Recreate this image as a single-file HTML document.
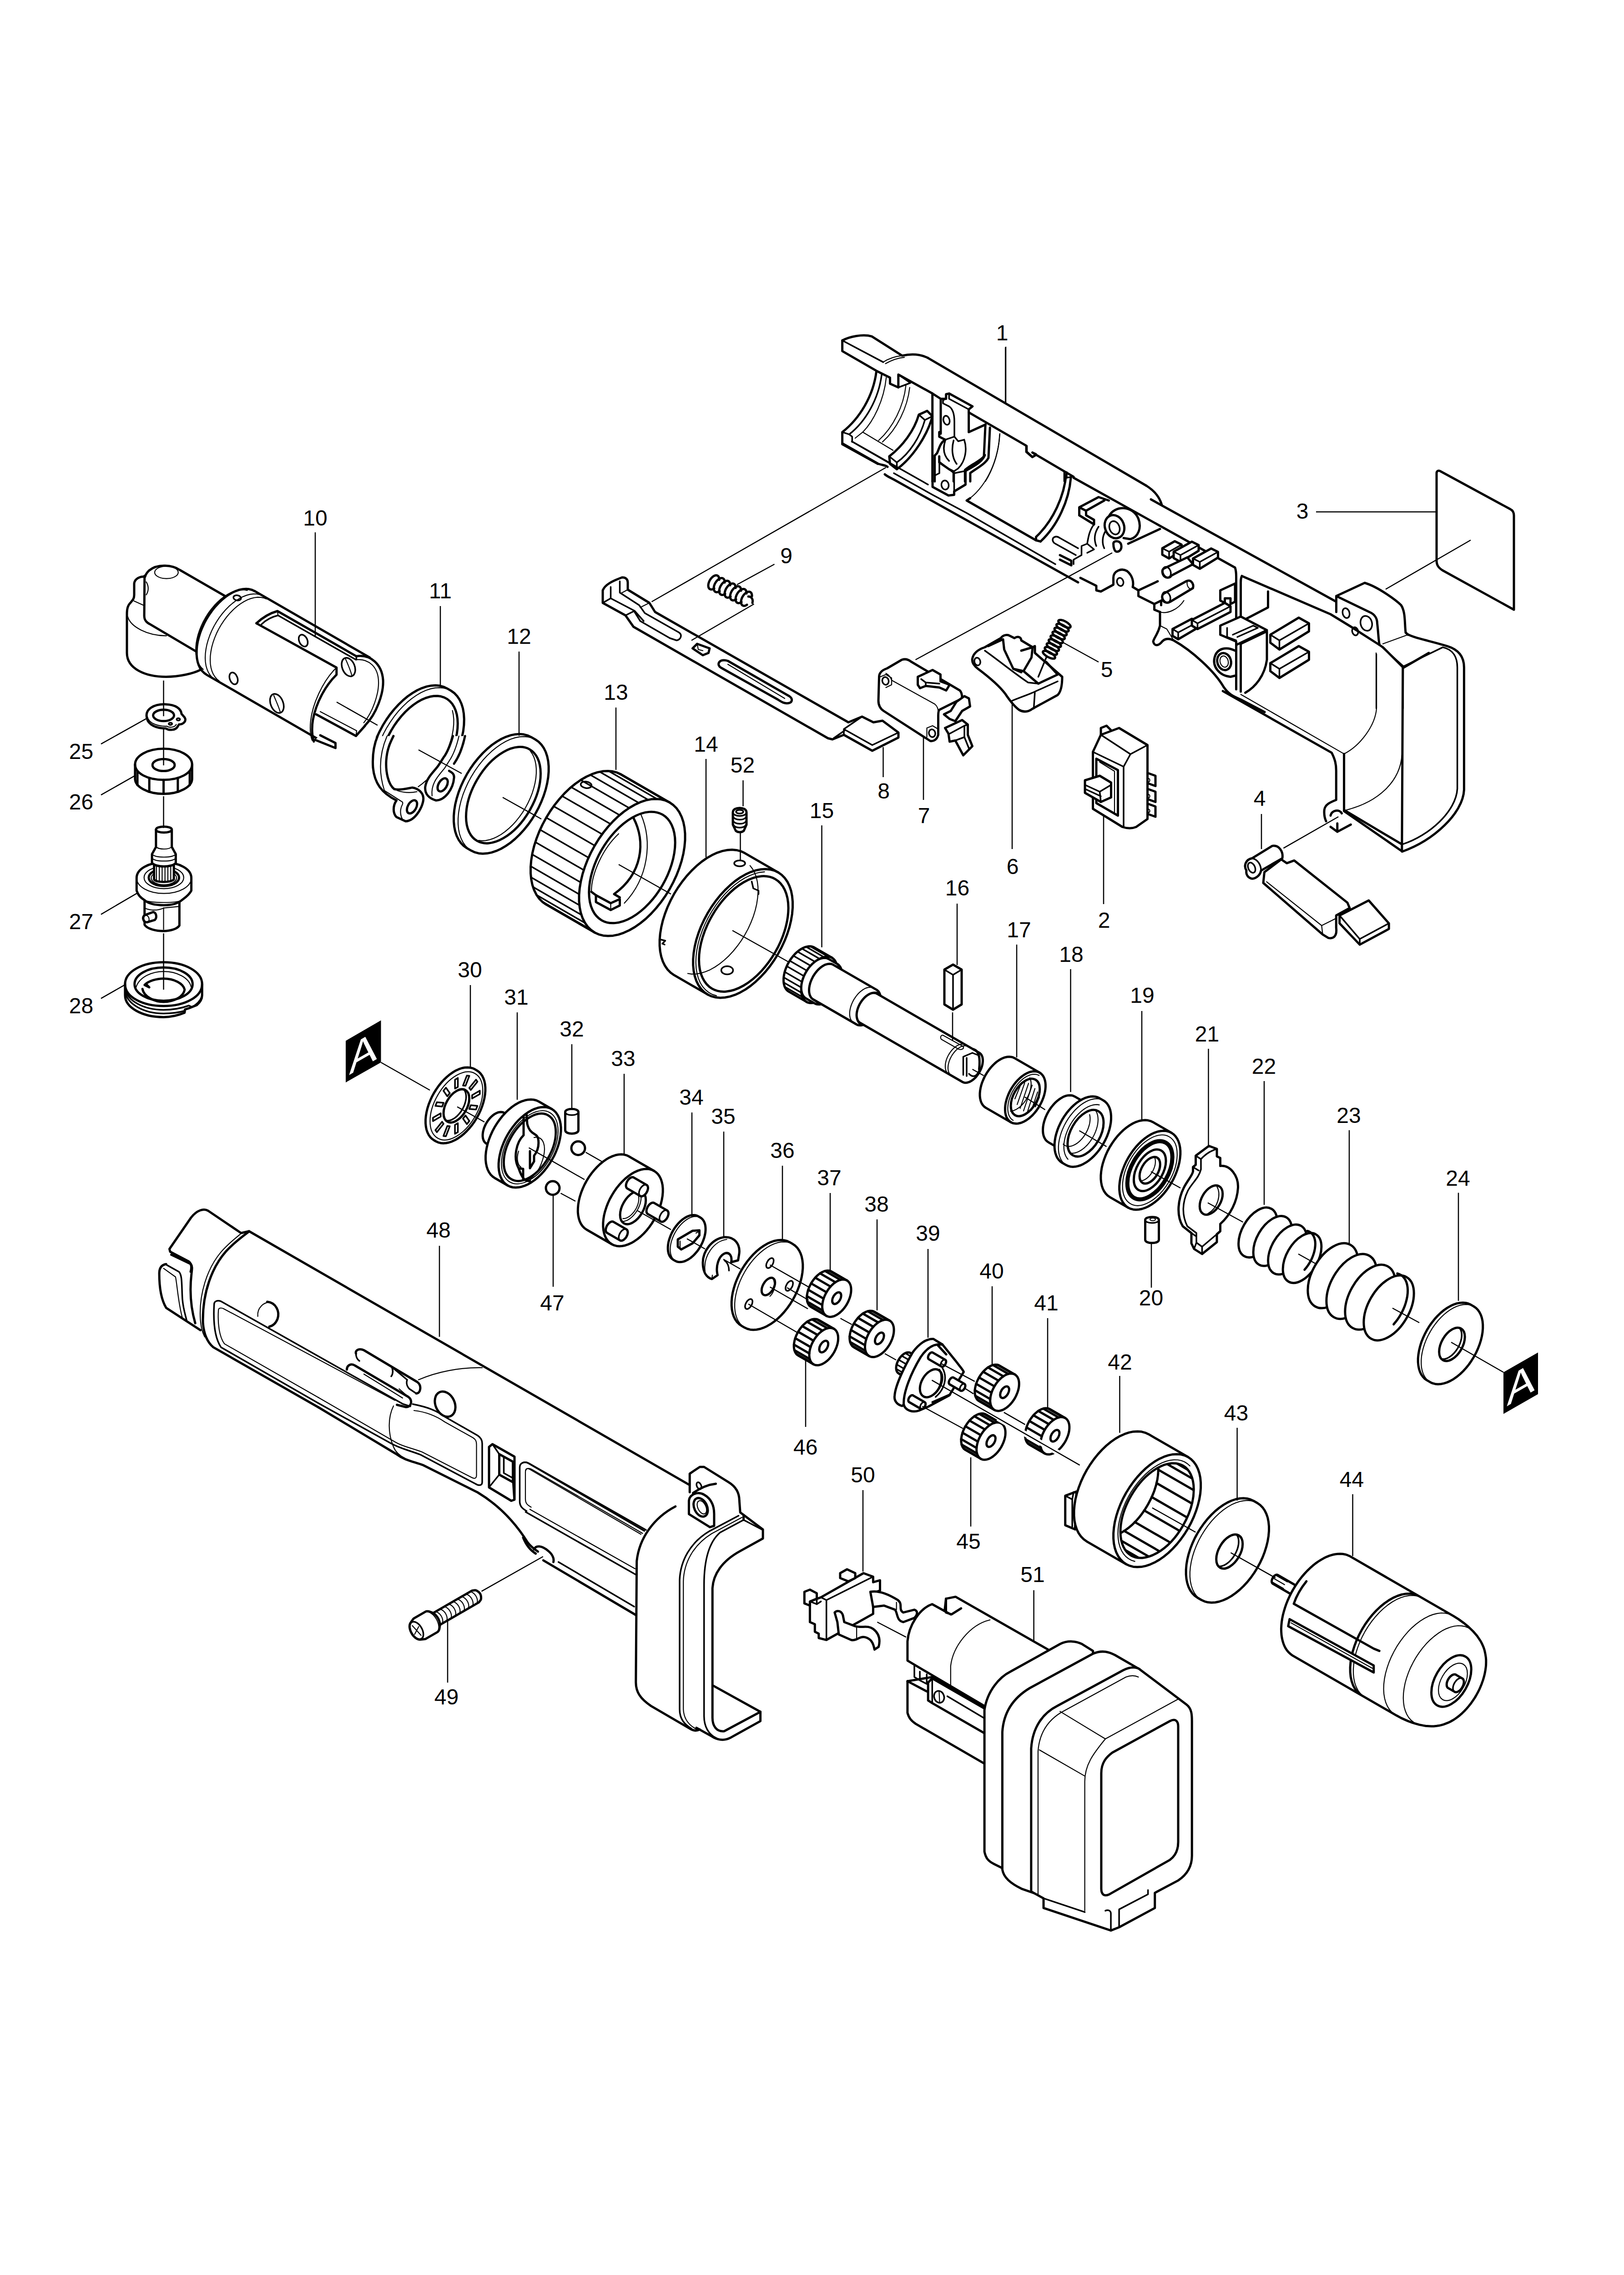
<!DOCTYPE html>
<html><head><meta charset="utf-8"><title>Parts diagram</title>
<style>
html,body{margin:0;padding:0;background:#fff}
svg{display:block}
.o{fill:#fff;stroke:#000;stroke-width:5;stroke-linejoin:round;stroke-linecap:round}
.n{fill:none;stroke:#000;stroke-width:5;stroke-linejoin:round;stroke-linecap:round}
.t{fill:none;stroke:#000;stroke-width:2.2;stroke-linejoin:round;stroke-linecap:round}
.tw{fill:#fff;stroke:#000;stroke-width:2.2;stroke-linejoin:round;stroke-linecap:round}
.m{fill:none;stroke:#000;stroke-width:3.5;stroke-linejoin:round;stroke-linecap:round}
.mw{fill:#fff;stroke:#000;stroke-width:3.5;stroke-linejoin:round;stroke-linecap:round}
.l{fill:none;stroke:#000;stroke-width:2.5}
.w{fill:#fff;stroke:none}
.k{fill:#000;stroke:none}
text{font-family:"Liberation Sans",sans-serif;font-size:48px;fill:#000}
</style></head><body>
<svg width="3570" height="5052" viewBox="0 0 3570 5052">
<g id="vstack"><path class="l" d="M222.0 1635.1 L323.0 1578.6"/>
<path class="l" d="M222.0 1747.2 L296.9 1704.7"/>
<path class="l" d="M222.0 2009.6 L302.1 1962.6"/>
<path class="l" d="M222.0 2194.3 L274.2 2164.7"/>
<text x="178.5" y="1668.0" text-anchor="middle">25</text>
<text x="178.5" y="1779.0" text-anchor="middle">26</text>
<text x="178.5" y="2041.7" text-anchor="middle">27</text>
<text x="178.5" y="2227.0" text-anchor="middle">28</text>
<path class="o" d="M 323.0 1578.6 C 317.8 1558.4 338.7 1546.9 364.8 1547.9 C 385.7 1548.6 397.9 1557.4 399.0 1568.9 L 405.9 1576.9 C 410.8 1584.5 403.1 1592.2 393.4 1592.2 L 389.9 1597.8 C 385.7 1604.7 371.8 1606.1 364.8 1600.9 C 343.9 1600.9 325.8 1593.2 323.0 1578.6 Z"/>
<path class="t" d="M 323.7 1574.1 C 326.5 1591.5 350.9 1596.7 366.6 1596.0 M 366.6 1596.0 C 373.5 1600.2 384.0 1598.5 387.5 1592.2"/>
<ellipse class="n" cx="359.6" cy="1572.3" rx="23.0" ry="12.5"/>
<path class="t" d="M 340.4 1567.1 C 350.9 1558.4 375.3 1559.4 381.5 1568.9"/>
<ellipse class="m" cx="392.0" cy="1581.0" rx="3.8" ry="2.4"/>
<ellipse class="m" cx="374.6" cy="1590.8" rx="3.8" ry="2.4"/>
<path class="o" d="M 296.9 1680.3 C 296.9 1661.2 324.7 1645.5 359.6 1645.5 C 394.4 1645.5 422.3 1661.2 422.3 1680.3 L 422.3 1711.7 C 422.3 1729.1 394.4 1744.8 359.6 1744.8 C 324.7 1744.8 296.9 1729.1 296.9 1711.7 Z"/>
<path class="n" d="M 296.9 1680.3 C 296.9 1699.5 324.7 1714.1 359.6 1714.1 C 394.4 1714.1 422.3 1699.5 422.3 1680.3"/>
<path class="n" d="M 302.1 1696.0 L 302.1 1725.6 M 328.2 1710.0 L 328.2 1740.3 M 359.6 1714.1 L 359.6 1744.8 M 390.9 1710.0 L 390.9 1740.3 M 417.1 1696.0 L 417.1 1725.6"/>
<ellipse class="n" cx="359.6" cy="1681.4" rx="24.4" ry="13.2"/>
<path class="o" d="M 274.9 2162.9 C 274.9 2135.7 312.5 2114.8 359.6 2114.8 C 406.6 2114.8 444.3 2135.7 444.3 2162.9 L 444.3 2187.3 C 444.3 2196.0 439.7 2203.0 432.8 2208.9 L 415.3 2215.9 L 406.6 2218.7 L 405.9 2225.6 C 389.2 2232.6 375.3 2235.4 359.6 2235.4 C 312.5 2235.4 274.9 2214.5 274.9 2187.3 Z"/>
<path class="n" d="M 274.9 2162.9 C 274.9 2190.8 312.5 2211.0 359.6 2211.0 C 406.6 2211.0 444.3 2190.8 444.3 2162.9"/>
<path class="m" d="M 275.6 2173.4 C 279.4 2199.5 316.0 2219.4 359.6 2219.4 C 378.7 2219.4 396.2 2216.9 415.3 2210.0 L 422.3 2213.4 C 431.0 2208.2 439.7 2201.3 443.2 2190.8"/>
<path class="m" d="M 275.6 2180.3 C 279.4 2206.5 316.0 2227.4 359.6 2227.4 C 375.3 2227.4 392.7 2225.6 405.9 2221.5"/>
<ellipse class="n" cx="359.6" cy="2162.9" rx="63.8" ry="36.6"/>
<path class="t" d="M 298.6 2171.6 C 305.6 2145.5 336.9 2135.1 359.6 2135.1 C 389.2 2135.1 415.3 2149.0 419.9 2168.2"/>
<path class="n" d="M 313.2 2173.4 C 316.0 2190.8 340.4 2202.0 359.6 2202.0 C 382.2 2202.0 403.1 2190.8 405.9 2175.1 C 403.1 2161.2 382.2 2150.7 359.6 2150.7 C 343.9 2150.7 326.5 2156.0 317.8 2164.7 L 328.2 2169.9 L 323.0 2164.7"/>
<path class="o" d="M 317.8 1978.3 L 317.8 2032.3 C 323.0 2041.7 343.9 2046.2 359.6 2046.2 C 375.3 2046.2 389.2 2041.7 394.4 2034.0 L 394.4 1978.3 Z"/>
<path class="t" d="M 359.6 1995.7 L 359.6 2042.7"/>
<path class="t" d="M 359.6 1995.7 L 394.4 1992.2"/>
<path class="t" d="M 317.8 1995.7 C 330.0 2000.9 343.9 2002.6 359.6 1995.7"/>
<path class="o" d="M 317.8 2011.4 L 336.9 2004.4 C 343.9 2006.1 345.6 2016.6 340.4 2021.8 L 323.0 2027.0 C 314.3 2027.0 311.8 2014.8 317.8 2011.4 Z"/>
<ellipse class="t" cx="322.0" cy="2019.4" rx="5.6" ry="7.7" transform="rotate(-15 322.0 2019.4)"/>
<path class="o" d="M 300.3 1929.5 C 300.3 1910.3 326.5 1895.3 360.3 1895.3 C 394.4 1895.3 420.6 1910.3 420.6 1929.5 L 420.6 1957.4 C 415.3 1967.8 406.6 1973.0 399.7 1978.3 C 389.2 1987.0 375.3 1989.4 360.3 1989.4 C 343.9 1989.4 326.5 1987.0 317.8 1978.3 C 309.1 1973.0 303.8 1967.8 300.3 1957.4 Z"/>
<path class="t" d="M 300.3 1929.5 C 300.3 1948.6 326.5 1963.6 360.3 1963.6 C 394.4 1963.6 420.6 1948.6 420.6 1929.5"/>
<path class="t" d="M 317.8 1978.3 C 330.0 1985.2 389.2 1985.2 399.7 1978.3"/>
<ellipse class="t" cx="360.3" cy="1928.8" rx="43.6" ry="24.4"/>
<ellipse class="n" cx="360.3" cy="1928.8" rx="33.4" ry="18.5"/>
<ellipse class="t" cx="360.3" cy="1929.5" rx="27.9" ry="15.0"/>
<path class="o" d="M 338.7 1898.1 L 338.7 1933.0 C 343.9 1939.9 375.3 1939.9 382.2 1933.0 L 382.2 1898.1 Z"/>
<path class="t" d="M 343.9 1903.3 L 343.9 1937.1 M 350.2 1905.1 L 350.2 1938.5 M 356.4 1905.8 L 356.4 1939.2 M 362.7 1905.8 L 362.7 1939.2 M 369.0 1905.1 L 369.0 1938.5 M 375.3 1903.3 L 375.3 1937.1"/>
<path class="o" d="M 342.9 1823.2 C 342.9 1814.5 377.7 1814.5 377.7 1823.2 L 377.7 1861.5 L 386.4 1877.2 L 386.4 1896.4 C 378.7 1906.8 342.2 1906.8 334.1 1896.4 L 334.1 1877.2 L 342.9 1861.5 Z"/>
<path class="n" d="M 342.9 1823.2 C 342.9 1831.9 377.7 1831.9 377.7 1823.2"/>
<path class="t" d="M 334.1 1877.2 C 342.2 1885.9 378.7 1885.9 386.4 1877.2 M 334.1 1885.9 C 342.2 1894.6 378.7 1894.6 386.4 1885.9 M 342.9 1861.5 C 350.9 1867.5 370.0 1867.5 377.7 1861.5"/>
<path class="l" d="M359.6 1495.7 L359.6 1574.1"/>
<path class="l" d="M359.6 1602.0 L359.6 1682.1"/>
<path class="l" d="M359.6 1750.0 L359.6 1819.7"/>
<path class="l" d="M359.6 2051.4 L359.6 2175.1"/></g>
<g id="part10"><path class="o" d="M 496.5 1311.0 L 395.0 1252.5 C 380.0 1242.5 347.5 1237.5 327.5 1254.0 C 322.5 1259.0 320.0 1262.5 319.0 1267.5 C 307.5 1266.0 296.0 1272.5 295.0 1282.5 L 295.0 1307.5 C 295.0 1316.0 291.5 1319.0 287.5 1324.0 C 280.0 1331.0 279.0 1340.0 279.0 1350.0 L 279.0 1435.0 C 279.0 1470.0 320.0 1487.5 365.0 1487.5 C 395.0 1487.5 425.0 1480.0 440.0 1472.5 Z"/>
<path class="n" d="M 317.8 1265.4 L 317.1 1352.9 C 317.1 1362.8 321.5 1367.7 328.9 1371.4 L 431.3 1431.8"/>
<path class="t" d="M 321.5 1278.9 Q 330.1 1293.7 321.5 1307.3"/>
<path class="t" d="M 294.4 1320.8 L 316.6 1330.7"/>
<path class="t" d="M 280.8 1355.4 C 287.0 1377.6 324.0 1397.3 365.9 1397.3"/>
<ellipse class="t" cx="365.9" cy="1258.0" rx="25.9" ry="13.6"/>
<path class="w" d="M560.0 1299.2 L554.2 1296.5 L547.8 1294.8 L541.0 1294.2 L533.9 1294.7 L526.4 1296.2 L518.7 1298.8 L510.9 1302.3 L503.1 1306.8 L495.3 1312.3 L487.6 1318.6 L480.2 1325.7 L473.0 1333.5 L466.2 1342.0 L459.9 1351.0 L454.0 1360.4 L448.8 1370.2 L444.2 1380.2 L440.2 1390.3 L437.1 1400.4 L434.6 1410.4 L433.0 1420.2 L432.2 1429.7 L432.2 1438.8 L433.0 1447.3 L434.6 1455.2 L437.0 1462.4 L440.2 1468.9 L444.1 1474.4 L448.8 1479.1 L454.0 1482.8 L713.8 1632.8 L719.6 1635.5 L726.0 1637.2 L732.8 1637.8 L739.9 1637.3 L747.4 1635.8 L755.1 1633.2 L762.9 1629.7 L770.7 1625.2 L778.5 1619.7 L786.2 1613.4 L793.6 1606.3 L800.8 1598.5 L807.6 1590.0 L813.9 1581.0 L819.8 1571.6 L825.0 1561.8 L829.6 1551.8 L833.6 1541.7 L836.8 1531.6 L839.2 1521.6 L840.8 1511.8 L841.6 1502.3 L841.6 1493.2 L840.8 1484.7 L839.2 1476.8 L836.8 1469.6 L833.6 1463.1 L829.7 1457.6 L825.1 1452.9 L819.8 1449.2 Z"/>
<path class="n" d="M560.0 1299.2 L554.2 1296.5 L547.8 1294.8 L541.0 1294.2 L533.9 1294.7 L526.4 1296.2 L518.7 1298.8 L510.9 1302.3 L503.1 1306.8 L495.3 1312.3 L487.6 1318.6 L480.2 1325.7 L473.0 1333.5 L466.2 1342.0 L459.9 1351.0 L454.0 1360.4 L448.8 1370.2 L444.2 1380.2 L440.2 1390.3 L437.1 1400.4 L434.6 1410.4 L433.0 1420.2 L432.2 1429.7 L432.2 1438.8 L433.0 1447.3 L434.6 1455.2 L437.0 1462.4 L440.2 1468.9 L444.1 1474.4 L448.8 1479.1 L454.0 1482.8 L699.1 1624.3"/>
<path class="n" d="M560.0 1299.2 L812.9 1445.2"/>
<path class="t" d="M446.8 1471.3 L442.2 1466.9 L438.3 1461.5 L435.1 1455.4 L432.7 1448.4 L431.1 1440.7 L430.3 1432.4 L430.4 1423.6 L431.2 1414.3 L432.9 1404.8 L435.3 1395.0 L438.6 1385.2 L442.5 1375.4 L447.1 1365.7 L452.4 1356.3 L458.2 1347.2 L464.5 1338.6 L471.2 1330.6 L478.3 1323.2 L485.7 1316.6 L493.2 1310.8 L500.8 1305.9 L508.4 1302.0 L516.0 1299.1 L523.3 1297.1 L530.4 1296.3 L537.2 1296.5 L543.5 1297.7"/>
<path class="t" d="M471.2 1492.7 L466.1 1488.6 L461.7 1483.5 L458.0 1477.6 L455.1 1470.8 L452.9 1463.2 L451.6 1454.9 L451.1 1446.1 L451.5 1436.7 L452.7 1427.0 L454.7 1416.9 L457.5 1406.8 L461.1 1396.5 L465.4 1386.3 L470.4 1376.3 L476.0 1366.6 L482.1 1357.3 L488.8 1348.5 L495.9 1340.2 L503.3 1332.7 L511.0 1326.0 L518.8 1320.1 L526.8 1315.1 L534.7 1311.1 L542.5 1308.1 L550.1 1306.1 L557.5 1305.3 L564.5 1305.5 L571.1 1306.8 L577.2 1309.2"/>
<path class="t" d="M481.8 1496.5 L476.8 1492.5 L472.5 1487.5 L468.8 1481.7 L465.9 1475.0 L463.8 1467.5 L462.5 1459.4 L462.1 1450.7 L462.4 1441.6 L463.6 1432.0 L465.5 1422.2 L468.3 1412.2 L471.8 1402.1 L476.0 1392.1 L480.9 1382.3 L486.4 1372.8 L492.5 1363.6 L499.0 1355.0 L506.0 1346.9 L513.3 1339.5 L520.8 1332.9 L528.5 1327.1 L536.3 1322.2 L544.0 1318.3 L551.7 1315.4 L559.2 1313.5 L566.4 1312.6 L573.3 1312.8 L579.8 1314.1 L585.7 1316.4"/>
<ellipse class="m" cx="521.5" cy="1314.0" rx="8.5" ry="5.5" transform="rotate(10 521.5 1314.0)"/>
<path class="w" d="M 783.4 1442.3 C 814.7 1437.4 839.6 1459.8 842.1 1494.8 C 843.4 1524.7 827.1 1559.7 809.7 1584.7 L 789.7 1614.6 L 689.8 1572.9 C 694.8 1544.7 714.8 1507.3 739.8 1482.3 L 739.8 1467.3 Z"/>
<path class="n" d="M 783.4 1442.3 C 814.7 1437.4 839.6 1459.8 842.1 1494.8 C 843.6 1524.7 827.1 1569.7 802.2 1594.7"/>
<path class="t" d="M 783.4 1449.8 C 809.7 1447.3 832.1 1464.8 832.1 1499.8 C 832.6 1524.7 819.7 1564.7 799.7 1588.4"/>
<path class="m" d="M 783.4 1442.3 L 783.4 1449.8"/>
<path class="n" d="M 563.7 1369.9 Q 584.9 1350.0 609.9 1343.0 L 783.4 1442.3"/>
<path class="n" d="M 563.7 1369.9 L 739.8 1467.3 L 739.8 1482.8 C 714.8 1507.3 694.8 1544.7 687.8 1582.2 C 684.8 1599.7 686.1 1619.6 689.8 1629.6"/>
<path class="m" d="M 575.0 1371.9 Q 589.9 1357.5 611.2 1352.5 L 782.2 1449.8"/>
<path class="t" d="M 609.9 1343.0 L 611.2 1352.5"/>
<path class="t" d="M 733.5 1473.6 C 709.8 1499.8 687.3 1544.7 682.8 1584.7 C 681.1 1602.1 682.3 1617.1 686.1 1627.1"/>
<path class="t" d="M 733.5 1473.6 L 739.8 1467.3"/>
<ellipse class="m" cx="666.6" cy="1407.9" rx="9.0" ry="13.7" transform="rotate(-25 666.6 1407.9)"/>
<ellipse class="mw" cx="766.0" cy="1466.1" rx="13.7" ry="21.2" transform="rotate(-22 766.0 1466.1)"/>
<path class="t" d="M 759.7 1448.6 C 764.7 1459.8 771.0 1474.8 773.5 1484.8"/>
<ellipse class="mw" cx="608.7" cy="1546.0" rx="13.7" ry="22.0" transform="rotate(-22 608.7 1546.0)"/>
<path class="t" d="M 601.9 1528.5 C 606.2 1539.7 613.7 1554.7 616.2 1565.9"/>
<ellipse class="mw" cx="513.5" cy="1491.0" rx="8.5" ry="13.5" transform="rotate(-20 513.5 1491.0)"/>
<path class="o" d="M 692.5 1626.0 L 737.5 1644.0 L 737.5 1633.0 L 704.0 1616.0"/>
<path class="n" d="M 695.0 1570.0 L 782.5 1617.5 L 802.5 1595.0"/>
<path class="t" d="M 704.0 1564.0 L 784.0 1606.0"/>
<path class="t" d="M 782.5 1617.5 L 784.0 1606.0"/></g>
<g id="part11"><path class="w" d="M828.4 1620.6 L834.6 1607.3 L841.5 1594.3 L849.3 1581.8 L857.7 1569.8 L866.8 1558.6 L876.3 1548.2 L886.2 1538.7 L896.4 1530.3 L906.8 1523.1 L917.2 1517.0 L927.6 1512.3 L937.8 1508.9 L947.7 1506.9 L957.3 1506.3 L966.3 1507.1 L974.7 1509.3 L982.5 1512.9 L991.2 1517.9 L998.5 1523.1 L1004.8 1529.7 L1010.2 1537.7 L1014.4 1546.8 L1017.6 1557.1 L1019.5 1568.4 L1020.3 1580.6 L1019.9 1593.5 L1018.3 1607.0 L1015.4 1620.8 L1002.0 1623.5 L1004.4 1612.0 L1005.8 1600.8 L1006.2 1590.0 L1005.7 1579.8 L1004.2 1570.3 L1001.7 1561.6 L998.3 1553.7 L994.1 1546.9 L989.0 1541.1 L983.1 1536.4 L976.5 1532.9 L969.3 1530.6 L961.6 1529.6 L953.3 1529.8 L944.7 1531.3 L935.9 1534.0 L926.8 1537.9 L917.7 1543.0 L908.6 1549.2 L899.7 1556.4 L891.0 1564.5 L882.6 1573.6 L874.7 1583.3 L867.2 1593.7 L860.4 1604.7 L854.3 1616.0 L848.9 1627.6 Z"/>
<path class="n" d="M828.4 1620.6 L834.6 1607.3 L841.5 1594.3 L849.3 1581.8 L857.7 1569.8 L866.8 1558.6 L876.3 1548.2 L886.2 1538.7 L896.4 1530.3 L906.8 1523.1 L917.2 1517.0 L927.6 1512.3 L937.8 1508.9 L947.7 1506.9 L957.3 1506.3 L966.3 1507.1 L974.7 1509.3 L982.5 1512.9 L991.2 1517.9 L998.5 1523.1 L1004.8 1529.7 L1010.2 1537.7 L1014.4 1546.8 L1017.6 1557.1 L1019.5 1568.4 L1020.3 1580.6 L1019.9 1593.5 L1018.3 1607.0 L1015.4 1620.8"/>
<path class="n" d="M1002.0 1623.5 L1004.4 1612.0 L1005.8 1600.8 L1006.2 1590.0 L1005.7 1579.8 L1004.2 1570.3 L1001.7 1561.6 L998.3 1553.7 L994.1 1546.9 L989.0 1541.1 L983.1 1536.4 L976.5 1532.9 L969.3 1530.6 L961.6 1529.6 L953.3 1529.8 L944.7 1531.3 L935.9 1534.0 L926.8 1537.9 L917.7 1543.0 L908.6 1549.2 L899.7 1556.4 L891.0 1564.5 L882.6 1573.6 L874.7 1583.3 L867.2 1593.7 L860.4 1604.7 L854.3 1616.0 L848.9 1627.6"/>
<path class="t" d="M837.1 1625.6 L843.2 1612.3 L850.2 1599.3 L858.0 1586.8 L866.4 1574.8 L875.4 1563.6 L885.0 1553.2 L894.9 1543.7 L905.1 1535.3 L915.5 1528.1 L925.9 1522.0 L936.3 1517.3 L946.5 1513.9 L956.4 1511.9 L965.9 1511.3 L975.0 1512.1 L983.4 1514.3 L991.2 1517.9"/>
<path class="t" d="M994.6 1561.7 L996.5 1571.1 L997.5 1581.3 L997.3 1592.2 L996.2 1603.5 L994.1 1615.2 L991.0 1627.2 L987.0 1639.2 L982.1 1651.2 L976.3 1663.0 L969.8 1674.4 L962.6 1685.4 L954.7 1695.8 L946.4 1705.5 L937.7 1714.4 L928.7 1722.2 L919.4 1729.1"/>
<path class="w" d="M 830.0 1617.7 C 821.6 1637.6 818.3 1662.6 820.0 1687.6 C 823.3 1720.9 838.3 1742.5 871.6 1759.2 C 863.3 1770.8 863.3 1787.5 871.6 1795.8 L 891.6 1805.0 C 913.2 1804.1 931.5 1770.8 930.7 1754.2 C 929.9 1740.9 918.2 1732.5 906.5 1730.9 C 896.6 1732.5 879.9 1737.5 866.6 1734.2 C 853.3 1724.2 847.5 1695.9 849.1 1670.9 C 850.8 1646.0 858.3 1631.0 864.9 1617.7 Z"/>
<path class="n" d="M 830.0 1617.7 C 821.6 1637.6 818.3 1662.6 820.0 1687.6 C 823.3 1720.9 838.3 1742.5 871.6 1759.2 C 863.3 1770.8 863.3 1787.5 871.6 1795.8 L 891.6 1805.0 C 913.2 1804.1 931.5 1770.8 930.7 1754.2 C 929.9 1740.9 918.2 1732.5 906.5 1730.9 C 896.6 1732.5 879.9 1737.5 866.6 1734.2 C 853.3 1724.2 847.5 1695.9 849.1 1670.9 C 850.8 1646.0 858.3 1631.0 864.9 1617.7"/>
<path class="t" d="M 850.8 1617.7 C 835.0 1654.3 831.6 1695.9 845.0 1737.5 L 881.6 1760.8 Q 886.6 1762.5 884.9 1767.5 C 878.2 1779.1 879.9 1792.5 884.9 1800.8"/>
<path class="t" d="M 873.3 1737.5 C 888.2 1742.5 904.9 1742.5 916.5 1740.0"/>
<ellipse class="o" cx="905.7" cy="1773.3" rx="9.2" ry="15.8" transform="rotate(30 905.7 1773.3)"/>
<path class="w" d="M 1022.2 1617.7 C 1016.4 1646.0 1008.1 1664.3 998.1 1678.4 L 987.3 1694.2 C 993.1 1697.6 998.9 1700.9 998.1 1709.2 C 996.4 1734.2 978.1 1759.2 958.2 1759.2 C 943.2 1754.2 933.2 1745.9 934.8 1729.2 C 938.2 1707.6 954.8 1695.9 964.8 1680.9 L 974.8 1665.1 C 983.1 1654.3 989.8 1637.6 995.6 1617.7 Z"/>
<path class="n" d="M 1022.2 1617.7 C 1016.4 1646.0 1008.1 1664.3 998.1 1678.4 M 987.3 1694.2 C 993.1 1697.6 998.9 1700.9 998.1 1709.2 C 996.4 1734.2 978.1 1759.2 958.2 1759.2 C 943.2 1754.2 933.2 1745.9 934.8 1729.2 C 938.2 1707.6 954.8 1695.9 964.8 1680.9 L 974.8 1665.1 C 983.1 1654.3 989.8 1637.6 995.6 1617.7"/>
<path class="t" d="M 1008.9 1617.7 C 1003.1 1642.6 996.4 1659.3 987.3 1672.6 L 977.3 1688.4 C 964.8 1704.2 946.5 1720.9 949.8 1749.2"/>
<ellipse class="o" cx="973.1" cy="1725.0" rx="9.2" ry="15.8" transform="rotate(30 973.1 1725.0)"/></g>
<g id="part12"><path class="o" d="M1167.5 1619.9 L1159.7 1616.3 L1151.3 1614.1 L1142.3 1613.3 L1132.7 1613.9 L1122.8 1615.9 L1112.6 1619.3 L1102.2 1624.0 L1091.8 1630.1 L1081.4 1637.3 L1071.2 1645.7 L1061.3 1655.2 L1051.8 1665.6 L1042.7 1676.8 L1034.3 1688.8 L1026.5 1701.3 L1019.6 1714.3 L1013.4 1727.6 L1008.2 1741.0 L1004.0 1754.5 L1000.7 1767.8 L998.6 1780.9 L997.5 1793.5 L997.5 1805.5 L998.6 1816.9 L1000.7 1827.4 L1003.9 1837.0 L1008.2 1845.6 L1013.4 1853.0 L1019.5 1859.2 L1026.5 1864.1 L1036.0 1869.6 L1043.8 1873.2 L1052.2 1875.4 L1061.2 1876.2 L1070.8 1875.6 L1080.7 1873.6 L1090.9 1870.2 L1101.3 1865.5 L1111.7 1859.4 L1122.1 1852.2 L1132.3 1843.8 L1142.2 1834.3 L1151.7 1823.9 L1160.8 1812.7 L1169.2 1800.7 L1177.0 1788.2 L1184.0 1775.2 L1190.1 1761.9 L1195.3 1748.5 L1199.6 1735.0 L1202.8 1721.7 L1205.0 1708.6 L1206.1 1696.0 L1206.1 1684.0 L1205.0 1672.6 L1202.8 1662.1 L1199.6 1652.5 L1195.3 1643.9 L1190.1 1636.5 L1184.0 1630.3 L1177.0 1625.4 Z"/>
<path class="t" d="M1036.0 1869.6 L1029.0 1864.7 L1022.9 1858.5 L1017.7 1851.1 L1013.5 1842.5 L1010.2 1832.9 L1008.1 1822.4 L1007.0 1811.0 L1007.0 1799.0 L1008.1 1786.4 L1010.3 1773.3 L1013.5 1760.0 L1017.7 1746.5 L1023.0 1733.1 L1029.1 1719.8 L1036.1 1706.8 L1043.8 1694.3 L1052.3 1682.3 L1061.3 1671.1 L1070.8 1660.7 L1080.8 1651.2 L1091.0 1642.8 L1101.3 1635.6 L1111.8 1629.5 L1122.1 1624.8 L1132.4 1621.4 L1142.3 1619.4 L1151.8 1618.8 L1160.8 1619.6 L1169.3 1621.8 L1177.0 1625.4"/>
<ellipse class="o" cx="1106.5" cy="1747.5" rx="66.9" ry="116.0" transform="rotate(30 1106.5 1747.5)"/>
<path class="t" d="M1165.8 1650.7 L1170.1 1656.8 L1173.6 1663.8 L1176.2 1671.7 L1178.0 1680.4 L1178.9 1689.7 L1178.9 1699.6 L1178.0 1710.0 L1176.2 1720.8 L1173.5 1731.7 L1170.1 1742.8 L1165.8 1753.8 L1160.7 1764.8 L1155.0 1775.5 L1148.6 1785.8 L1141.6 1795.6 L1134.2 1804.9 L1126.4 1813.4 L1118.2 1821.2 L1109.8 1828.1 L1101.3 1834.1 L1092.7 1839.0 L1084.1 1842.9 L1075.8 1845.7 L1067.6 1847.4 L1059.8 1847.9 L1052.3 1847.2"/></g>
<g id="part13"><path class="o" d="M1365.5 1702.1 L1356.4 1697.9 L1346.6 1695.3 L1336.0 1694.4 L1324.8 1695.1 L1313.2 1697.4 L1301.3 1701.4 L1289.1 1707.0 L1276.9 1714.0 L1264.8 1722.5 L1252.8 1732.3 L1241.2 1743.4 L1230.1 1755.6 L1219.5 1768.7 L1209.6 1782.7 L1200.6 1797.4 L1192.4 1812.6 L1185.2 1828.1 L1179.1 1843.9 L1174.1 1859.6 L1170.3 1875.2 L1167.8 1890.5 L1166.5 1905.2 L1166.5 1919.3 L1167.8 1932.6 L1170.3 1944.9 L1174.1 1956.2 L1179.1 1966.2 L1185.2 1974.9 L1192.3 1982.1 L1200.5 1987.9 L1307.0 2049.4 L1316.1 2053.6 L1326.0 2056.2 L1336.5 2057.1 L1347.7 2056.4 L1359.3 2054.1 L1371.2 2050.1 L1383.4 2044.5 L1395.6 2037.5 L1407.7 2029.0 L1419.7 2019.2 L1431.3 2008.1 L1442.4 1995.9 L1453.0 1982.8 L1462.9 1968.8 L1472.0 1954.1 L1480.1 1938.9 L1487.3 1923.4 L1493.4 1907.6 L1498.4 1891.9 L1502.2 1876.3 L1504.7 1861.0 L1506.0 1846.3 L1506.0 1832.2 L1504.7 1818.9 L1502.2 1806.6 L1498.4 1795.3 L1493.5 1785.3 L1487.4 1776.6 L1480.2 1769.4 L1472.0 1763.6 Z"/>
<path class="m" d="M1191.1 1981.0 L1297.6 2042.5 M1179.6 1967.1 L1286.1 2028.6 M1171.6 1949.2 L1278.1 2010.7 M1167.2 1927.9 L1273.7 1989.4 M1166.6 1903.8 L1273.1 1965.3 M1169.8 1877.8 L1276.4 1939.3 M1176.8 1850.7 L1283.3 1912.2 M1187.2 1823.5 L1293.8 1885.0 M1200.8 1796.9 L1307.4 1858.4 M1217.1 1771.9 L1323.7 1833.4 M1235.6 1749.4 L1342.1 1810.9 M1255.6 1729.9 L1362.1 1791.4 M1276.5 1714.3 L1383.0 1775.8 M1297.7 1702.9 L1404.2 1764.4 M1318.3 1696.2 L1424.8 1757.7 M1337.8 1694.4 L1444.3 1755.9 M1355.5 1697.6 L1462.0 1759.1"/>
<path class="n" d="M1307.0 2049.4 L1298.9 2043.6 L1291.7 2036.4 L1285.6 2027.7 L1280.6 2017.7 L1276.8 2006.4 L1274.3 1994.1 L1273.0 1980.8 L1273.0 1966.7 L1274.3 1952.0 L1276.9 1936.7 L1280.6 1921.1 L1285.6 1905.4 L1291.7 1889.6 L1298.9 1874.1 L1307.1 1858.9 L1316.1 1844.2 L1326.0 1830.2 L1336.6 1817.1 L1347.8 1804.9 L1359.4 1793.8 L1371.3 1784.0 L1383.5 1775.5 L1395.7 1768.5 L1407.8 1762.9 L1419.7 1758.9 L1431.4 1756.6 L1442.5 1755.9 L1453.1 1756.8 L1463.0 1759.4 L1472.0 1763.6"/>
<ellipse class="o" cx="1389.5" cy="1906.5" rx="77.3" ry="134.0" transform="rotate(30 1389.5 1906.5)"/>
<ellipse class="m" cx="1288.5" cy="1725.0" rx="12.0" ry="7.0" transform="rotate(8 1288.5 1725.0)"/>
<path class="t" d="M 1360.0 1832.5 C 1325.0 1865.0 1300.0 1920.0 1300.0 1960.0"/>
<path class="n" d="M 1392.5 1797.5 C 1420.0 1850.0 1412.5 1920.0 1350.0 1965.0 L 1362.5 1972.5"/>
<path class="t" d="M 1409.0 1790.0 C 1435.0 1850.0 1425.0 1930.0 1372.5 1985.0"/>
<path class="o" d="M 1310.0 1967.5 L 1342.5 1985.0 L 1362.5 1976.0 L 1362.5 1990.0 L 1342.5 2000.0 L 1310.0 1982.5 Z"/>
<path class="t" d="M 1342.5 1985.0 L 1342.5 2000.0"/>
<path class="n" d="M 1300.0 1960.0 L 1310.0 1967.5"/></g>
<g id="part14"><path class="o" d="M1637.0 1874.8 L1628.5 1870.8 L1619.2 1868.4 L1609.3 1867.5 L1598.8 1868.2 L1587.9 1870.4 L1576.7 1874.1 L1565.3 1879.3 L1553.8 1885.9 L1542.4 1893.9 L1531.2 1903.2 L1520.3 1913.6 L1509.8 1925.0 L1499.9 1937.4 L1490.6 1950.5 L1482.0 1964.3 L1474.4 1978.6 L1467.6 1993.2 L1461.9 2008.0 L1457.2 2022.7 L1453.7 2037.4 L1451.3 2051.7 L1450.1 2065.6 L1450.1 2078.8 L1451.3 2091.3 L1453.7 2102.9 L1457.2 2113.4 L1461.9 2122.8 L1467.6 2131.0 L1474.3 2137.8 L1482.0 2143.2 L1555.6 2185.7 L1564.1 2189.7 L1573.4 2192.1 L1583.3 2193.0 L1593.8 2192.3 L1604.7 2190.1 L1615.9 2186.4 L1627.3 2181.2 L1638.8 2174.6 L1650.2 2166.6 L1661.4 2157.3 L1672.3 2146.9 L1682.8 2135.5 L1692.8 2123.1 L1702.0 2110.0 L1710.6 2096.2 L1718.2 2081.9 L1725.0 2067.3 L1730.7 2052.5 L1735.4 2037.8 L1738.9 2023.1 L1741.3 2008.8 L1742.5 1994.9 L1742.5 1981.7 L1741.3 1969.2 L1739.0 1957.6 L1735.4 1947.1 L1730.8 1937.7 L1725.0 1929.5 L1718.3 1922.7 L1710.6 1917.3 Z"/>
<path class="n" d="M1555.6 2185.7 L1547.9 2180.3 L1541.2 2173.5 L1535.5 2165.3 L1530.8 2155.9 L1527.3 2145.4 L1524.9 2133.8 L1523.7 2121.3 L1523.7 2108.1 L1524.9 2094.2 L1527.3 2079.9 L1530.8 2065.2 L1535.5 2050.5 L1541.2 2035.7 L1548.0 2021.1 L1555.7 2006.8 L1564.2 1993.0 L1573.5 1979.9 L1583.4 1967.5 L1593.9 1956.1 L1604.8 1945.7 L1616.0 1936.4 L1627.4 1928.4 L1638.9 1921.8 L1650.3 1916.6 L1661.5 1912.9 L1672.4 1910.7 L1682.9 1910.0 L1692.8 1910.9 L1702.1 1913.3 L1710.6 1917.3"/>
<path class="t" d="M1574.9 2188.4 L1566.0 2185.6 L1558.0 2181.2 L1550.8 2175.4 L1544.5 2168.2 L1539.3 2159.7 L1535.2 2150.1 L1532.2 2139.3 L1530.3 2127.6 L1529.7 2115.0 L1530.2 2101.8 L1531.9 2088.0 L1534.8 2073.8 L1538.8 2059.3 L1543.9 2044.8 L1550.0 2030.4 L1557.1 2016.3 L1565.1 2002.5 L1573.8 1989.3 L1583.3 1976.9 L1593.3 1965.3 L1603.9 1954.6 L1614.7 1945.1 L1625.8 1936.8 L1637.1 1929.8 L1648.3 1924.2 L1659.3 1920.0 L1670.1 1917.3 L1680.6 1916.1"/>
<ellipse class="o" cx="1634.8" cy="2052.5" rx="80.2" ry="139.0" transform="rotate(30 1634.8 2052.5)"/>
<path class="t" d="M1648.7 1902.4 L1654.2 1909.5 L1658.8 1917.9 L1662.4 1927.3 L1664.8 1937.7 L1666.2 1949.0 L1666.4 1961.1 L1665.4 1973.7 L1663.4 1986.9 L1660.3 2000.3 L1656.1 2013.9 L1650.8 2027.5 L1644.7 2041.0 L1637.6 2054.1 L1629.8 2066.8 L1621.2 2078.8 L1612.0 2090.2 L1602.4 2100.6 L1592.3 2110.0 L1581.9 2118.4 L1571.4 2125.5 L1560.9 2131.4 L1550.4 2135.8 L1540.2 2138.9 L1530.2 2140.6 L1520.7 2140.8 L1511.8 2139.5"/>
<ellipse class="m" cx="1626.0" cy="1897.5" rx="12.0" ry="6.5"/>
<ellipse class="m" cx="1598.5" cy="2132.5" rx="13.0" ry="9.0"/>
<path class="m" d="M 1452.5 2065.0 L 1462.5 2067.5 L 1456.0 2074.0 L 1461.0 2076.0"/>
<path class="m" d="M 1652.5 1937.5 L 1656.0 1952.5 L 1667.5 1957.5 L 1667.5 1965.0"/></g>
<g id="part15"><path class="o" d="M1790.0 2082.4 L1786.9 2081.0 L1783.6 2080.1 L1780.0 2079.8 L1776.2 2080.1 L1772.3 2080.9 L1768.2 2082.2 L1764.1 2084.1 L1759.9 2086.5 L1755.8 2089.4 L1751.8 2092.7 L1747.8 2096.4 L1744.0 2100.6 L1740.5 2105.0 L1737.1 2109.8 L1734.0 2114.8 L1731.2 2119.9 L1728.8 2125.2 L1726.7 2130.6 L1725.0 2135.9 L1723.8 2141.2 L1722.9 2146.4 L1722.5 2151.4 L1722.5 2156.2 L1722.9 2160.7 L1723.8 2164.9 L1725.0 2168.7 L1726.7 2172.1 L1728.8 2175.0 L1731.2 2177.5 L1734.0 2179.4 L1773.0 2201.9 L1776.0 2203.4 L1779.4 2204.2 L1783.0 2204.5 L1786.8 2204.3 L1790.7 2203.5 L1794.8 2202.2 L1798.9 2200.3 L1803.0 2197.9 L1807.2 2195.0 L1811.2 2191.7 L1815.1 2187.9 L1818.9 2183.8 L1822.5 2179.3 L1825.9 2174.6 L1829.0 2169.6 L1831.7 2164.4 L1834.2 2159.2 L1836.2 2153.8 L1837.9 2148.5 L1839.2 2143.2 L1840.1 2138.0 L1840.5 2133.0 L1840.5 2128.2 L1840.1 2123.7 L1839.2 2119.5 L1837.9 2115.7 L1836.2 2112.3 L1834.2 2109.4 L1831.7 2106.9 L1829.0 2104.9 Z"/>
<path class="n" d="M1773.0 2201.9 L1770.2 2200.0 L1767.8 2197.5 L1765.7 2194.6 L1764.0 2191.2 L1762.7 2187.4 L1761.9 2183.2 L1761.4 2178.7 L1761.4 2173.9 L1761.9 2168.9 L1762.7 2163.7 L1764.0 2158.4 L1765.7 2153.1 L1767.8 2147.7 L1770.2 2142.4 L1773.0 2137.3 L1776.1 2132.3 L1779.4 2127.5 L1783.0 2123.1 L1786.8 2118.9 L1790.7 2115.2 L1794.8 2111.9 L1798.9 2109.0 L1803.1 2106.6 L1807.2 2104.7 L1811.2 2103.4 L1815.2 2102.6 L1819.0 2102.3 L1822.5 2102.6 L1825.9 2103.5 L1829.0 2104.9"/>
<path class="m" d="M1729.6 2175.9 L1768.5 2198.4 M1725.0 2168.7 L1764.0 2191.2 M1722.7 2159.2 L1761.7 2181.7 M1722.7 2148.1 L1761.7 2170.6 M1725.0 2135.9 L1764.0 2158.4 M1729.6 2123.4 L1768.6 2145.9 M1736.0 2111.4 L1775.0 2133.9 M1744.0 2100.6 L1783.0 2123.1 M1753.1 2091.5 L1792.1 2114.0 M1762.7 2084.8 L1801.7 2107.3 M1772.3 2080.9 L1811.2 2103.4 M1781.2 2079.9 L1820.2 2102.4"/>
<path class="o" d="M1821.6 2107.6 L1818.9 2106.4 L1815.9 2105.6 L1812.7 2105.3 L1809.3 2105.5 L1805.8 2106.2 L1802.2 2107.4 L1798.5 2109.1 L1794.8 2111.2 L1791.1 2113.8 L1787.5 2116.8 L1784.0 2120.1 L1780.6 2123.8 L1777.4 2127.8 L1774.4 2132.1 L1771.7 2136.5 L1769.2 2141.1 L1767.0 2145.8 L1765.2 2150.6 L1763.6 2155.4 L1762.5 2160.1 L1761.7 2164.7 L1761.3 2169.2 L1761.3 2173.5 L1761.7 2177.5 L1762.5 2181.2 L1763.6 2184.6 L1765.1 2187.7 L1767.0 2190.3 L1769.2 2192.5 L1771.6 2194.2 L1790.7 2205.2 L1793.4 2206.5 L1796.4 2207.3 L1799.6 2207.6 L1803.0 2207.4 L1806.5 2206.6 L1810.2 2205.4 L1813.8 2203.8 L1817.5 2201.6 L1821.2 2199.1 L1824.8 2196.1 L1828.3 2192.7 L1831.7 2189.0 L1834.9 2185.0 L1837.9 2180.8 L1840.7 2176.4 L1843.2 2171.8 L1845.3 2167.0 L1847.2 2162.3 L1848.7 2157.5 L1849.8 2152.8 L1850.6 2148.2 L1851.0 2143.7 L1851.0 2139.4 L1850.6 2135.4 L1849.8 2131.6 L1848.7 2128.2 L1847.2 2125.2 L1845.3 2122.6 L1843.2 2120.4 L1840.7 2118.6 Z"/>
<path class="t" d="M1796.2 2203.8 L1793.9 2202.2 L1791.9 2200.1 L1790.2 2197.7 L1788.8 2194.9 L1787.7 2191.8 L1787.0 2188.4 L1786.7 2184.7 L1786.7 2180.7 L1787.0 2176.6 L1787.8 2172.4 L1788.8 2168.0 L1790.2 2163.6 L1791.9 2159.2 L1793.9 2154.9 L1796.2 2150.7 L1798.7 2146.6 L1801.5 2142.7 L1804.4 2139.0 L1807.5 2135.6 L1810.8 2132.5 L1814.1 2129.8 L1817.5 2127.4 L1820.9 2125.4 L1824.3 2123.9 L1827.6 2122.8 L1830.8 2122.1 L1833.9 2121.9 L1836.9 2122.2 L1839.6 2122.9 L1842.2 2124.1"/>
<path class="o" d="M1831.6 2120.3 L1829.2 2119.2 L1826.6 2118.5 L1823.8 2118.3 L1820.8 2118.5 L1817.7 2119.1 L1814.5 2120.1 L1811.3 2121.6 L1808.0 2123.5 L1804.8 2125.8 L1801.6 2128.4 L1798.5 2131.3 L1795.5 2134.6 L1792.7 2138.1 L1790.1 2141.8 L1787.6 2145.7 L1785.5 2149.8 L1783.6 2153.9 L1781.9 2158.1 L1780.6 2162.3 L1779.6 2166.5 L1778.9 2170.6 L1778.6 2174.5 L1778.6 2178.3 L1778.9 2181.8 L1779.6 2185.1 L1780.6 2188.1 L1781.9 2190.7 L1783.5 2193.1 L1785.5 2195.0 L1787.6 2196.5 L1882.9 2251.5 L1885.3 2252.7 L1887.9 2253.3 L1890.8 2253.6 L1893.7 2253.4 L1896.8 2252.8 L1900.0 2251.7 L1903.3 2250.2 L1906.5 2248.4 L1909.8 2246.1 L1912.9 2243.5 L1916.0 2240.5 L1919.0 2237.3 L1921.8 2233.8 L1924.5 2230.0 L1926.9 2226.1 L1929.1 2222.1 L1931.0 2217.9 L1932.6 2213.7 L1933.9 2209.5 L1934.9 2205.4 L1935.6 2201.3 L1936.0 2197.4 L1936.0 2193.6 L1935.6 2190.1 L1934.9 2186.8 L1933.9 2183.8 L1932.6 2181.1 L1931.0 2178.8 L1929.1 2176.9 L1926.9 2175.3 Z"/>
<path class="t" d="M1891.0 2251.6 L1889.0 2250.2 L1887.2 2248.4 L1885.8 2246.3 L1884.6 2243.9 L1883.6 2241.2 L1883.0 2238.2 L1882.7 2235.0 L1882.7 2231.5 L1883.0 2228.0 L1883.6 2224.3 L1884.6 2220.5 L1885.8 2216.7 L1887.2 2212.8 L1889.0 2209.1 L1891.0 2205.4 L1893.2 2201.8 L1895.6 2198.4 L1898.1 2195.3 L1900.8 2192.3 L1903.6 2189.6 L1906.5 2187.2 L1909.5 2185.2 L1912.4 2183.5 L1915.4 2182.1 L1918.3 2181.2 L1921.1 2180.6 L1923.8 2180.4 L1926.4 2180.6 L1928.8 2181.3 L1931.0 2182.3"/>
<path class="t" d="M1876.8 2248.0 L1874.7 2246.5 L1872.7 2244.6 L1871.1 2242.2 L1869.8 2239.6 L1868.8 2236.6 L1868.1 2233.3 L1867.8 2229.8 L1867.8 2226.0 L1868.1 2222.1 L1868.8 2218.0 L1869.8 2213.8 L1871.1 2209.6 L1872.8 2205.4 L1874.7 2201.3 L1876.8 2197.2 L1879.3 2193.3 L1881.9 2189.6 L1884.7 2186.1 L1887.7 2182.8 L1890.8 2179.9 L1894.0 2177.3 L1897.2 2175.0 L1900.5 2173.1 L1903.7 2171.6 L1906.9 2170.6 L1910.0 2170.0 L1913.0 2169.8 L1915.8 2170.0 L1918.4 2170.7 L1920.8 2171.8"/>
<path class="o" d="M1927.7 2183.9 L1925.7 2182.9 L1923.5 2182.4 L1921.1 2182.2 L1918.6 2182.3 L1916.0 2182.8 L1913.3 2183.7 L1910.6 2185.0 L1907.9 2186.6 L1905.1 2188.5 L1902.5 2190.7 L1899.9 2193.1 L1897.4 2195.9 L1895.0 2198.8 L1892.8 2202.0 L1890.7 2205.3 L1888.9 2208.7 L1887.3 2212.2 L1885.9 2215.7 L1884.8 2219.2 L1884.0 2222.7 L1883.4 2226.1 L1883.1 2229.4 L1883.1 2232.6 L1883.4 2235.6 L1884.0 2238.3 L1884.8 2240.9 L1885.9 2243.1 L1887.3 2245.1 L1888.9 2246.7 L1890.7 2248.0 L2115.9 2378.0 L2117.9 2378.9 L2120.1 2379.5 L2122.5 2379.7 L2125.0 2379.5 L2127.6 2379.0 L2130.3 2378.1 L2133.0 2376.9 L2135.8 2375.3 L2138.5 2373.4 L2141.2 2371.2 L2143.8 2368.7 L2146.3 2366.0 L2148.6 2363.0 L2150.8 2359.9 L2152.9 2356.6 L2154.7 2353.2 L2156.3 2349.7 L2157.7 2346.2 L2158.8 2342.7 L2159.7 2339.2 L2160.2 2335.7 L2160.5 2332.4 L2160.5 2329.3 L2160.2 2326.3 L2159.7 2323.5 L2158.8 2321.0 L2157.7 2318.8 L2156.3 2316.8 L2154.7 2315.2 L2152.9 2313.9 Z"/>
<path class="n" d="M 2140.0 2306.0 C 2152.5 2310.0 2155.0 2325.0 2152.5 2350.0"/>
<path class="t" d="M2084.0 2359.4 L2082.4 2357.8 L2081.0 2355.9 L2079.8 2353.7 L2078.9 2351.2 L2078.3 2348.4 L2078.0 2345.4 L2078.0 2342.2 L2078.2 2338.9 L2078.8 2335.4 L2079.6 2331.9 L2080.7 2328.3 L2082.1 2324.7 L2083.7 2321.2 L2085.6 2317.8 L2087.7 2314.4 L2089.9 2311.3 L2092.3 2308.3 L2094.8 2305.5 L2097.5 2303.0 L2100.2 2300.8 L2102.9 2298.9 L2105.7 2297.3 L2108.5 2296.1 L2111.2 2295.3 L2113.8 2294.8 L2116.3 2294.7 L2118.7 2294.9 L2120.9 2295.6"/>
<path class="t" d="M2090.1 2362.9 L2088.4 2361.3 L2087.0 2359.4 L2085.9 2357.2 L2085.0 2354.7 L2084.4 2351.9 L2084.0 2348.9 L2084.0 2345.7 L2084.3 2342.4 L2084.8 2338.9 L2085.7 2335.4 L2086.8 2331.8 L2088.2 2328.2 L2089.8 2324.7 L2091.7 2321.3 L2093.7 2317.9 L2096.0 2314.8 L2098.4 2311.8 L2100.9 2309.0 L2103.5 2306.5 L2106.3 2304.3 L2109.0 2302.4 L2111.8 2300.8 L2114.5 2299.6 L2117.2 2298.8 L2119.9 2298.3 L2122.4 2298.2 L2124.7 2298.4 L2127.0 2299.1"/>
<path class="m" d="M 2117.5 2322.5 L 2137.5 2314.0 L 2150.0 2319.0 M 2117.5 2322.5 L 2117.5 2362.5 M 2125.0 2325.0 L 2125.0 2365.0 M 2130.0 2360.0 C 2140.0 2370.0 2147.5 2365.0 2152.5 2352.5"/>
<path class="t" d="M 2072.5 2275.0 L 2117.5 2300.0 C 2120.0 2306.0 2112.5 2307.5 2107.5 2306.0 L 2069.0 2284.0 C 2066.0 2279.0 2069.0 2275.0 2072.5 2275.0 Z"/></g>
<g id="part16"><path class="o" d="M 2076.0 2131.0 L 2095.0 2120.0 L 2114.0 2131.0 L 2114.0 2207.5 L 2095.0 2219.0 L 2076.0 2207.5 Z"/>
<path class="m" d="M 2076.0 2131.0 L 2095.0 2142.5 L 2114.0 2131.0 M 2095.0 2142.5 L 2095.0 2219.0"/></g>
<g id="part17"><path class="o" d="M2230.0 2325.4 L2226.5 2323.8 L2222.8 2322.9 L2218.7 2322.5 L2214.5 2322.8 L2210.0 2323.7 L2205.5 2325.2 L2200.8 2327.3 L2196.2 2330.0 L2191.5 2333.2 L2187.0 2337.0 L2182.6 2341.2 L2178.3 2345.9 L2174.3 2350.9 L2170.5 2356.2 L2167.0 2361.8 L2163.9 2367.6 L2161.2 2373.6 L2158.8 2379.6 L2156.9 2385.6 L2155.5 2391.5 L2154.5 2397.4 L2154.0 2403.0 L2154.0 2408.4 L2154.5 2413.5 L2155.5 2418.2 L2156.9 2422.5 L2158.8 2426.3 L2161.1 2429.6 L2163.9 2432.4 L2167.0 2434.6 L2222.4 2466.6 L2225.9 2468.2 L2229.7 2469.1 L2233.7 2469.5 L2238.0 2469.2 L2242.4 2468.3 L2246.9 2466.8 L2251.6 2464.7 L2256.2 2462.0 L2260.9 2458.8 L2265.4 2455.0 L2269.9 2450.8 L2274.1 2446.1 L2278.2 2441.1 L2281.9 2435.8 L2285.4 2430.2 L2288.5 2424.4 L2291.3 2418.4 L2293.6 2412.4 L2295.5 2406.4 L2296.9 2400.5 L2297.9 2394.6 L2298.4 2389.0 L2298.4 2383.6 L2297.9 2378.5 L2296.9 2373.8 L2295.5 2369.5 L2293.6 2365.7 L2291.3 2362.4 L2288.5 2359.6 L2285.4 2357.4 Z"/>
<path class="n" d="M2222.4 2466.6 L2219.3 2464.4 L2216.6 2461.6 L2214.2 2458.3 L2212.3 2454.5 L2210.9 2450.2 L2209.9 2445.5 L2209.5 2440.4 L2209.5 2435.0 L2209.9 2429.4 L2210.9 2423.5 L2212.4 2417.6 L2214.3 2411.6 L2216.6 2405.6 L2219.3 2399.6 L2222.4 2393.8 L2225.9 2388.2 L2229.7 2382.9 L2233.7 2377.9 L2238.0 2373.2 L2242.4 2369.0 L2247.0 2365.2 L2251.6 2362.0 L2256.3 2359.3 L2260.9 2357.2 L2265.5 2355.7 L2269.9 2354.8 L2274.2 2354.5 L2278.2 2354.9 L2282.0 2355.8 L2285.4 2357.4"/>
<path class="t" d="M2227.2 2462.4 L2224.3 2460.4 L2221.9 2457.9 L2219.8 2454.9 L2218.0 2451.4 L2216.7 2447.5 L2215.9 2443.3 L2215.4 2438.7 L2215.4 2433.8 L2215.9 2428.7 L2216.7 2423.4 L2218.0 2418.1 L2219.8 2412.6 L2221.9 2407.2 L2224.4 2401.8 L2227.2 2396.6 L2230.3 2391.5 L2233.7 2386.7 L2237.4 2382.1 L2241.2 2377.9 L2245.2 2374.1 L2249.4 2370.7 L2253.6 2367.7 L2257.8 2365.3 L2262.0 2363.4 L2266.1 2362.0 L2270.1 2361.2 L2274.0 2361.0 L2277.6 2361.3 L2281.0 2362.2 L2284.2 2363.6"/>
<ellipse class="o" cx="2253.9" cy="2412.0" rx="26.0" ry="45.0" transform="rotate(30 2253.9 2412.0)"/>
<path class="t" d="M 2231.0 2415.0 L 2245.0 2381.0 M 2236.0 2427.5 L 2252.5 2380.0 M 2242.5 2436.0 L 2261.0 2381.0 M 2250.0 2441.5 L 2269.0 2385.0 M 2259.0 2442.5 L 2275.0 2392.5 M 2267.5 2440.0 L 2281.0 2400.0 M 2276.0 2432.5 L 2285.0 2411.0"/>
<path class="t" d="M2263.7 2368.8 L2265.0 2371.7 L2265.9 2374.9 L2266.5 2378.4 L2266.7 2382.2 L2266.5 2386.2 L2266.0 2390.3 L2265.2 2394.6 L2264.0 2398.9 L2262.5 2403.3 L2260.6 2407.6 L2258.5 2411.9 L2256.1 2416.0 L2253.5 2420.0 L2250.7 2423.8 L2247.6 2427.3 L2244.5 2430.5 L2241.2 2433.3 L2237.9 2435.8 L2234.5 2437.9 L2231.1 2439.6 L2227.8 2440.9 L2224.6 2441.7 L2221.4 2442.1"/></g>
<g id="part18"><path class="o" d="M2362.5 2409.9 L2359.3 2408.4 L2355.8 2407.5 L2352.1 2407.2 L2348.2 2407.4 L2344.1 2408.2 L2339.9 2409.6 L2335.7 2411.6 L2331.4 2414.1 L2327.1 2417.1 L2322.9 2420.5 L2318.8 2424.4 L2314.9 2428.7 L2311.2 2433.3 L2307.7 2438.2 L2304.5 2443.4 L2301.6 2448.7 L2299.1 2454.2 L2297.0 2459.7 L2295.2 2465.3 L2293.9 2470.7 L2293.0 2476.1 L2292.6 2481.3 L2292.6 2486.2 L2293.0 2490.9 L2293.9 2495.2 L2295.2 2499.2 L2297.0 2502.7 L2299.1 2505.8 L2301.6 2508.3 L2304.5 2510.3 L2346.9 2534.8 L2350.1 2536.3 L2353.6 2537.2 L2357.3 2537.6 L2361.2 2537.3 L2365.3 2536.5 L2369.5 2535.1 L2373.8 2533.1 L2378.1 2530.7 L2382.3 2527.7 L2386.5 2524.2 L2390.6 2520.3 L2394.5 2516.1 L2398.3 2511.4 L2401.7 2506.5 L2404.9 2501.3 L2407.8 2496.0 L2410.3 2490.5 L2412.5 2485.0 L2414.2 2479.5 L2415.5 2474.0 L2416.4 2468.6 L2416.9 2463.4 L2416.9 2458.5 L2416.4 2453.8 L2415.5 2449.5 L2414.2 2445.5 L2412.5 2442.0 L2410.3 2439.0 L2407.8 2436.4 L2404.9 2434.4 Z"/>
<path class="o" d="M2417.0 2413.6 L2412.5 2411.5 L2407.6 2410.2 L2402.3 2409.7 L2396.8 2410.1 L2391.0 2411.3 L2385.1 2413.2 L2379.1 2416.0 L2373.0 2419.5 L2366.9 2423.7 L2361.0 2428.6 L2355.2 2434.1 L2349.7 2440.2 L2344.4 2446.7 L2339.5 2453.6 L2335.0 2460.9 L2331.0 2468.5 L2327.4 2476.2 L2324.4 2484.0 L2321.9 2491.9 L2320.0 2499.6 L2318.8 2507.2 L2318.1 2514.5 L2318.1 2521.5 L2318.7 2528.1 L2320.0 2534.3 L2321.9 2539.8 L2324.3 2544.8 L2327.4 2549.1 L2330.9 2552.7 L2335.0 2555.6 L2343.7 2560.6 L2348.2 2562.7 L2353.1 2564.0 L2358.3 2564.4 L2363.9 2564.1 L2369.6 2562.9 L2375.6 2561.0 L2381.6 2558.2 L2387.7 2554.7 L2393.7 2550.5 L2399.6 2545.6 L2405.4 2540.1 L2411.0 2534.0 L2416.2 2527.5 L2421.1 2520.5 L2425.6 2513.3 L2429.7 2505.7 L2433.3 2498.0 L2436.3 2490.2 L2438.8 2482.3 L2440.6 2474.6 L2441.9 2467.0 L2442.5 2459.7 L2442.5 2452.7 L2441.9 2446.0 L2440.7 2439.9 L2438.8 2434.3 L2436.3 2429.4 L2433.3 2425.1 L2429.7 2421.4 L2425.7 2418.6 Z"/>
<path class="t" d="M2343.7 2560.6 L2339.6 2557.7 L2336.0 2554.1 L2333.0 2549.8 L2330.5 2544.8 L2328.7 2539.3 L2327.4 2533.1 L2326.8 2526.5 L2326.8 2519.5 L2327.4 2512.2 L2328.7 2504.6 L2330.6 2496.9 L2333.0 2489.0 L2336.1 2481.2 L2339.6 2473.5 L2343.7 2465.9 L2348.2 2458.6 L2353.1 2451.7 L2358.4 2445.2 L2363.9 2439.1 L2369.7 2433.6 L2375.6 2428.7 L2381.6 2424.5 L2387.7 2421.0 L2393.7 2418.2 L2399.7 2416.3 L2405.4 2415.1 L2411.0 2414.7 L2416.2 2415.2 L2421.2 2416.5 L2425.7 2418.6"/>
<path class="t" d="M2347.6 2547.8 L2344.8 2544.2 L2342.5 2540.0 L2340.7 2535.3 L2339.4 2530.0 L2338.8 2524.3 L2338.7 2518.2 L2339.1 2511.9 L2340.2 2505.3 L2341.7 2498.5 L2343.9 2491.6 L2346.5 2484.8 L2349.6 2478.0 L2353.1 2471.4 L2357.1 2465.0 L2361.4 2458.9 L2366.0 2453.2 L2370.9 2448.0 L2376.0 2443.2 L2381.2 2439.0 L2386.5 2435.4 L2391.8 2432.5 L2397.1 2430.2 L2402.2 2428.7 L2407.2 2427.8 L2412.0 2427.7 L2416.5 2428.4"/>
<ellipse class="o" cx="2386.4" cy="2490.6" rx="32.3" ry="56.0" transform="rotate(30 2386.4 2490.6)"/>
<path class="t" d="M2408.6 2440.9 L2410.4 2444.1 L2411.9 2447.7 L2413.0 2451.7 L2413.6 2456.1 L2413.9 2460.7 L2413.6 2465.6 L2413.0 2470.7 L2411.9 2476.0 L2410.4 2481.3 L2408.5 2486.6 L2406.3 2492.0 L2403.7 2497.2 L2400.7 2502.3 L2397.5 2507.1 L2394.1 2511.8 L2390.4 2516.1 L2386.5 2520.0 L2382.5 2523.6 L2378.4 2526.7 L2374.3 2529.3 L2370.1 2531.5 L2366.0 2533.1 L2362.0 2534.1 L2358.2 2534.7 L2354.5 2534.6"/>
<path class="t" d="M2395.3 2449.7 L2396.0 2453.3 L2396.4 2457.1 L2396.3 2461.1 L2395.9 2465.3 L2395.2 2469.7 L2394.0 2474.2 L2392.6 2478.7 L2390.8 2483.2 L2388.6 2487.6 L2386.2 2491.9 L2383.6 2496.1 L2380.7 2500.0 L2377.6 2503.7 L2374.4 2507.1 L2371.0 2510.1 L2367.6 2512.8 L2364.1 2515.0 L2360.6 2516.8 L2357.1 2518.2 L2353.8 2519.1 L2350.5 2519.6 L2347.4 2519.5 L2344.5 2519.0 L2341.8 2517.9 L2339.4 2516.5 L2337.2 2514.5"/></g>
<g id="part19"><path class="o" d="M2534.5 2466.2 L2529.3 2463.8 L2523.6 2462.3 L2517.5 2461.8 L2511.1 2462.2 L2504.4 2463.5 L2497.5 2465.8 L2490.5 2469.0 L2483.5 2473.1 L2476.5 2478.0 L2469.6 2483.6 L2463.0 2490.0 L2456.5 2497.0 L2450.4 2504.6 L2444.8 2512.6 L2439.5 2521.1 L2434.8 2529.8 L2430.7 2538.8 L2427.2 2547.9 L2424.3 2556.9 L2422.1 2565.9 L2420.7 2574.7 L2419.9 2583.2 L2419.9 2591.3 L2420.7 2599.0 L2422.1 2606.0 L2424.3 2612.5 L2427.2 2618.3 L2430.7 2623.3 L2434.8 2627.5 L2439.5 2630.8 L2480.2 2654.3 L2485.4 2656.7 L2491.1 2658.2 L2497.2 2658.7 L2503.6 2658.3 L2510.3 2657.0 L2517.2 2654.7 L2524.2 2651.5 L2531.2 2647.4 L2538.2 2642.5 L2545.1 2636.9 L2551.8 2630.5 L2558.2 2623.5 L2564.3 2615.9 L2569.9 2607.9 L2575.2 2599.4 L2579.9 2590.7 L2584.0 2581.7 L2587.5 2572.6 L2590.4 2563.6 L2592.6 2554.6 L2594.0 2545.8 L2594.8 2537.3 L2594.8 2529.2 L2594.0 2521.5 L2592.6 2514.5 L2590.4 2508.0 L2587.5 2502.2 L2584.0 2497.2 L2579.9 2493.0 L2575.2 2489.7 Z"/>
<path class="n" d="M2480.2 2654.3 L2475.5 2651.0 L2471.4 2646.8 L2467.9 2641.8 L2465.0 2636.0 L2462.8 2629.5 L2461.4 2622.5 L2460.6 2614.8 L2460.6 2606.7 L2461.4 2598.2 L2462.8 2589.4 L2465.0 2580.4 L2467.9 2571.4 L2471.4 2562.3 L2475.5 2553.3 L2480.2 2544.6 L2485.5 2536.1 L2491.1 2528.1 L2497.2 2520.5 L2503.7 2513.5 L2510.3 2507.1 L2517.2 2501.5 L2524.2 2496.6 L2531.2 2492.5 L2538.2 2489.3 L2545.1 2487.0 L2551.8 2485.7 L2558.2 2485.3 L2564.3 2485.8 L2570.0 2487.3 L2575.2 2489.7"/>
<ellipse class="t" cx="2527.7" cy="2572.0" rx="49.0" ry="85.0" transform="rotate(30 2527.7 2572.0)"/>
<ellipse cx="2527.7" cy="2572.0" rx="40.4" ry="70.0" transform="rotate(30 2527.7 2572.0)" style="fill:none;stroke:#000;stroke-width:9"/>
<ellipse class="n" cx="2527.7" cy="2572.0" rx="28.8" ry="50.0" transform="rotate(30 2527.7 2572.0)"/>
<ellipse class="o" cx="2527.7" cy="2572.0" rx="18.5" ry="32.0" transform="rotate(30 2527.7 2572.0)"/>
<path class="t" d="M2537.8 2543.1 L2538.7 2545.2 L2539.4 2547.5 L2539.8 2550.0 L2539.9 2552.6 L2539.8 2555.5 L2539.5 2558.4 L2538.9 2561.4 L2538.0 2564.5 L2536.9 2567.6 L2535.6 2570.7 L2534.1 2573.7 L2532.4 2576.7 L2530.6 2579.5 L2528.5 2582.2 L2526.4 2584.7 L2524.1 2586.9 L2521.8 2589.0 L2519.4 2590.8 L2517.0 2592.3 L2514.6 2593.5 L2512.3 2594.4 L2510.0 2594.9 L2507.7 2595.2"/></g>
<g id="part20"><path class="o" d="M 2517.5 2681.0 C 2517.5 2672.5 2547.5 2672.5 2547.5 2681.0 L 2547.5 2725.0 C 2547.5 2734.0 2517.5 2734.0 2517.5 2725.0 Z"/>
<path class="m" d="M 2517.5 2681.0 C 2517.5 2690.0 2547.5 2690.0 2547.5 2681.0"/>
<ellipse class="t" cx="2534.0" cy="2680.0" rx="6.0" ry="3.0"/></g>
<g id="part21"><path class="o" d="M 2628.5 2540.0 L 2657.5 2518.5 L 2675.0 2525.0 L 2675.0 2541.5 L 2682.5 2545.0 L 2682.5 2562.5 C 2705.0 2560.0 2722.5 2585.0 2721.5 2610.0 C 2720.0 2640.0 2705.0 2670.0 2682.5 2690.0 L 2682.5 2706.0 L 2675.0 2712.5 L 2675.0 2730.0 L 2642.5 2756.0 L 2625.0 2745.0 L 2619.0 2732.5 L 2619.0 2710.0 L 2600.0 2695.0 C 2585.0 2670.0 2590.0 2635.0 2602.5 2610.0 C 2610.0 2595.0 2620.0 2585.0 2622.5 2575.0 L 2622.5 2565.0 L 2628.5 2560.0 Z"/>
<path class="m" d="M 2628.5 2540.0 L 2640.0 2547.5 L 2640.0 2570.0 C 2635.0 2590.0 2620.0 2600.0 2611.0 2617.5 C 2599.0 2642.5 2597.5 2670.0 2610.0 2695.0 L 2630.0 2710.0 L 2630.0 2731.0 L 2642.5 2740.0 L 2642.5 2756.0 M 2640.0 2547.5 Q 2655.0 2531.0 2675.0 2525.0 M 2642.5 2740.0 L 2675.0 2712.5 M 2622.5 2565.0 L 2635.0 2572.5 M 2619.0 2710.0 L 2630.0 2717.5 M 2630.0 2731.0 L 2625.0 2745.0"/>
<ellipse class="o" cx="2662.5" cy="2637.5" rx="21.0" ry="35.0" transform="rotate(30 2662.5 2637.5)"/>
<path class="t" d="M 2675.0 2607.5 C 2685.0 2625.0 2677.5 2655.0 2655.0 2667.5"/></g>
<g id="part22"><ellipse class="o" cx="2765.0" cy="2708.7" rx="34.6" ry="60.0" transform="rotate(30 2765.0 2708.7)"/>
<ellipse class="o" cx="2797.5" cy="2727.4" rx="34.6" ry="60.0" transform="rotate(30 2797.5 2727.4)"/>
<ellipse class="o" cx="2830.0" cy="2746.1" rx="34.6" ry="60.0" transform="rotate(30 2830.0 2746.1)"/>
<ellipse class="o" cx="2862.5" cy="2764.8" rx="34.6" ry="60.0" transform="rotate(30 2862.5 2764.8)"/>
<path class="n" d="M2873.9 2705.4 L2877.3 2706.5 L2880.4 2708.2 L2883.1 2710.4 L2885.5 2713.1 L2887.5 2716.3 L2889.1 2720.0 L2890.3 2724.1 L2891.1 2728.5 L2891.4 2733.3 L2891.2 2738.4 L2890.6 2743.6 L2889.6 2749.0 L2888.1 2754.5 L2886.2 2760.1 L2884.0 2765.6 L2881.3 2771.0 L2878.3 2776.3 L2875.0 2781.4 L2871.5 2786.2 L2867.7 2790.7"/></g>
<g id="part23"><ellipse class="o" cx="2930.0" cy="2803.7" rx="45.0" ry="78.0" transform="rotate(30 2930.0 2803.7)"/>
<ellipse class="o" cx="2971.0" cy="2827.3" rx="45.0" ry="78.0" transform="rotate(30 2971.0 2827.3)"/>
<ellipse class="o" cx="3012.0" cy="2850.9" rx="45.0" ry="78.0" transform="rotate(30 3012.0 2850.9)"/>
<ellipse class="o" cx="3053.0" cy="2874.5" rx="45.0" ry="78.0" transform="rotate(30 3053.0 2874.5)"/>
<path class="n" d="M3071.7 2798.9 L3076.1 2800.4 L3080.2 2802.5 L3083.8 2805.4 L3086.9 2809.0 L3089.6 2813.2 L3091.7 2818.0 L3093.2 2823.4 L3094.2 2829.2 L3094.6 2835.4 L3094.4 2842.0 L3093.6 2848.9 L3092.2 2856.0 L3090.3 2863.2 L3087.9 2870.5 L3084.9 2877.7 L3081.4 2884.8 L3077.5 2891.8 L3073.2 2898.4 L3068.5 2904.7 L3063.6 2910.7"/></g>
<g id="part24"><path class="o" d="M3233.0 2867.4 L3227.7 2865.0 L3222.0 2863.5 L3215.8 2863.0 L3209.3 2863.4 L3202.6 2864.7 L3195.6 2867.0 L3188.6 2870.3 L3181.5 2874.4 L3174.4 2879.3 L3167.5 2885.0 L3160.7 2891.5 L3154.2 2898.5 L3148.1 2906.2 L3142.3 2914.3 L3137.0 2922.9 L3132.3 2931.7 L3128.1 2940.8 L3124.5 2949.9 L3121.7 2959.1 L3119.5 2968.2 L3118.0 2977.0 L3117.2 2985.6 L3117.2 2993.8 L3118.0 3001.6 L3119.4 3008.7 L3121.6 3015.3 L3124.5 3021.1 L3128.1 3026.1 L3132.2 3030.4 L3137.0 3033.7 L3143.9 3037.7 L3149.2 3040.2 L3155.0 3041.7 L3161.1 3042.2 L3167.6 3041.8 L3174.3 3040.4 L3181.3 3038.1 L3188.4 3034.9 L3195.5 3030.8 L3202.5 3025.9 L3209.5 3020.1 L3216.2 3013.7 L3222.7 3006.6 L3228.9 2999.0 L3234.6 2990.8 L3239.9 2982.3 L3244.7 2973.4 L3248.8 2964.4 L3252.4 2955.2 L3255.3 2946.1 L3257.5 2937.0 L3259.0 2928.1 L3259.7 2919.5 L3259.7 2911.3 L3259.0 2903.6 L3257.5 2896.4 L3255.3 2889.9 L3252.4 2884.1 L3248.9 2879.0 L3244.7 2874.8 L3239.9 2871.4 Z"/>
<path class="t" d="M3143.9 3037.7 L3139.2 3034.4 L3135.0 3030.1 L3131.5 3025.1 L3128.6 3019.3 L3126.4 3012.7 L3124.9 3005.6 L3124.2 2997.8 L3124.2 2989.6 L3124.9 2981.0 L3126.4 2972.2 L3128.6 2963.1 L3131.5 2953.9 L3135.0 2944.8 L3139.2 2935.7 L3144.0 2926.9 L3149.2 2918.3 L3155.0 2910.2 L3161.1 2902.5 L3167.6 2895.5 L3174.4 2889.0 L3181.3 2883.3 L3188.4 2878.4 L3195.5 2874.3 L3202.6 2871.0 L3209.5 2868.7 L3216.3 2867.4 L3222.8 2867.0 L3228.9 2867.5 L3234.7 2869.0 L3239.9 2871.4"/>
<ellipse class="o" cx="3191.9" cy="2954.6" rx="23.1" ry="40.0" transform="rotate(30 3191.9 2954.6)"/>
<path class="m" d="M3209.5 2920.1 L3210.8 2922.4 L3211.9 2925.0 L3212.7 2927.8 L3213.1 2930.9 L3213.3 2934.2 L3213.1 2937.7 L3212.7 2941.4 L3211.9 2945.1 L3210.8 2948.9 L3209.5 2952.8 L3207.9 2956.6 L3206.0 2960.3 L3203.9 2963.9 L3201.6 2967.4 L3199.1 2970.7 L3196.5 2973.8 L3193.7 2976.6 L3190.9 2979.1 L3187.9 2981.3 L3185.0 2983.2 L3182.0 2984.8 L3179.1 2985.9 L3176.3 2986.7 L3173.5 2987.1 L3170.9 2987.0"/></g>
<g id="axis_upper"><path class="l" d="M740.0 1543.0 L830.0 1594.0"/>
<path class="l" d="M920.0 1648.0 L1015.0 1700.0"/>
<path class="l" d="M1105.0 1752.5 L1190.0 1800.0"/>
<path class="l" d="M1360.0 1900.0 L1475.0 1965.0"/>
<path class="l" d="M1610.0 2045.0 L1735.0 2115.0"/>
<path class="l" d="M2137.5 2350.0 L2162.5 2364.0"/>
<path class="l" d="M2252.5 2411.0 L2297.5 2439.0"/>
<path class="l" d="M2372.5 2485.0 L2432.5 2520.0"/>
<path class="l" d="M2530.0 2575.0 L2595.0 2611.0"/>
<path class="l" d="M2655.0 2643.5 L2732.5 2686.0"/>
<path class="l" d="M2854.0 2756.0 L2892.5 2777.5"/>
<path class="l" d="M3061.0 2875.0 L3120.0 2907.0"/>
<path class="l" d="M3190.0 2950.0 L3305.0 3016.0"/></g>
<g id="labels_upper"><text x="693.0" y="1155.0" text-anchor="middle">10</text>
<path class="l" d="M693.0 1170.0 L693.0 1398.0"/>
<text x="968.0" y="1315.0" text-anchor="middle">11</text>
<path class="l" d="M968.0 1332.0 L968.0 1510.0"/>
<text x="1141.0" y="1415.0" text-anchor="middle">12</text>
<path class="l" d="M1141.0 1432.0 L1141.0 1617.0"/>
<text x="1354.0" y="1538.0" text-anchor="middle">13</text>
<path class="l" d="M1354.0 1555.0 L1354.0 1692.0"/>
<text x="1552.0" y="1652.0" text-anchor="middle">14</text>
<path class="l" d="M1552.0 1668.0 L1552.0 1884.0"/>
<text x="2104.5" y="1967.5" text-anchor="middle">16</text>
<path class="l" d="M2104.0 1986.0 L2104.0 2121.0"/>
<text x="2240.0" y="2060.0" text-anchor="middle">17</text>
<path class="l" d="M2235.0 2076.0 L2235.0 2324.0"/>
<text x="2355.0" y="2114.0" text-anchor="middle">18</text>
<path class="l" d="M2353.5 2130.0 L2353.5 2400.0"/>
<text x="2653.5" y="2289.0" text-anchor="middle">21</text>
<path class="l" d="M2656.5 2305.0 L2656.5 2517.0"/>
<text x="2778.5" y="2360.0" text-anchor="middle">22</text>
<path class="l" d="M2779.0 2376.0 L2779.0 2648.0"/>
<text x="2965.0" y="2467.5" text-anchor="middle">23</text>
<path class="l" d="M2966.0 2484.0 L2966.0 2732.5"/>
<text x="3205.0" y="2606.0" text-anchor="middle">24</text>
<path class="l" d="M3206.0 2621.5 L3206.0 2859.0"/>
<path class="l" d="M2094.0 2225.0 L2094.0 2287.5"/>
<path class="k" d="M3305.0 3016.0 L3381.0 2972.5 L3381.0 3064.0 L3305.0 3107.5 Z"/>
<text transform="translate(3343.0 3073.0) skewY(-30)" text-anchor="middle" style="fill:#fff;font-size:92px" x="0" y="0">A</text></g>
<g id="part30"><path class="o" d="M1044.0 2350.1 L1039.1 2347.8 L1033.7 2346.4 L1027.9 2345.9 L1021.8 2346.3 L1015.5 2347.5 L1009.0 2349.7 L1002.3 2352.7 L995.7 2356.6 L989.1 2361.2 L982.6 2366.6 L976.2 2372.6 L970.1 2379.2 L964.4 2386.4 L959.0 2394.1 L954.0 2402.1 L949.6 2410.3 L945.7 2418.8 L942.3 2427.4 L939.6 2436.0 L937.6 2444.5 L936.2 2452.8 L935.5 2460.9 L935.5 2468.6 L936.2 2475.8 L937.5 2482.5 L939.6 2488.7 L942.3 2494.1 L945.6 2498.9 L949.5 2502.8 L954.0 2506.0 L958.3 2508.5 L963.3 2510.8 L968.7 2512.2 L974.4 2512.7 L980.5 2512.3 L986.8 2511.0 L993.4 2508.8 L1000.0 2505.8 L1006.6 2502.0 L1013.3 2497.3 L1019.8 2492.0 L1026.1 2485.9 L1032.2 2479.3 L1038.0 2472.1 L1043.4 2464.5 L1048.3 2456.5 L1052.8 2448.2 L1056.7 2439.7 L1060.0 2431.1 L1062.7 2422.5 L1064.8 2414.0 L1066.2 2405.7 L1066.9 2397.7 L1066.9 2390.0 L1066.2 2382.7 L1064.8 2376.0 L1062.7 2369.9 L1060.0 2364.4 L1056.7 2359.7 L1052.8 2355.7 L1048.3 2352.6 Z"/>
<ellipse class="t" cx="1003.3" cy="2430.5" rx="47.3" ry="82.0" transform="rotate(30 1003.3 2430.5)"/>
<ellipse class="o" cx="1003.3" cy="2430.5" rx="23.1" ry="40.0" transform="rotate(30 1003.3 2430.5)"/>
<path class="m" d="M1019.6 2394.4 L1021.2 2396.5 L1022.5 2398.9 L1023.5 2401.6 L1024.2 2404.6 L1024.6 2407.8 L1024.7 2411.3 L1024.4 2414.9 L1023.8 2418.7 L1022.9 2422.6 L1021.7 2426.5 L1020.2 2430.4 L1018.4 2434.3 L1016.4 2438.1 L1014.1 2441.7 L1011.7 2445.2 L1009.0 2448.4 L1006.2 2451.4 L1003.3 2454.2 L1000.4 2456.6 L997.3 2458.6 L994.3 2460.3 L991.3 2461.6 L988.3 2462.5 L985.5 2463.0 L982.8 2463.0 L980.2 2462.6"/>
<path class="m" d="M1023.3 2451.6 L1031.8 2463.7 L1026.3 2470.6 L1017.8 2458.5 Z M1006.5 2468.5 L1006.5 2488.2 L1000.1 2491.8 L1000.1 2472.2 Z M988.8 2475.2 L980.3 2497.2 L974.8 2496.7 L983.3 2474.7 Z M975.0 2470.0 L960.3 2488.3 L957.1 2483.8 L971.9 2465.4 Z M968.8 2454.1 L951.8 2463.9 L951.8 2456.6 L968.8 2446.8 Z M971.9 2432.0 L957.1 2430.6 L960.3 2422.5 L975.1 2423.8 Z M983.3 2409.4 L974.8 2397.3 L980.3 2390.5 L988.8 2402.6 Z M1000.2 2392.5 L1000.2 2372.9 L1006.5 2369.2 L1006.5 2388.9 Z M1017.8 2385.8 L1026.3 2363.9 L1031.8 2364.4 L1023.3 2386.3 Z M1031.6 2391.1 L1046.4 2372.8 L1049.5 2377.3 L1034.8 2395.6 Z M1037.8 2406.9 L1054.8 2397.1 L1054.8 2404.4 L1037.8 2414.3 Z M1034.8 2429.1 L1049.5 2430.4 L1046.3 2438.6 L1031.6 2437.3 Z"/></g>
<g id="part31"><path class="o" d="M1108.1 2445.8 L1106.0 2444.8 L1103.6 2444.2 L1101.1 2444.0 L1098.5 2444.2 L1095.7 2444.7 L1092.9 2445.7 L1090.1 2447.0 L1087.2 2448.6 L1084.3 2450.6 L1081.5 2453.0 L1078.7 2455.6 L1076.1 2458.5 L1073.6 2461.6 L1071.3 2464.9 L1069.1 2468.3 L1067.2 2471.9 L1065.5 2475.6 L1064.0 2479.3 L1062.9 2483.1 L1062.0 2486.7 L1061.4 2490.3 L1061.1 2493.8 L1061.1 2497.2 L1061.4 2500.3 L1062.0 2503.2 L1062.9 2505.9 L1064.0 2508.2 L1065.5 2510.3 L1067.2 2512.0 L1069.1 2513.4 L1116.7 2540.9 L1118.9 2541.9 L1121.2 2542.5 L1123.7 2542.7 L1126.3 2542.5 L1129.1 2542.0 L1131.9 2541.0 L1134.8 2539.7 L1137.7 2538.1 L1140.5 2536.1 L1143.4 2533.7 L1146.1 2531.1 L1148.7 2528.2 L1151.2 2525.1 L1153.6 2521.8 L1155.7 2518.4 L1157.7 2514.8 L1159.3 2511.1 L1160.8 2507.4 L1162.0 2503.6 L1162.9 2500.0 L1163.5 2496.4 L1163.8 2492.9 L1163.8 2489.5 L1163.5 2486.4 L1162.9 2483.5 L1162.0 2480.8 L1160.8 2478.5 L1159.4 2476.4 L1157.7 2474.7 L1155.7 2473.3 Z"/>
<path class="o" d="M1184.5 2421.0 L1179.2 2418.5 L1173.4 2417.0 L1167.1 2416.5 L1160.6 2416.9 L1153.8 2418.3 L1146.7 2420.6 L1139.6 2423.8 L1132.4 2428.0 L1125.3 2433.0 L1118.3 2438.8 L1111.4 2445.3 L1104.9 2452.4 L1098.7 2460.2 L1092.9 2468.4 L1087.5 2477.0 L1082.7 2485.9 L1078.5 2495.1 L1074.9 2504.3 L1072.0 2513.6 L1069.8 2522.8 L1068.3 2531.7 L1067.5 2540.4 L1067.5 2548.7 L1068.3 2556.5 L1069.8 2563.8 L1072.0 2570.4 L1074.9 2576.2 L1078.5 2581.4 L1082.7 2585.6 L1087.5 2589.0 L1116.1 2605.5 L1121.4 2608.0 L1127.2 2609.5 L1133.4 2610.0 L1140.0 2609.6 L1146.8 2608.2 L1153.8 2605.9 L1161.0 2602.7 L1168.1 2598.5 L1175.3 2593.5 L1182.3 2587.7 L1189.1 2581.2 L1195.7 2574.1 L1201.9 2566.3 L1207.7 2558.1 L1213.0 2549.5 L1217.9 2540.6 L1222.1 2531.4 L1225.7 2522.2 L1228.6 2512.9 L1230.8 2503.7 L1232.3 2494.8 L1233.1 2486.1 L1233.1 2477.8 L1232.3 2470.0 L1230.8 2462.7 L1228.6 2456.1 L1225.7 2450.3 L1222.1 2445.1 L1217.9 2440.9 L1213.1 2437.5 Z"/>
<path class="n" d="M1116.1 2605.5 L1111.3 2602.1 L1107.1 2597.9 L1103.5 2592.7 L1100.6 2586.9 L1098.3 2580.3 L1096.9 2573.0 L1096.1 2565.2 L1096.1 2556.9 L1096.9 2548.2 L1098.4 2539.3 L1100.6 2530.1 L1103.5 2520.8 L1107.1 2511.6 L1111.3 2502.4 L1116.1 2493.5 L1121.4 2484.9 L1127.3 2476.7 L1133.5 2468.9 L1140.0 2461.8 L1146.9 2455.3 L1153.9 2449.5 L1161.0 2444.5 L1168.2 2440.3 L1175.3 2437.1 L1182.3 2434.8 L1189.2 2433.4 L1195.7 2433.0 L1201.9 2433.5 L1207.7 2435.0 L1213.1 2437.5"/>
<ellipse class="t" cx="1164.6" cy="2521.5" rx="50.8" ry="88.0" transform="rotate(30 1164.6 2521.5)"/>
<ellipse class="n" cx="1164.6" cy="2521.5" rx="46.7" ry="81.0" transform="rotate(30 1164.6 2521.5)"/>
<path class="n" d="M 1151.0 2452.5 L 1151.0 2495.0 C 1135.0 2510.0 1127.5 2545.0 1140.0 2567.5 L 1150.0 2569.0 L 1150.0 2590.0 M 1157.5 2449.0 L 1159.0 2470.0 C 1165.0 2495.0 1181.0 2490.0 1183.0 2502.5 C 1186.0 2520.0 1180.0 2532.5 1174.0 2540.0 L 1174.0 2552.5 M 1140.0 2567.5 C 1147.5 2590.0 1155.0 2597.5 1165.0 2595.0 M 1165.0 2530.0 L 1165.0 2567.5 L 1174.0 2552.5"/>
<path class="t" d="M 1174.0 2500.0 C 1195.0 2495.0 1202.5 2520.0 1192.5 2550.0 C 1185.0 2575.0 1170.0 2590.0 1160.0 2592.5 M 1140.0 2530.0 C 1135.0 2545.0 1137.5 2560.0 1145.0 2565.0"/></g>
<g id="part32"><path class="o" d="M 1242.5 2444.0 C 1242.5 2435.0 1271.5 2435.0 1271.5 2444.0 L 1271.5 2484.0 C 1271.5 2494.0 1242.5 2494.0 1242.5 2484.0 Z"/>
<path class="m" d="M 1242.5 2444.0 C 1242.5 2453.0 1271.5 2453.0 1271.5 2444.0"/></g>
<g id="part47"><circle class="o" cx="1271" cy="2523.5" r="15"/>
<circle class="o" cx="1215" cy="2611" r="15"/>
<path class="l" d="M1287.5 2532.5 L1322.5 2552.5"/>
<path class="l" d="M1232.5 2622.5 L1265.0 2640.0"/></g>
<g id="part33"><path class="o" d="M1382.5 2541.5 L1377.4 2539.1 L1371.8 2537.6 L1365.9 2537.1 L1359.6 2537.5 L1353.0 2538.8 L1346.3 2541.1 L1339.5 2544.2 L1332.6 2548.2 L1325.7 2553.0 L1319.0 2558.5 L1312.5 2564.7 L1306.2 2571.6 L1300.2 2579.0 L1294.6 2586.9 L1289.5 2595.2 L1284.9 2603.7 L1280.9 2612.5 L1277.4 2621.4 L1274.6 2630.2 L1272.5 2639.0 L1271.1 2647.6 L1270.4 2656.0 L1270.3 2663.9 L1271.1 2671.4 L1272.5 2678.3 L1274.6 2684.7 L1277.4 2690.3 L1280.9 2695.2 L1284.9 2699.3 L1289.5 2702.5 L1344.9 2734.5 L1350.0 2736.9 L1355.6 2738.4 L1361.6 2738.9 L1367.8 2738.5 L1374.4 2737.2 L1381.1 2734.9 L1388.0 2731.8 L1394.8 2727.8 L1401.7 2723.0 L1408.4 2717.5 L1415.0 2711.3 L1421.3 2704.4 L1427.2 2697.0 L1432.8 2689.1 L1437.9 2680.8 L1442.5 2672.3 L1446.5 2663.5 L1450.0 2654.6 L1452.8 2645.8 L1454.9 2637.0 L1456.4 2628.4 L1457.1 2620.0 L1457.1 2612.1 L1456.4 2604.6 L1454.9 2597.7 L1452.8 2591.3 L1450.0 2585.7 L1446.6 2580.8 L1442.5 2576.7 L1437.9 2573.5 Z"/>
<path class="n" d="M1344.9 2734.5 L1340.3 2731.3 L1336.3 2727.2 L1332.8 2722.3 L1330.0 2716.7 L1327.9 2710.3 L1326.5 2703.4 L1325.8 2695.9 L1325.8 2688.0 L1326.5 2679.6 L1327.9 2671.0 L1330.1 2662.2 L1332.9 2653.4 L1336.3 2644.5 L1340.3 2635.7 L1345.0 2627.2 L1350.1 2618.9 L1355.6 2611.0 L1361.6 2603.6 L1367.9 2596.7 L1374.4 2590.5 L1381.2 2585.0 L1388.0 2580.2 L1394.9 2576.2 L1401.7 2573.1 L1408.5 2570.8 L1415.0 2569.5 L1421.3 2569.1 L1427.2 2569.6 L1432.8 2571.1 L1437.9 2573.5"/>
<ellipse class="o" cx="1391.4" cy="2654.0" rx="23.1" ry="40.0" transform="rotate(30 1391.4 2654.0)"/>
<path class="t" d="M1405.5 2617.5 L1406.9 2619.8 L1407.9 2622.4 L1408.7 2625.2 L1409.2 2628.3 L1409.3 2631.7 L1409.2 2635.2 L1408.7 2638.8 L1407.9 2642.6 L1406.9 2646.4 L1405.5 2650.2 L1403.9 2654.0 L1402.0 2657.7 L1399.9 2661.3 L1397.6 2664.8 L1395.2 2668.1 L1392.5 2671.2 L1389.8 2674.0 L1386.9 2676.5 L1384.0 2678.8 L1381.0 2680.7 L1378.1 2682.2 L1375.1 2683.3 L1372.3 2684.1 L1369.5 2684.5 L1366.9 2684.4"/>
<path class="t" d="M1401.2 2622.9 L1402.3 2624.7 L1403.2 2626.9 L1403.9 2629.2 L1404.2 2631.8 L1404.4 2634.5 L1404.2 2637.4 L1403.8 2640.4 L1403.2 2643.5 L1402.3 2646.6 L1401.2 2649.8 L1399.9 2652.9 L1398.4 2656.0 L1396.6 2659.0 L1394.7 2661.9 L1392.7 2664.6 L1390.5 2667.1 L1388.2 2669.5 L1385.9 2671.5 L1383.5 2673.4 L1381.0 2674.9 L1378.6 2676.2 L1376.2 2677.2 L1373.8 2677.8 L1371.5 2678.1 L1369.4 2678.1"/>
<path class="o" d="M1393.0 2587.9 L1392.2 2587.5 L1391.4 2587.3 L1390.5 2587.2 L1389.5 2587.3 L1388.6 2587.5 L1387.6 2587.8 L1386.5 2588.3 L1385.5 2588.9 L1384.5 2589.6 L1383.4 2590.4 L1382.5 2591.4 L1381.5 2592.4 L1380.6 2593.5 L1379.8 2594.7 L1379.0 2596.0 L1378.3 2597.3 L1377.7 2598.6 L1377.2 2599.9 L1376.8 2601.2 L1376.4 2602.6 L1376.2 2603.9 L1376.1 2605.1 L1376.1 2606.3 L1376.2 2607.4 L1376.4 2608.5 L1376.8 2609.4 L1377.2 2610.3 L1377.7 2611.0 L1378.3 2611.6 L1379.0 2612.1 L1407.6 2628.6 L1408.3 2629.0 L1409.2 2629.2 L1410.1 2629.3 L1411.0 2629.2 L1412.0 2629.0 L1413.0 2628.7 L1414.1 2628.2 L1415.1 2627.6 L1416.1 2626.9 L1417.1 2626.1 L1418.1 2625.1 L1419.1 2624.1 L1420.0 2623.0 L1420.8 2621.8 L1421.6 2620.5 L1422.3 2619.2 L1422.9 2617.9 L1423.4 2616.6 L1423.8 2615.3 L1424.1 2613.9 L1424.4 2612.6 L1424.5 2611.4 L1424.5 2610.2 L1424.4 2609.1 L1424.1 2608.0 L1423.8 2607.1 L1423.4 2606.2 L1422.9 2605.5 L1422.3 2604.9 L1421.6 2604.4 Z"/>
<path class="m" d="M1407.6 2628.6 L1406.9 2628.1 L1406.3 2627.5 L1405.8 2626.8 L1405.3 2625.9 L1405.0 2625.0 L1404.8 2623.9 L1404.7 2622.8 L1404.7 2621.6 L1404.8 2620.4 L1405.0 2619.1 L1405.3 2617.7 L1405.8 2616.4 L1406.3 2615.1 L1406.9 2613.8 L1407.6 2612.5 L1408.4 2611.2 L1409.2 2610.0 L1410.1 2608.9 L1411.0 2607.9 L1412.0 2606.9 L1413.0 2606.1 L1414.1 2605.4 L1415.1 2604.8 L1416.1 2604.3 L1417.1 2604.0 L1418.1 2603.8 L1419.1 2603.7 L1420.0 2603.8 L1420.8 2604.0 L1421.6 2604.4"/>
<path class="o" d="M1438.0 2643.9 L1437.2 2643.5 L1436.4 2643.3 L1435.5 2643.2 L1434.5 2643.3 L1433.6 2643.5 L1432.6 2643.8 L1431.5 2644.3 L1430.5 2644.9 L1429.5 2645.6 L1428.4 2646.4 L1427.5 2647.4 L1426.5 2648.4 L1425.6 2649.5 L1424.8 2650.7 L1424.0 2652.0 L1423.3 2653.3 L1422.7 2654.6 L1422.2 2655.9 L1421.8 2657.2 L1421.4 2658.6 L1421.2 2659.9 L1421.1 2661.1 L1421.1 2662.3 L1421.2 2663.4 L1421.4 2664.5 L1421.8 2665.4 L1422.2 2666.3 L1422.7 2667.0 L1423.3 2667.6 L1424.0 2668.1 L1452.6 2684.6 L1453.3 2685.0 L1454.2 2685.2 L1455.1 2685.3 L1456.0 2685.2 L1457.0 2685.0 L1458.0 2684.7 L1459.1 2684.2 L1460.1 2683.6 L1461.1 2682.9 L1462.1 2682.1 L1463.1 2681.1 L1464.1 2680.1 L1465.0 2679.0 L1465.8 2677.8 L1466.6 2676.5 L1467.3 2675.2 L1467.9 2673.9 L1468.4 2672.6 L1468.8 2671.3 L1469.1 2669.9 L1469.4 2668.6 L1469.5 2667.4 L1469.5 2666.2 L1469.4 2665.1 L1469.1 2664.0 L1468.8 2663.1 L1468.4 2662.2 L1467.9 2661.5 L1467.3 2660.9 L1466.6 2660.4 Z"/>
<path class="m" d="M1452.6 2684.6 L1451.9 2684.1 L1451.3 2683.5 L1450.8 2682.8 L1450.3 2681.9 L1450.0 2681.0 L1449.8 2679.9 L1449.7 2678.8 L1449.7 2677.6 L1449.8 2676.4 L1450.0 2675.1 L1450.3 2673.7 L1450.8 2672.4 L1451.3 2671.1 L1451.9 2669.8 L1452.6 2668.5 L1453.4 2667.2 L1454.2 2666.0 L1455.1 2664.9 L1456.0 2663.9 L1457.0 2662.9 L1458.0 2662.1 L1459.1 2661.4 L1460.1 2660.8 L1461.1 2660.3 L1462.1 2660.0 L1463.1 2659.8 L1464.1 2659.7 L1465.0 2659.8 L1465.8 2660.0 L1466.6 2660.4"/>
<path class="o" d="M1348.5 2685.4 L1347.7 2685.0 L1346.9 2684.8 L1346.0 2684.7 L1345.0 2684.8 L1344.1 2685.0 L1343.1 2685.3 L1342.0 2685.8 L1341.0 2686.4 L1340.0 2687.1 L1338.9 2687.9 L1338.0 2688.9 L1337.0 2689.9 L1336.1 2691.0 L1335.3 2692.2 L1334.5 2693.5 L1333.8 2694.8 L1333.2 2696.1 L1332.7 2697.4 L1332.3 2698.7 L1331.9 2700.1 L1331.7 2701.4 L1331.6 2702.6 L1331.6 2703.8 L1331.7 2704.9 L1331.9 2706.0 L1332.3 2706.9 L1332.7 2707.8 L1333.2 2708.5 L1333.8 2709.1 L1334.5 2709.6 L1363.1 2726.1 L1363.8 2726.5 L1364.7 2726.7 L1365.6 2726.8 L1366.5 2726.7 L1367.5 2726.5 L1368.5 2726.2 L1369.6 2725.7 L1370.6 2725.1 L1371.6 2724.4 L1372.6 2723.6 L1373.6 2722.6 L1374.6 2721.6 L1375.5 2720.5 L1376.3 2719.3 L1377.1 2718.0 L1377.8 2716.7 L1378.4 2715.4 L1378.9 2714.1 L1379.3 2712.8 L1379.6 2711.4 L1379.9 2710.1 L1380.0 2708.9 L1380.0 2707.7 L1379.9 2706.6 L1379.6 2705.5 L1379.3 2704.6 L1378.9 2703.7 L1378.4 2703.0 L1377.8 2702.4 L1377.1 2701.9 Z"/>
<path class="m" d="M1363.1 2726.1 L1362.4 2725.6 L1361.8 2725.0 L1361.3 2724.3 L1360.8 2723.4 L1360.5 2722.5 L1360.3 2721.4 L1360.2 2720.3 L1360.2 2719.1 L1360.3 2717.9 L1360.5 2716.6 L1360.8 2715.2 L1361.3 2713.9 L1361.8 2712.6 L1362.4 2711.3 L1363.1 2710.0 L1363.9 2708.7 L1364.7 2707.5 L1365.6 2706.4 L1366.5 2705.4 L1367.5 2704.4 L1368.5 2703.6 L1369.6 2702.9 L1370.6 2702.3 L1371.6 2701.8 L1372.6 2701.5 L1373.6 2701.3 L1374.6 2701.2 L1375.5 2701.3 L1376.3 2701.5 L1377.1 2701.9"/></g>
<g id="part34"><path class="o" d="M1534.5 2673.0 L1531.5 2671.6 L1528.2 2670.7 L1524.7 2670.4 L1520.9 2670.7 L1517.1 2671.4 L1513.1 2672.8 L1509.0 2674.6 L1505.0 2677.0 L1500.9 2679.8 L1496.9 2683.1 L1493.1 2686.8 L1489.4 2690.8 L1485.8 2695.2 L1482.5 2699.9 L1479.5 2704.8 L1476.8 2709.8 L1474.4 2715.0 L1472.4 2720.3 L1470.7 2725.5 L1469.4 2730.7 L1468.6 2735.8 L1468.2 2740.7 L1468.2 2745.4 L1468.6 2749.8 L1469.4 2753.9 L1470.7 2757.7 L1472.4 2761.0 L1474.4 2763.9 L1476.8 2766.3 L1479.5 2768.3 L1484.7 2771.3 L1487.7 2772.7 L1491.0 2773.5 L1494.5 2773.8 L1498.3 2773.6 L1502.1 2772.8 L1506.1 2771.5 L1510.1 2769.6 L1514.2 2767.3 L1518.3 2764.5 L1522.2 2761.2 L1526.1 2757.5 L1529.8 2753.4 L1533.4 2749.1 L1536.7 2744.4 L1539.7 2739.5 L1542.4 2734.4 L1544.8 2729.2 L1546.8 2724.0 L1548.5 2718.8 L1549.7 2713.6 L1550.6 2708.5 L1551.0 2703.6 L1551.0 2698.9 L1550.6 2694.4 L1549.8 2690.3 L1548.5 2686.6 L1546.8 2683.2 L1544.8 2680.3 L1542.4 2677.9 L1539.7 2676.0 Z"/>
<path class="t" d="M1484.7 2771.3 L1482.0 2769.3 L1479.6 2766.9 L1477.5 2764.0 L1475.9 2760.7 L1474.6 2756.9 L1473.8 2752.8 L1473.4 2748.4 L1473.4 2743.7 L1473.8 2738.8 L1474.6 2733.7 L1475.9 2728.5 L1477.6 2723.3 L1479.6 2718.0 L1482.0 2712.8 L1484.7 2707.8 L1487.7 2702.9 L1491.0 2698.2 L1494.6 2693.8 L1498.3 2689.8 L1502.1 2686.1 L1506.1 2682.8 L1510.2 2680.0 L1514.2 2677.6 L1518.3 2675.8 L1522.3 2674.4 L1526.1 2673.7 L1529.9 2673.4 L1533.4 2673.7 L1536.7 2674.6 L1539.7 2676.0"/>
<path class="o" d="M 1490.0 2724.0 L 1522.5 2705.0 L 1537.5 2704.0 L 1537.5 2715.0 L 1522.5 2732.5 L 1497.5 2746.0 L 1490.0 2740.0 Z"/>
<path class="t" d="M 1495.0 2727.5 L 1495.0 2742.5 M 1537.5 2706.0 L 1530.0 2710.0"/></g>
<g id="part35"><path class="o" d="M 1565.0 2811.0 C 1552.5 2807.5 1545.0 2795.0 1545.0 2775.0 C 1545.0 2750.0 1565.0 2722.5 1592.5 2719.0 C 1615.0 2717.5 1627.5 2735.0 1625.0 2755.0 L 1622.5 2770.0 L 1607.5 2774.0 C 1610.0 2759.0 1602.5 2751.0 1592.5 2755.0 C 1580.0 2761.0 1572.5 2782.5 1577.5 2802.5 Z"/>
<path class="t" d="M 1550.0 2795.0 C 1545.0 2760.0 1570.0 2727.5 1597.5 2724.0 M 1565.0 2811.0 L 1566.0 2802.5"/>
<path class="m" d="M 1592.5 2770.0 C 1600.0 2775.0 1602.5 2785.0 1602.5 2792.5"/></g>
<g id="part36"><path class="o" d="M1736.0 2730.2 L1730.2 2727.5 L1723.8 2725.9 L1717.0 2725.3 L1709.9 2725.7 L1702.4 2727.2 L1694.7 2729.8 L1686.9 2733.3 L1679.1 2737.9 L1671.3 2743.3 L1663.6 2749.6 L1656.2 2756.7 L1649.0 2764.6 L1642.2 2773.0 L1635.9 2782.0 L1630.0 2791.4 L1624.8 2801.2 L1620.2 2811.2 L1616.2 2821.3 L1613.1 2831.4 L1610.6 2841.4 L1609.0 2851.2 L1608.2 2860.7 L1608.2 2869.8 L1609.0 2878.3 L1610.6 2886.2 L1613.0 2893.4 L1616.2 2899.9 L1620.1 2905.4 L1624.8 2910.1 L1630.0 2913.8 L1636.9 2917.8 L1642.8 2920.5 L1649.1 2922.2 L1655.9 2922.8 L1663.1 2922.3 L1670.5 2920.8 L1678.2 2918.2 L1686.0 2914.7 L1693.8 2910.2 L1701.6 2904.7 L1709.3 2898.4 L1716.8 2891.3 L1723.9 2883.5 L1730.7 2875.0 L1737.1 2866.0 L1742.9 2856.6 L1748.1 2846.8 L1752.8 2836.8 L1756.7 2826.7 L1759.9 2816.6 L1762.3 2806.6 L1763.9 2796.8 L1764.8 2787.3 L1764.8 2778.3 L1763.9 2769.7 L1762.3 2761.8 L1759.9 2754.6 L1756.7 2748.2 L1752.8 2742.6 L1748.2 2737.9 L1742.9 2734.2 Z"/>
<path class="t" d="M1636.9 2917.8 L1631.7 2914.1 L1627.1 2909.4 L1623.2 2903.9 L1620.0 2897.4 L1617.5 2890.2 L1615.9 2882.3 L1615.1 2873.8 L1615.1 2864.7 L1615.9 2855.2 L1617.6 2845.4 L1620.0 2835.4 L1623.2 2825.3 L1627.1 2815.2 L1631.7 2805.2 L1637.0 2795.4 L1642.8 2786.0 L1649.1 2777.0 L1655.9 2768.6 L1663.1 2760.7 L1670.6 2753.6 L1678.2 2747.3 L1686.0 2741.9 L1693.9 2737.3 L1701.7 2733.8 L1709.3 2731.2 L1716.8 2729.7 L1724.0 2729.3 L1730.8 2729.9 L1737.1 2731.5 L1742.9 2734.2"/>
<ellipse class="o" cx="1689.0" cy="2827.5" rx="12.0" ry="21.0" transform="rotate(30 1689.0 2827.5)"/>
<path class="t" d="M 1700.0 2811.0 C 1705.0 2825.0 1702.5 2840.0 1692.5 2849.0"/>
<ellipse class="mw" cx="1692.5" cy="2776.0" rx="6.5" ry="12.0" transform="rotate(30 1692.5 2776.0)"/>
<ellipse class="mw" cx="1735.0" cy="2826.0" rx="6.5" ry="12.0" transform="rotate(30 1735.0 2826.0)"/>
<ellipse class="mw" cx="1646.0" cy="2866.0" rx="6.5" ry="12.0" transform="rotate(30 1646.0 2866.0)"/></g>
<g id="gears_a"><path class="o" d="M1828.0 2794.6 L1825.5 2793.5 L1822.8 2792.8 L1820.0 2792.5 L1816.9 2792.7 L1813.7 2793.4 L1810.5 2794.4 L1807.2 2796.0 L1803.8 2797.9 L1800.5 2800.2 L1797.3 2802.9 L1794.1 2805.9 L1791.1 2809.2 L1788.2 2812.8 L1785.5 2816.6 L1783.0 2820.6 L1780.8 2824.8 L1778.8 2829.0 L1777.2 2833.3 L1775.8 2837.6 L1774.8 2841.8 L1774.1 2846.0 L1773.7 2850.0 L1773.7 2853.9 L1774.1 2857.5 L1774.8 2860.9 L1775.8 2863.9 L1777.2 2866.7 L1778.8 2869.0 L1780.8 2871.0 L1783.0 2872.6 L1816.8 2892.1 L1819.2 2893.2 L1821.9 2893.9 L1824.8 2894.2 L1827.9 2894.0 L1831.0 2893.3 L1834.3 2892.3 L1837.6 2890.7 L1840.9 2888.8 L1844.2 2886.5 L1847.5 2883.8 L1850.7 2880.8 L1853.7 2877.5 L1856.6 2873.9 L1859.3 2870.1 L1861.8 2866.1 L1864.0 2861.9 L1865.9 2857.7 L1867.6 2853.4 L1869.0 2849.1 L1870.0 2844.9 L1870.7 2840.7 L1871.0 2836.7 L1871.0 2832.8 L1870.7 2829.2 L1870.0 2825.8 L1869.0 2822.8 L1867.6 2820.0 L1866.0 2817.7 L1864.0 2815.7 L1861.8 2814.1 Z"/>
<path class="n" d="M1816.8 2892.1 L1814.5 2890.5 L1812.6 2888.5 L1810.9 2886.2 L1809.6 2883.4 L1808.5 2880.4 L1807.9 2877.0 L1807.5 2873.4 L1807.5 2869.5 L1807.9 2865.5 L1808.6 2861.3 L1809.6 2857.1 L1810.9 2852.8 L1812.6 2848.5 L1814.6 2844.3 L1816.8 2840.1 L1819.3 2836.1 L1822.0 2832.3 L1824.8 2828.7 L1827.9 2825.4 L1831.1 2822.4 L1834.3 2819.7 L1837.6 2817.4 L1840.9 2815.5 L1844.3 2813.9 L1847.5 2812.9 L1850.7 2812.2 L1853.7 2812.0 L1856.6 2812.3 L1859.3 2813.0 L1861.8 2814.1"/>
<path class="n" d="M1779.4 2869.7 L1813.2 2889.2 M1774.8 2860.9 L1808.5 2880.4 M1773.8 2848.7 L1807.6 2868.2 M1776.7 2834.7 L1810.4 2854.2 M1783.0 2820.6 L1816.8 2840.1 M1792.1 2808.1 L1825.8 2827.6 M1802.7 2798.6 L1836.5 2818.1 M1813.7 2793.4 L1847.5 2812.9 M1823.8 2793.0 L1857.5 2812.5"/>
<ellipse class="o" cx="1839.3" cy="2853.1" rx="8.1" ry="14.0" transform="rotate(30 1839.3 2853.1)"/>
<path class="o" d="M1922.0 2883.0 L1919.5 2881.9 L1916.8 2881.2 L1914.0 2880.9 L1910.9 2881.1 L1907.7 2881.8 L1904.5 2882.8 L1901.2 2884.4 L1897.8 2886.3 L1894.5 2888.6 L1891.3 2891.3 L1888.1 2894.3 L1885.1 2897.6 L1882.2 2901.2 L1879.5 2905.0 L1877.0 2909.0 L1874.8 2913.2 L1872.8 2917.4 L1871.2 2921.7 L1869.8 2926.0 L1868.8 2930.2 L1868.1 2934.4 L1867.7 2938.4 L1867.7 2942.3 L1868.1 2945.9 L1868.8 2949.3 L1869.8 2952.3 L1871.2 2955.1 L1872.8 2957.4 L1874.8 2959.4 L1877.0 2961.0 L1910.8 2980.5 L1913.2 2981.6 L1915.9 2982.3 L1918.8 2982.6 L1921.9 2982.4 L1925.0 2981.7 L1928.3 2980.7 L1931.6 2979.1 L1934.9 2977.2 L1938.2 2974.9 L1941.5 2972.2 L1944.7 2969.2 L1947.7 2965.9 L1950.6 2962.3 L1953.3 2958.5 L1955.8 2954.5 L1958.0 2950.3 L1959.9 2946.1 L1961.6 2941.8 L1963.0 2937.5 L1964.0 2933.3 L1964.7 2929.1 L1965.0 2925.1 L1965.0 2921.2 L1964.7 2917.6 L1964.0 2914.2 L1963.0 2911.2 L1961.6 2908.4 L1960.0 2906.1 L1958.0 2904.1 L1955.8 2902.5 Z"/>
<path class="n" d="M1910.8 2980.5 L1908.5 2978.9 L1906.6 2976.9 L1904.9 2974.6 L1903.6 2971.8 L1902.5 2968.8 L1901.9 2965.4 L1901.5 2961.8 L1901.5 2957.9 L1901.9 2953.9 L1902.6 2949.7 L1903.6 2945.5 L1904.9 2941.2 L1906.6 2936.9 L1908.6 2932.7 L1910.8 2928.5 L1913.3 2924.5 L1916.0 2920.7 L1918.8 2917.1 L1921.9 2913.8 L1925.1 2910.8 L1928.3 2908.1 L1931.6 2905.8 L1934.9 2903.9 L1938.3 2902.3 L1941.5 2901.3 L1944.7 2900.6 L1947.7 2900.4 L1950.6 2900.7 L1953.3 2901.4 L1955.8 2902.5"/>
<path class="n" d="M1873.4 2958.1 L1907.2 2977.6 M1868.8 2949.3 L1902.5 2968.8 M1867.8 2937.1 L1901.6 2956.6 M1870.7 2923.1 L1904.4 2942.6 M1877.0 2909.0 L1910.8 2928.5 M1886.1 2896.5 L1919.8 2916.0 M1896.7 2887.0 L1930.5 2906.5 M1907.7 2881.8 L1941.5 2901.3 M1917.8 2881.4 L1951.5 2900.9"/>
<ellipse class="o" cx="1933.3" cy="2941.5" rx="8.1" ry="14.0" transform="rotate(30 1933.3 2941.5)"/>
<path class="o" d="M1799.5 2901.0 L1797.0 2899.9 L1794.3 2899.2 L1791.5 2898.9 L1788.4 2899.1 L1785.2 2899.8 L1782.0 2900.8 L1778.7 2902.4 L1775.3 2904.3 L1772.0 2906.6 L1768.8 2909.3 L1765.6 2912.3 L1762.6 2915.6 L1759.7 2919.2 L1757.0 2923.0 L1754.5 2927.0 L1752.3 2931.2 L1750.3 2935.4 L1748.7 2939.7 L1747.3 2944.0 L1746.3 2948.2 L1745.6 2952.4 L1745.2 2956.4 L1745.2 2960.3 L1745.6 2963.9 L1746.3 2967.3 L1747.3 2970.3 L1748.7 2973.1 L1750.3 2975.4 L1752.3 2977.4 L1754.5 2979.0 L1788.3 2998.5 L1790.7 2999.6 L1793.4 3000.3 L1796.3 3000.6 L1799.4 3000.4 L1802.5 2999.7 L1805.8 2998.7 L1809.1 2997.1 L1812.4 2995.2 L1815.7 2992.9 L1819.0 2990.2 L1822.2 2987.2 L1825.2 2983.9 L1828.1 2980.3 L1830.8 2976.5 L1833.3 2972.5 L1835.5 2968.3 L1837.4 2964.1 L1839.1 2959.8 L1840.5 2955.5 L1841.5 2951.3 L1842.2 2947.1 L1842.5 2943.1 L1842.5 2939.2 L1842.2 2935.6 L1841.5 2932.2 L1840.5 2929.2 L1839.1 2926.4 L1837.5 2924.1 L1835.5 2922.1 L1833.3 2920.5 Z"/>
<path class="n" d="M1788.3 2998.5 L1786.0 2996.9 L1784.1 2994.9 L1782.4 2992.6 L1781.1 2989.8 L1780.0 2986.8 L1779.4 2983.4 L1779.0 2979.8 L1779.0 2975.9 L1779.4 2971.9 L1780.1 2967.7 L1781.1 2963.5 L1782.4 2959.2 L1784.1 2954.9 L1786.1 2950.7 L1788.3 2946.5 L1790.8 2942.5 L1793.5 2938.7 L1796.3 2935.1 L1799.4 2931.8 L1802.6 2928.8 L1805.8 2926.1 L1809.1 2923.8 L1812.4 2921.9 L1815.8 2920.3 L1819.0 2919.3 L1822.2 2918.6 L1825.2 2918.4 L1828.1 2918.7 L1830.8 2919.4 L1833.3 2920.5"/>
<path class="n" d="M1750.9 2976.1 L1784.7 2995.6 M1746.3 2967.3 L1780.0 2986.8 M1745.3 2955.1 L1779.1 2974.6 M1748.2 2941.1 L1781.9 2960.6 M1754.5 2927.0 L1788.3 2946.5 M1763.6 2914.5 L1797.3 2934.0 M1774.2 2905.0 L1808.0 2924.5 M1785.2 2899.8 L1819.0 2919.3 M1795.3 2899.4 L1829.0 2918.9"/>
<ellipse class="o" cx="1810.8" cy="2959.5" rx="8.1" ry="14.0" transform="rotate(30 1810.8 2959.5)"/></g>
<g id="part39"><path class="o" d="M2001.4 2973.5 L2000.0 2972.8 L1998.4 2972.4 L1996.7 2972.3 L1995.0 2972.4 L1993.2 2972.7 L1991.3 2973.4 L1989.4 2974.2 L1987.4 2975.4 L1985.5 2976.7 L1983.6 2978.2 L1981.8 2980.0 L1980.1 2981.9 L1978.4 2984.0 L1976.8 2986.2 L1975.4 2988.5 L1974.1 2990.9 L1973.0 2993.3 L1972.0 2995.8 L1971.2 2998.3 L1970.6 3000.8 L1970.2 3003.2 L1970.0 3005.5 L1970.0 3007.7 L1970.2 3009.8 L1970.6 3011.7 L1971.2 3013.5 L1972.0 3015.1 L1973.0 3016.5 L1974.1 3017.6 L1975.4 3018.5 L1997.9 3031.5 L1999.3 3032.2 L2000.9 3032.6 L2002.6 3032.7 L2004.3 3032.6 L2006.2 3032.3 L2008.0 3031.6 L2009.9 3030.8 L2011.9 3029.6 L2013.8 3028.3 L2015.7 3026.8 L2017.5 3025.0 L2019.3 3023.1 L2020.9 3021.0 L2022.5 3018.8 L2023.9 3016.5 L2025.2 3014.1 L2026.3 3011.7 L2027.3 3009.2 L2028.1 3006.7 L2028.7 3004.2 L2029.1 3001.8 L2029.3 2999.5 L2029.3 2997.3 L2029.1 2995.2 L2028.7 2993.3 L2028.1 2991.5 L2027.3 2989.9 L2026.3 2988.5 L2025.2 2987.4 L2023.9 2986.5 Z"/>
<path class="m" d="M1972.5 3015.8 L1993.3 3027.8 M1970.1 3008.4 L1990.9 3020.4 M1971.1 2998.7 L1991.9 3010.7 M1975.4 2988.5 L1996.2 3000.5 M1982.1 2979.7 L2002.9 2991.7 M1990.0 2973.9 L2010.8 2985.9 M1997.6 2972.3 L2018.4 2984.3"/>
<path class="o" d="M 1966.7 3066.8 C 1968.4 3043.4 1990.0 3000.1 2006.7 2971.7 C 2020.1 2953.4 2036.7 2941.7 2051.7 2942.7 L 2071.8 2955.0 L 2100.1 2990.1 C 2110.1 3003.4 2116.8 3010.1 2118.5 3015.1 L 2086.8 3066.8 L 2040.1 3091.8 L 2020.1 3100.1 C 2006.7 3105.1 1990.0 3100.1 1986.7 3086.8 L 1983.4 3090.1 C 1970.0 3086.8 1965.0 3076.8 1966.7 3066.8 Z"/>
<path class="n" d="M 1986.7 3086.8 C 1985.0 3060.1 2003.4 3016.7 2023.4 2983.4 C 2033.4 2968.4 2046.7 2956.7 2060.1 2955.0 L 2071.8 2955.0 M 2060.1 2955.0 L 2080.1 2976.7"/>
<path class="n" d="M 2050.1 3081.8 L 2088.4 3065.1"/>
<ellipse class="o" cx="2046.7" cy="3040.1" rx="20.7" ry="33.4" transform="rotate(30 2046.7 3040.1)"/>
<path class="m" d="M 2065.1 3010.1 C 2073.4 3026.8 2068.4 3050.1 2053.4 3063.4 M 2071.8 3006.7 C 2083.4 3026.8 2076.8 3053.4 2056.7 3070.1"/>
<path class="o" d="M2050.3 2972.7 L2049.9 2972.5 L2049.3 2972.3 L2048.8 2972.3 L2048.2 2972.3 L2047.6 2972.5 L2047.0 2972.7 L2046.4 2972.9 L2045.8 2973.3 L2045.1 2973.7 L2044.5 2974.2 L2043.9 2974.8 L2043.3 2975.4 L2042.8 2976.1 L2042.3 2976.8 L2041.8 2977.6 L2041.4 2978.4 L2041.0 2979.2 L2040.7 2980.0 L2040.5 2980.8 L2040.3 2981.6 L2040.1 2982.4 L2040.1 2983.2 L2040.1 2983.9 L2040.1 2984.6 L2040.3 2985.2 L2040.5 2985.8 L2040.7 2986.3 L2041.0 2986.7 L2041.4 2987.1 L2041.8 2987.4 L2069.5 3003.4 L2070.0 3003.6 L2070.5 3003.8 L2071.1 3003.8 L2071.6 3003.8 L2072.2 3003.7 L2072.8 3003.5 L2073.5 3003.2 L2074.1 3002.8 L2074.7 3002.4 L2075.3 3001.9 L2075.9 3001.3 L2076.5 3000.7 L2077.1 3000.0 L2077.6 2999.3 L2078.0 2998.5 L2078.5 2997.7 L2078.8 2996.9 L2079.1 2996.1 L2079.4 2995.3 L2079.6 2994.5 L2079.7 2993.7 L2079.8 2993.0 L2079.8 2992.2 L2079.7 2991.5 L2079.6 2990.9 L2079.4 2990.3 L2079.1 2989.8 L2078.8 2989.4 L2078.5 2989.0 L2078.0 2988.7 Z"/>
<path class="m" d="M2069.5 3003.4 L2069.1 3003.1 L2068.7 3002.7 L2068.4 3002.3 L2068.2 3001.8 L2068.0 3001.2 L2067.8 3000.6 L2067.8 2999.9 L2067.8 2999.2 L2067.8 2998.4 L2068.0 2997.6 L2068.2 2996.8 L2068.4 2996.0 L2068.7 2995.2 L2069.1 2994.4 L2069.5 2993.6 L2070.0 2992.8 L2070.5 2992.1 L2071.1 2991.4 L2071.6 2990.8 L2072.2 2990.2 L2072.8 2989.7 L2073.5 2989.3 L2074.1 2988.9 L2074.7 2988.7 L2075.3 2988.5 L2075.9 2988.3 L2076.5 2988.3 L2077.1 2988.3 L2077.6 2988.5 L2078.0 2988.7"/>
<path class="o" d="M2007.0 3066.8 L2006.5 3066.5 L2006.0 3066.4 L2005.4 3066.4 L2004.9 3066.4 L2004.3 3066.5 L2003.7 3066.7 L2003.0 3067.0 L2002.4 3067.4 L2001.8 3067.8 L2001.2 3068.3 L2000.6 3068.9 L2000.0 3069.5 L1999.4 3070.2 L1998.9 3070.9 L1998.5 3071.7 L1998.0 3072.4 L1997.7 3073.2 L1997.4 3074.1 L1997.1 3074.9 L1996.9 3075.7 L1996.8 3076.5 L1996.7 3077.2 L1996.7 3077.9 L1996.8 3078.6 L1996.9 3079.3 L1997.1 3079.8 L1997.4 3080.4 L1997.7 3080.8 L1998.0 3081.2 L1998.5 3081.5 L2024.4 3096.5 L2024.9 3096.7 L2025.4 3096.8 L2026.0 3096.9 L2026.5 3096.8 L2027.1 3096.7 L2027.7 3096.5 L2028.4 3096.2 L2029.0 3095.9 L2029.6 3095.4 L2030.2 3094.9 L2030.8 3094.4 L2031.4 3093.7 L2032.0 3093.0 L2032.5 3092.3 L2032.9 3091.6 L2033.4 3090.8 L2033.7 3090.0 L2034.0 3089.2 L2034.3 3088.4 L2034.5 3087.6 L2034.6 3086.8 L2034.7 3086.0 L2034.7 3085.3 L2034.6 3084.6 L2034.5 3084.0 L2034.3 3083.4 L2034.0 3082.9 L2033.7 3082.4 L2033.4 3082.1 L2032.9 3081.8 Z"/>
<path class="m" d="M2024.4 3096.5 L2024.0 3096.2 L2023.6 3095.8 L2023.3 3095.4 L2023.1 3094.8 L2022.9 3094.3 L2022.8 3093.6 L2022.7 3092.9 L2022.7 3092.2 L2022.8 3091.5 L2022.9 3090.7 L2023.1 3089.9 L2023.3 3089.1 L2023.7 3088.2 L2024.0 3087.4 L2024.4 3086.7 L2024.9 3085.9 L2025.4 3085.2 L2026.0 3084.5 L2026.5 3083.9 L2027.1 3083.3 L2027.8 3082.8 L2028.4 3082.4 L2029.0 3082.0 L2029.6 3081.7 L2030.2 3081.5 L2030.8 3081.4 L2031.4 3081.4 L2032.0 3081.4 L2032.5 3081.5 L2032.9 3081.8"/>
<path class="o" d="M2096.0 3027.7 L2095.6 3027.5 L2095.0 3027.4 L2094.5 3027.3 L2093.9 3027.4 L2093.3 3027.5 L2092.7 3027.7 L2092.1 3028.0 L2091.5 3028.3 L2090.8 3028.8 L2090.2 3029.3 L2089.6 3029.9 L2089.0 3030.5 L2088.5 3031.2 L2088.0 3031.9 L2087.5 3032.6 L2087.1 3033.4 L2086.7 3034.2 L2086.4 3035.0 L2086.2 3035.8 L2086.0 3036.6 L2085.8 3037.4 L2085.8 3038.2 L2085.8 3038.9 L2085.8 3039.6 L2086.0 3040.2 L2086.2 3040.8 L2086.4 3041.3 L2086.7 3041.8 L2087.1 3042.2 L2087.5 3042.5 L2111.8 3056.5 L2112.2 3056.7 L2112.7 3056.8 L2113.3 3056.8 L2113.9 3056.8 L2114.5 3056.7 L2115.1 3056.5 L2115.7 3056.2 L2116.3 3055.8 L2117.0 3055.4 L2117.6 3054.9 L2118.2 3054.3 L2118.7 3053.7 L2119.3 3053.0 L2119.8 3052.3 L2120.3 3051.5 L2120.7 3050.8 L2121.1 3050.0 L2121.4 3049.1 L2121.6 3048.3 L2121.8 3047.5 L2122.0 3046.7 L2122.0 3046.0 L2122.0 3045.3 L2122.0 3044.6 L2121.8 3043.9 L2121.6 3043.4 L2121.4 3042.8 L2121.1 3042.4 L2120.7 3042.0 L2120.3 3041.7 Z"/>
<path class="m" d="M2111.8 3056.5 L2111.3 3056.2 L2111.0 3055.8 L2110.7 3055.3 L2110.4 3054.8 L2110.2 3054.2 L2110.1 3053.6 L2110.0 3052.9 L2110.0 3052.2 L2110.1 3051.4 L2110.2 3050.6 L2110.4 3049.8 L2110.7 3049.0 L2111.0 3048.2 L2111.3 3047.4 L2111.8 3046.6 L2112.2 3045.9 L2112.7 3045.2 L2113.3 3044.5 L2113.9 3043.9 L2114.5 3043.3 L2115.1 3042.8 L2115.7 3042.3 L2116.3 3042.0 L2117.0 3041.7 L2117.6 3041.5 L2118.2 3041.4 L2118.7 3041.3 L2119.3 3041.4 L2119.8 3041.5 L2120.3 3041.7"/></g>
<g id="gears_b"><path class="o" d="M2197.2 3001.3 L2194.7 3000.2 L2192.0 2999.5 L2189.2 2999.2 L2186.1 2999.4 L2182.9 3000.1 L2179.7 3001.1 L2176.4 3002.7 L2173.0 3004.6 L2169.7 3006.9 L2166.5 3009.6 L2163.3 3012.6 L2160.3 3015.9 L2157.4 3019.5 L2154.7 3023.3 L2152.2 3027.3 L2150.0 3031.5 L2148.0 3035.7 L2146.4 3040.0 L2145.0 3044.3 L2144.0 3048.5 L2143.3 3052.7 L2142.9 3056.7 L2142.9 3060.6 L2143.3 3064.2 L2144.0 3067.6 L2145.0 3070.6 L2146.4 3073.4 L2148.0 3075.7 L2150.0 3077.7 L2152.2 3079.3 L2186.0 3098.8 L2188.4 3099.9 L2191.1 3100.6 L2194.0 3100.9 L2197.1 3100.7 L2200.2 3100.0 L2203.5 3099.0 L2206.8 3097.4 L2210.1 3095.5 L2213.4 3093.2 L2216.7 3090.5 L2219.9 3087.5 L2222.9 3084.2 L2225.8 3080.6 L2228.5 3076.8 L2231.0 3072.8 L2233.2 3068.6 L2235.1 3064.4 L2236.8 3060.1 L2238.2 3055.8 L2239.2 3051.6 L2239.9 3047.4 L2240.2 3043.4 L2240.2 3039.5 L2239.9 3035.9 L2239.2 3032.5 L2238.2 3029.5 L2236.8 3026.7 L2235.2 3024.4 L2233.2 3022.4 L2231.0 3020.8 Z"/>
<path class="n" d="M2186.0 3098.8 L2183.7 3097.2 L2181.8 3095.2 L2180.1 3092.9 L2178.8 3090.1 L2177.7 3087.1 L2177.1 3083.7 L2176.7 3080.1 L2176.7 3076.2 L2177.1 3072.2 L2177.8 3068.0 L2178.8 3063.8 L2180.1 3059.5 L2181.8 3055.2 L2183.8 3051.0 L2186.0 3046.8 L2188.5 3042.8 L2191.2 3039.0 L2194.0 3035.4 L2197.1 3032.1 L2200.3 3029.1 L2203.5 3026.4 L2206.8 3024.1 L2210.1 3022.2 L2213.5 3020.6 L2216.7 3019.6 L2219.9 3018.9 L2222.9 3018.7 L2225.8 3019.0 L2228.5 3019.7 L2231.0 3020.8"/>
<path class="n" d="M2148.6 3076.4 L2182.4 3095.9 M2144.0 3067.6 L2177.7 3087.1 M2143.0 3055.4 L2176.8 3074.9 M2145.9 3041.4 L2179.6 3060.9 M2152.2 3027.3 L2186.0 3046.8 M2161.3 3014.8 L2195.0 3034.3 M2171.9 3005.3 L2205.7 3024.8 M2182.9 3000.1 L2216.7 3019.6 M2193.0 2999.7 L2226.7 3019.2"/>
<ellipse class="o" cx="2208.5" cy="3059.8" rx="8.1" ry="14.0" transform="rotate(30 2208.5 3059.8)"/>
<path class="o" d="M2307.8 3097.0 L2305.3 3095.9 L2302.6 3095.2 L2299.8 3094.9 L2296.7 3095.1 L2293.5 3095.8 L2290.3 3096.8 L2287.0 3098.4 L2283.6 3100.3 L2280.3 3102.6 L2277.1 3105.3 L2273.9 3108.3 L2270.9 3111.6 L2268.0 3115.2 L2265.3 3119.0 L2262.8 3123.0 L2260.6 3127.2 L2258.6 3131.4 L2257.0 3135.7 L2255.6 3140.0 L2254.6 3144.2 L2253.9 3148.4 L2253.5 3152.4 L2253.5 3156.3 L2253.9 3159.9 L2254.6 3163.3 L2255.6 3166.3 L2257.0 3169.1 L2258.6 3171.4 L2260.6 3173.4 L2262.8 3175.0 L2296.6 3194.5 L2299.0 3195.6 L2301.7 3196.3 L2304.6 3196.6 L2307.7 3196.4 L2310.8 3195.7 L2314.1 3194.7 L2317.4 3193.1 L2320.7 3191.2 L2324.0 3188.9 L2327.3 3186.2 L2330.5 3183.2 L2333.5 3179.9 L2336.4 3176.3 L2339.1 3172.5 L2341.6 3168.5 L2343.8 3164.3 L2345.7 3160.1 L2347.4 3155.8 L2348.8 3151.5 L2349.8 3147.3 L2350.5 3143.1 L2350.8 3139.1 L2350.8 3135.2 L2350.5 3131.6 L2349.8 3128.2 L2348.8 3125.2 L2347.4 3122.4 L2345.8 3120.1 L2343.8 3118.1 L2341.6 3116.5 Z"/>
<path class="n" d="M2296.6 3194.5 L2294.3 3192.9 L2292.4 3190.9 L2290.7 3188.6 L2289.4 3185.8 L2288.3 3182.8 L2287.7 3179.4 L2287.3 3175.8 L2287.3 3171.9 L2287.7 3167.9 L2288.4 3163.7 L2289.4 3159.5 L2290.7 3155.2 L2292.4 3150.9 L2294.4 3146.7 L2296.6 3142.5 L2299.1 3138.5 L2301.8 3134.7 L2304.6 3131.1 L2307.7 3127.8 L2310.9 3124.8 L2314.1 3122.1 L2317.4 3119.8 L2320.7 3117.9 L2324.1 3116.3 L2327.3 3115.3 L2330.5 3114.6 L2333.5 3114.4 L2336.4 3114.7 L2339.1 3115.4 L2341.6 3116.5"/>
<path class="n" d="M2259.2 3172.1 L2293.0 3191.6 M2254.6 3163.3 L2288.3 3182.8 M2253.6 3151.1 L2287.4 3170.6 M2256.5 3137.1 L2290.2 3156.6 M2262.8 3123.0 L2296.6 3142.5 M2271.9 3110.5 L2305.6 3130.0 M2282.5 3101.0 L2316.3 3120.5 M2293.5 3095.8 L2327.3 3115.3 M2303.6 3095.4 L2337.3 3114.9"/>
<ellipse class="o" cx="2319.1" cy="3155.5" rx="8.1" ry="14.0" transform="rotate(30 2319.1 3155.5)"/>
<path class="o" d="M2167.2 3108.7 L2164.7 3107.6 L2162.0 3106.9 L2159.2 3106.6 L2156.1 3106.8 L2152.9 3107.5 L2149.7 3108.5 L2146.4 3110.1 L2143.0 3112.0 L2139.7 3114.3 L2136.5 3117.0 L2133.3 3120.0 L2130.3 3123.3 L2127.4 3126.9 L2124.7 3130.7 L2122.2 3134.7 L2120.0 3138.9 L2118.0 3143.1 L2116.4 3147.4 L2115.0 3151.7 L2114.0 3155.9 L2113.3 3160.1 L2112.9 3164.1 L2112.9 3168.0 L2113.3 3171.6 L2114.0 3175.0 L2115.0 3178.0 L2116.4 3180.8 L2118.0 3183.1 L2120.0 3185.1 L2122.2 3186.7 L2156.0 3206.2 L2158.4 3207.3 L2161.1 3208.0 L2164.0 3208.3 L2167.1 3208.1 L2170.2 3207.4 L2173.5 3206.4 L2176.8 3204.8 L2180.1 3202.9 L2183.4 3200.6 L2186.7 3197.9 L2189.9 3194.9 L2192.9 3191.6 L2195.8 3188.0 L2198.5 3184.2 L2201.0 3180.2 L2203.2 3176.0 L2205.1 3171.8 L2206.8 3167.5 L2208.2 3163.2 L2209.2 3159.0 L2209.9 3154.8 L2210.2 3150.8 L2210.2 3146.9 L2209.9 3143.3 L2209.2 3139.9 L2208.2 3136.9 L2206.8 3134.1 L2205.2 3131.8 L2203.2 3129.8 L2201.0 3128.2 Z"/>
<path class="n" d="M2156.0 3206.2 L2153.7 3204.6 L2151.8 3202.6 L2150.1 3200.3 L2148.8 3197.5 L2147.7 3194.5 L2147.1 3191.1 L2146.7 3187.5 L2146.7 3183.6 L2147.1 3179.6 L2147.8 3175.4 L2148.8 3171.2 L2150.1 3166.9 L2151.8 3162.6 L2153.8 3158.4 L2156.0 3154.2 L2158.5 3150.2 L2161.2 3146.4 L2164.0 3142.8 L2167.1 3139.5 L2170.3 3136.5 L2173.5 3133.8 L2176.8 3131.5 L2180.1 3129.6 L2183.5 3128.0 L2186.7 3127.0 L2189.9 3126.3 L2192.9 3126.1 L2195.8 3126.4 L2198.5 3127.1 L2201.0 3128.2"/>
<path class="n" d="M2118.6 3183.8 L2152.4 3203.3 M2114.0 3175.0 L2147.7 3194.5 M2113.0 3162.8 L2146.8 3182.3 M2115.9 3148.8 L2149.6 3168.3 M2122.2 3134.7 L2156.0 3154.2 M2131.3 3122.2 L2165.0 3141.7 M2141.9 3112.7 L2175.7 3132.2 M2152.9 3107.5 L2186.7 3127.0 M2163.0 3107.1 L2196.7 3126.6"/>
<ellipse class="o" cx="2178.5" cy="3167.2" rx="8.1" ry="14.0" transform="rotate(30 2178.5 3167.2)"/></g>
<g id="lines_mid"><path class="l" d="M837.5 2335.0 L945.0 2396.0"/>
<path class="l" d="M1005.0 2432.5 L1065.0 2466.0"/>
<path class="l" d="M1162.5 2522.5 L1285.0 2592.5"/>
<path class="l" d="M1400.0 2660.0 L1475.0 2702.5"/>
<path class="l" d="M1510.0 2722.5 L1550.0 2745.0"/>
<path class="l" d="M1590.0 2767.5 L1627.5 2789.0"/>
<path class="l" d="M1692.5 2828.5 L1776.0 2876.5"/>
<path class="l" d="M1945.0 2975.0 L1970.0 2989.0"/>
<path class="l" d="M1692.5 2780.0 L1780.0 2830.0"/>
<path class="l" d="M1730.0 2830.0 L1777.5 2857.5"/>
<path class="l" d="M1847.5 2897.5 L1872.5 2911.0"/>
<path class="l" d="M1645.0 2866.0 L1752.5 2928.5"/>
<path class="l" d="M2068.4 2996.7 L2142.8 3036.1"/>
<path class="l" d="M2121.8 3051.8 L2140.1 3063.4"/>
<path class="l" d="M2027.4 3090.8 L2116.8 3139.5"/>
<path class="l" d="M2206.8 3104.1 L2253.5 3130.8"/>
<path d="M2193.5 3116.8 L2356.9 3210.5" style="stroke:#fff;stroke-width:12;fill:none"/>
<path class="l" d="M2048.4 3033.4 L2373.6 3220.2"/></g>
<g id="part42"><path class="o" d="M 2366.3 3278.1 L 2341.7 3287.4 L 2341.7 3352.1 L 2363.2 3361.3 Z"/>
<path class="o" d="M2525.0 3152.2 L2517.5 3148.8 L2509.4 3146.6 L2500.7 3145.9 L2491.5 3146.4 L2481.9 3148.4 L2472.1 3151.7 L2462.1 3156.2 L2452.0 3162.0 L2442.0 3169.0 L2432.1 3177.1 L2422.6 3186.3 L2413.4 3196.3 L2404.7 3207.1 L2396.5 3218.7 L2389.0 3230.8 L2382.3 3243.3 L2376.4 3256.1 L2371.4 3269.1 L2367.3 3282.1 L2364.1 3294.9 L2362.1 3307.5 L2361.0 3319.7 L2361.0 3331.3 L2362.0 3342.2 L2364.1 3352.4 L2367.2 3361.6 L2371.3 3369.9 L2376.4 3377.0 L2382.3 3383.0 L2389.0 3387.8 L2475.6 3437.8 L2483.1 3441.2 L2491.2 3443.4 L2499.9 3444.1 L2509.1 3443.6 L2518.7 3441.6 L2528.5 3438.3 L2538.5 3433.8 L2548.6 3428.0 L2558.6 3421.0 L2568.5 3412.9 L2578.0 3403.7 L2587.2 3393.7 L2595.9 3382.9 L2604.1 3371.3 L2611.6 3359.2 L2618.3 3346.7 L2624.2 3333.9 L2629.2 3320.9 L2633.3 3307.9 L2636.5 3295.1 L2638.6 3282.5 L2639.6 3270.3 L2639.6 3258.7 L2638.6 3247.8 L2636.5 3237.6 L2633.4 3228.4 L2629.3 3220.1 L2624.2 3213.0 L2618.3 3207.0 L2611.6 3202.2 Z"/>
<path class="m" d="M 2341.7 3287.4 L 2357.1 3295.4 L 2360.1 3279.3 M 2357.1 3295.4 L 2357.1 3355.2"/>
<path class="n" d="M2475.6 3437.8 L2468.9 3433.0 L2463.0 3427.0 L2457.9 3419.9 L2453.8 3411.6 L2450.7 3402.4 L2448.6 3392.2 L2447.6 3381.3 L2447.6 3369.7 L2448.7 3357.5 L2450.7 3344.9 L2453.9 3332.1 L2458.0 3319.1 L2463.0 3306.1 L2468.9 3293.3 L2475.6 3280.8 L2483.1 3268.7 L2491.3 3257.1 L2500.0 3246.3 L2509.2 3236.3 L2518.7 3227.1 L2528.6 3219.0 L2538.6 3212.0 L2548.7 3206.2 L2558.7 3201.7 L2568.5 3198.4 L2578.1 3196.4 L2587.3 3195.9 L2596.0 3196.6 L2604.1 3198.8 L2611.6 3202.2"/>
<clipPath id="c42"><ellipse cx="2543.6" cy="3320.0" rx="65.8" ry="114.0" transform="rotate(30 2543.6 3320.0)"/></clipPath>
<g clip-path="url(#c42)"><ellipse class="n" cx="2465.7" cy="3275.0" rx="65.8" ry="114.0" transform="rotate(30 2465.7 3275.0)"/><path class="n" d="M2517.5 3173.8 L2595.4 3218.8 M2533.3 3185.3 L2611.2 3230.3 M2543.1 3204.6 L2621.1 3249.6 M2546.2 3230.1 L2624.2 3275.1 M2542.3 3259.5 L2620.2 3304.5 M2531.7 3290.2 L2609.6 3335.2 M2515.3 3319.7 L2593.2 3364.7 M2494.5 3345.2 L2572.5 3390.2 M2471.3 3364.6 L2549.2 3409.6 M2447.5 3376.2 L2525.5 3421.2 M2425.3 3378.9 L2503.3 3423.9 M2406.7 3372.5 L2484.6 3417.5"/></g>
<ellipse class="n" cx="2543.6" cy="3320.0" rx="65.8" ry="114.0" transform="rotate(30 2543.6 3320.0)"/>
<path class="t" d="M2494.6 3431.6 L2487.3 3429.2 L2480.7 3425.6 L2474.8 3420.9 L2469.7 3415.0 L2465.5 3408.1 L2462.1 3400.2 L2459.6 3391.4 L2458.1 3381.8 L2457.5 3371.5 L2457.9 3360.7 L2459.3 3349.4 L2461.7 3337.8 L2464.9 3326.0 L2469.1 3314.1 L2474.1 3302.3 L2479.8 3290.7 L2486.3 3279.4 L2493.5 3268.6 L2501.2 3258.4 L2509.4 3248.9 L2518.0 3240.1 L2526.9 3232.3 L2536.0 3225.5 L2545.2 3219.7 L2554.4 3215.0 L2563.4 3211.6 L2572.3 3209.3 L2580.8 3208.3 L2589.0 3208.5 L2596.6 3210.0 L2603.7 3212.7 L2610.0 3216.7 L2615.7 3221.8"/></g>
<g id="part43"><path class="o" d="M2755.5 3298.5 L2748.7 3295.4 L2741.4 3293.4 L2733.5 3292.7 L2725.2 3293.3 L2716.5 3295.0 L2707.6 3298.0 L2698.6 3302.1 L2689.5 3307.4 L2680.4 3313.7 L2671.5 3321.0 L2662.9 3329.3 L2654.6 3338.3 L2646.7 3348.1 L2639.3 3358.6 L2632.5 3369.5 L2626.4 3380.8 L2621.1 3392.4 L2616.5 3404.2 L2612.8 3415.9 L2610.0 3427.5 L2608.1 3438.9 L2607.2 3449.9 L2607.2 3460.4 L2608.1 3470.3 L2610.0 3479.5 L2612.8 3487.9 L2616.5 3495.3 L2621.1 3501.8 L2626.4 3507.2 L2632.5 3511.5 L2641.2 3516.5 L2647.9 3519.6 L2655.3 3521.6 L2663.2 3522.3 L2671.5 3521.7 L2680.1 3520.0 L2689.0 3517.0 L2698.1 3512.9 L2707.2 3507.6 L2716.2 3501.3 L2725.1 3494.0 L2733.8 3485.7 L2742.1 3476.7 L2750.0 3466.9 L2757.4 3456.4 L2764.1 3445.5 L2770.2 3434.2 L2775.6 3422.6 L2780.1 3410.8 L2783.8 3399.1 L2786.6 3387.5 L2788.5 3376.1 L2789.5 3365.1 L2789.5 3354.6 L2788.5 3344.7 L2786.7 3335.5 L2783.8 3327.1 L2780.1 3319.7 L2775.6 3313.2 L2770.2 3307.8 L2764.2 3303.5 Z"/>
<path class="t" d="M2641.2 3516.5 L2635.1 3512.2 L2629.7 3506.8 L2625.2 3500.3 L2621.5 3492.9 L2618.7 3484.5 L2616.8 3475.3 L2615.8 3465.4 L2615.8 3454.9 L2616.8 3443.9 L2618.7 3432.5 L2621.5 3420.9 L2625.2 3409.2 L2629.8 3397.4 L2635.1 3385.8 L2641.2 3374.5 L2648.0 3363.6 L2655.3 3353.1 L2663.2 3343.3 L2671.5 3334.3 L2680.2 3326.0 L2689.1 3318.7 L2698.1 3312.4 L2707.2 3307.1 L2716.3 3303.0 L2725.2 3300.0 L2733.8 3298.3 L2742.2 3297.7 L2750.0 3298.4 L2757.4 3300.4 L2764.2 3303.5"/>
<ellipse class="o" cx="2702.7" cy="3410.0" rx="23.7" ry="41.0" transform="rotate(30 2702.7 3410.0)"/>
<path class="m" d="M2718.3 3372.7 L2719.8 3374.9 L2721.1 3377.4 L2722.0 3380.2 L2722.6 3383.2 L2722.9 3386.5 L2722.9 3390.0 L2722.6 3393.7 L2722.0 3397.5 L2721.1 3401.4 L2719.8 3405.3 L2718.3 3409.2 L2716.5 3413.1 L2714.5 3416.8 L2712.2 3420.5 L2709.8 3424.0 L2707.1 3427.2 L2704.4 3430.2 L2701.5 3433.0 L2698.5 3435.4 L2695.5 3437.5 L2692.5 3439.3 L2689.5 3440.7 L2686.5 3441.7 L2683.6 3442.2 L2680.8 3442.4 L2678.2 3442.2"/></g>
<g id="part44"><path class="o" d="M2808.8 3461.5 L2808.2 3461.2 L2807.5 3461.0 L2806.8 3461.0 L2806.1 3461.0 L2805.3 3461.2 L2804.5 3461.4 L2803.7 3461.8 L2802.9 3462.3 L2802.1 3462.8 L2801.3 3463.5 L2800.5 3464.2 L2799.8 3465.0 L2799.1 3465.9 L2798.4 3466.8 L2797.8 3467.8 L2797.3 3468.8 L2796.8 3469.9 L2796.4 3470.9 L2796.1 3472.0 L2795.8 3473.0 L2795.6 3474.0 L2795.5 3475.0 L2795.5 3476.0 L2795.6 3476.8 L2795.8 3477.7 L2796.0 3478.4 L2796.4 3479.1 L2796.8 3479.7 L2797.3 3480.1 L2797.8 3480.5 L2900.0 3539.5 L2900.6 3539.8 L2901.3 3540.0 L2902.0 3540.0 L2902.7 3540.0 L2903.5 3539.8 L2904.3 3539.6 L2905.1 3539.2 L2905.9 3538.7 L2906.7 3538.2 L2907.5 3537.5 L2908.3 3536.8 L2909.0 3536.0 L2909.7 3535.1 L2910.4 3534.2 L2911.0 3533.2 L2911.5 3532.2 L2912.0 3531.1 L2912.4 3530.1 L2912.8 3529.0 L2913.0 3528.0 L2913.2 3527.0 L2913.3 3526.0 L2913.3 3525.0 L2913.2 3524.2 L2913.0 3523.3 L2912.8 3522.6 L2912.4 3521.9 L2912.0 3521.3 L2911.5 3520.9 L2911.0 3520.5 Z"/>
<path class="t" d="M2795.6 3476.3 L2821.5 3491.3 M2797.8 3467.8 L2823.8 3482.8 M2804.0 3461.7 L2830.0 3476.7"/>
<path class="o" d="M2816.4 3579.7 L2816.8 3572.3 L2817.5 3564.7 L2818.7 3557.0 L2820.3 3549.1 L2822.4 3541.2 L2824.8 3533.2 L2827.6 3525.1 L2830.8 3517.1 L2834.4 3509.2 L2838.3 3501.3 L2842.5 3493.7 L2847.1 3486.1 L2851.9 3478.8 L2857.0 3471.8 L2862.3 3465.0 L2867.9 3458.5 L2873.6 3452.4 L2879.5 3446.7 L2885.5 3441.3 L2891.6 3436.4 L2897.8 3432.0 L2904.0 3428.1 L2910.2 3424.6 L2916.4 3421.6 L2922.5 3419.2 L2928.6 3417.3 L2934.5 3416.0 L2940.3 3415.2 L2946.0 3415.0 L2951.4 3415.3 L2956.6 3416.2 L2961.6 3417.7 L2966.3 3419.7 L2970.7 3422.2 L3195.8 3552.2 L3205.8 3558.4 L3215.1 3565.1 L3219.2 3568.1 L3227.6 3575.0 L3231.2 3578.5 L3238.5 3585.5 L3244.5 3592.4 L3247.6 3596.2 L3252.1 3602.8 L3254.8 3606.9 L3257.2 3611.4 L3259.9 3617.2 L3261.8 3621.9 L3263.4 3627.0 L3264.6 3632.4 L3265.5 3637.1 L3266.3 3642.5 L3266.8 3648.2 L3266.8 3654.2 L3266.6 3660.3 L3265.9 3666.7 L3264.9 3673.1 L3263.6 3679.7 L3261.9 3686.3 L3259.9 3693.0 L3257.5 3699.7 L3257.1 3700.9 L3254.5 3707.3 L3251.7 3713.7 L3248.5 3719.9 L3245.1 3726.1 L3241.5 3732.1 L3237.6 3737.9 L3233.6 3743.6 L3229.3 3749.0 L3228.5 3750.0 L3223.9 3755.4 L3219.1 3760.5 L3214.2 3765.3 L3209.2 3769.7 L3204.1 3773.8 L3198.9 3777.5 L3193.7 3780.8 L3188.5 3783.7 L3183.3 3786.2 L3178.2 3788.2 L3173.7 3789.8 L3168.5 3791.4 L3163.3 3792.6 L3158.2 3793.3 L3151.8 3793.9 L3146.7 3794.1 L3141.8 3793.8 L3133.9 3793.2 L3129.1 3792.4 L3120.1 3790.6 L3110.4 3787.8 L3105.5 3786.4 L3095.3 3782.6 L3090.7 3780.6 L3080.2 3775.9 L3069.9 3770.3 L2840.3 3637.8 L2836.3 3634.7 L2832.5 3631.2 L2829.1 3627.1 L2826.1 3622.6 L2823.5 3617.6 L2821.3 3612.1 L2819.5 3606.3 L2818.1 3600.1 L2817.1 3593.6 L2816.6 3586.8 Z"/>
<path class="t" d="M3065.5 3767.8 L3059.5 3762.9 L3054.2 3756.9 L3049.8 3749.8 L3046.3 3741.8 L3043.8 3732.7 L3042.2 3722.9 L3041.6 3712.4 L3042.0 3701.3 L3043.4 3689.7 L3045.8 3677.8 L3049.2 3665.7 L3053.4 3653.5 L3058.5 3641.4 L3064.5 3629.5 L3071.1 3617.9 L3078.5 3606.8 L3086.4 3596.4 L3094.8 3586.6 L3103.6 3577.6 L3112.8 3569.6 L3122.1 3562.6 L3131.5 3556.7 L3140.9 3551.9 L3150.2 3548.4 L3159.3 3546.1 L3168.0 3545.0 L3176.4 3545.3 L3184.2 3546.9 L3191.4 3549.7"/>
<path class="t" d="M3121.0 3790.9 L3113.9 3788.6 L3107.5 3785.1 L3101.7 3780.4 L3096.7 3774.7 L3092.6 3768.0 L3089.3 3760.2 L3086.8 3751.7 L3085.4 3742.3 L3084.8 3732.3 L3085.2 3721.7 L3086.6 3710.7 L3088.8 3699.3 L3092.0 3687.8 L3096.1 3676.2 L3100.9 3664.7 L3106.6 3653.4 L3112.9 3642.4 L3119.9 3631.9 L3127.4 3621.9 L3135.4 3612.6 L3143.8 3604.1 L3152.5 3596.5 L3161.4 3589.8 L3170.3 3584.1 L3179.3 3579.6 L3188.1 3576.2 L3196.8 3574.0 L3205.1 3573.0 L3213.0 3573.3 L3220.5 3574.7 L3227.4 3577.4 L3233.6 3581.2 L3239.1 3586.2"/>
<path class="n" d="M2988.8 3723.0 L2983.1 3717.6 L2978.3 3711.1 L2974.3 3703.5 L2971.3 3694.9 L2969.2 3685.5 L2968.2 3675.3 L2968.1 3664.4 L2969.0 3653.0 L2970.9 3641.3 L2973.8 3629.2 L2977.6 3617.1 L2982.2 3604.9 L2987.8 3592.9 L2994.1 3581.1 L3001.1 3569.8 L3008.8 3559.0 L3016.9 3548.9 L3025.6 3539.5 L3034.6 3531.0 L3043.8 3523.5 L3053.2 3517.0 L3062.6 3511.6 L3072.0 3507.5 L3081.2 3504.5 L3090.1 3502.9 L3098.7 3502.5 L3106.8 3503.4 L3114.3 3505.6"/>
<path class="t" d="M2995.7 3727.0 L2990.1 3721.6 L2985.2 3715.1 L2981.3 3707.5 L2978.2 3698.9 L2976.2 3689.5 L2975.1 3679.3 L2975.0 3668.4 L2975.9 3657.0 L2977.8 3645.3 L2980.7 3633.2 L2984.5 3621.1 L2989.2 3608.9 L2994.7 3596.9 L3001.0 3585.1 L3008.0 3573.8 L3015.7 3563.0 L3023.9 3552.9 L3032.5 3543.5 L3041.5 3535.0 L3050.7 3527.5 L3060.1 3521.0 L3069.6 3515.6 L3078.9 3511.5 L3088.1 3508.5 L3097.1 3506.9 L3105.6 3506.5 L3113.7 3507.4 L3121.3 3509.6"/>
<path class="o" d="M 2834.9 3558.6 L 3019.8 3660.4 L 3019.8 3675.8 L 2831.8 3574.0 Z"/>
<path class="t" d="M 2838.0 3566.6 L 3016.7 3666.5"/>
<path class="n" d="M 2844.1 3524.7 L 3019.8 3623.4 L 3032.2 3628.3 M 2844.1 3524.7 C 2850.3 3506.2 2859.5 3490.8 2871.9 3475.4"/>
<ellipse class="n" cx="3190.4" cy="3694.5" rx="35.8" ry="62.0" transform="rotate(30 3190.4 3694.5)"/>
<ellipse class="t" cx="3193.9" cy="3696.5" rx="26.0" ry="45.0" transform="rotate(30 3193.9 3696.5)"/>
<path class="o" d="M3200.7 3680.8 L3199.7 3680.3 L3198.7 3680.1 L3197.6 3680.0 L3196.5 3680.1 L3195.3 3680.3 L3194.0 3680.7 L3192.8 3681.3 L3191.5 3682.0 L3190.3 3682.9 L3189.0 3683.9 L3187.9 3685.0 L3186.7 3686.3 L3185.6 3687.6 L3184.6 3689.1 L3183.7 3690.6 L3182.8 3692.2 L3182.1 3693.8 L3181.4 3695.4 L3180.9 3697.0 L3180.5 3698.6 L3180.3 3700.2 L3180.2 3701.7 L3180.2 3703.2 L3180.3 3704.5 L3180.5 3705.8 L3180.9 3707.0 L3181.4 3708.0 L3182.1 3708.9 L3182.8 3709.6 L3183.7 3710.2 L3197.5 3718.2 L3198.4 3718.7 L3199.5 3718.9 L3200.6 3719.0 L3201.7 3718.9 L3202.9 3718.7 L3204.1 3718.3 L3205.4 3717.7 L3206.6 3717.0 L3207.9 3716.1 L3209.1 3715.1 L3210.3 3714.0 L3211.5 3712.7 L3212.6 3711.4 L3213.6 3709.9 L3214.5 3708.4 L3215.3 3706.8 L3216.1 3705.2 L3216.7 3703.6 L3217.2 3702.0 L3217.6 3700.4 L3217.9 3698.8 L3218.0 3697.3 L3218.0 3695.8 L3217.9 3694.5 L3217.6 3693.2 L3217.2 3692.0 L3216.7 3691.0 L3216.1 3690.1 L3215.4 3689.4 L3214.5 3688.8 Z"/>
<path class="m" d="M3197.5 3718.2 L3196.7 3717.6 L3195.9 3716.9 L3195.3 3716.0 L3194.8 3715.0 L3194.4 3713.8 L3194.1 3712.5 L3194.0 3711.2 L3194.0 3709.7 L3194.1 3708.2 L3194.4 3706.6 L3194.8 3705.0 L3195.3 3703.4 L3195.9 3701.8 L3196.7 3700.2 L3197.5 3698.6 L3198.5 3697.1 L3199.5 3695.6 L3200.6 3694.3 L3201.7 3693.0 L3202.9 3691.9 L3204.1 3690.9 L3205.4 3690.0 L3206.6 3689.3 L3207.9 3688.7 L3209.1 3688.3 L3210.3 3688.1 L3211.5 3688.0 L3212.6 3688.1 L3213.6 3688.3 L3214.5 3688.8"/></g>
<g id="lines_low"><path class="l" d="M2532.8 3313.9 L2628.3 3367.5"/>
<path class="l" d="M2705.4 3412.5 L2804.0 3468.0"/></g>
<g id="part48"><path class="w" d="M447.5 2659.0 L530.0 2710.0 L547.5 2706.0 L1514.4 3262.8 L1516.2 3238.8 L1538.4 3224.0 L1547.7 3224.0 L1601.3 3257.3 L1625.3 3290.6 L1627.2 3323.9 L1677.1 3361.6 L1677.1 3381.2 L1627.2 3408.9 L1575.4 3457.0 L1566.2 3704.9 L1671.6 3762.2 L1671.6 3782.6 L1605.0 3819.6 L1575.4 3823.3 L1431.1 3749.3 L1401.5 3719.7 L1397.8 3549.5 L1194.4 3429.3 L1160.0 3390.0 L1100.0 3315.0 L1050.0 3280.0 L930.0 3220.0 L870.0 3195.0 L468.8 2960.9 L440.5 2923.3 L365.2 2874.3 L350.1 2825.3 L352.0 2785.8 L365.2 2778.3 L372.5 2745.0 L420.0 2676.0 Z"/>
<path class="n" d="M1514.4 3262.8 L547.5 2706.0"/>
<path class="n" d="M 547.5 2706.0 L 530.0 2710.0 L 457.5 2661.0 C 447.5 2655.0 432.5 2660.0 420.0 2676.0 L 372.5 2745.0 L 374.0 2751.0 L 415.0 2772.5 C 421.5 2777.5 421.5 2787.5 419.0 2795.0"/>
<path class="n" d="M 365.2 2778.3 C 353.9 2780.1 350.1 2787.7 350.1 2799.0 C 350.1 2825.3 353.9 2855.5 365.2 2874.3 L 440.5 2923.3"/>
<path class="n" d="M 376.5 2757.5 L 419.8 2778.3 C 423.6 2783.9 421.7 2791.4 421.0 2799.0 C 417.9 2825.3 416.1 2863.0 429.2 2908.2"/>
<path class="t" d="M 359.6 2787.7 L 385.9 2806.5 C 389.7 2825.3 391.6 2863.0 401.0 2896.9"/>
<path class="m" d="M 365.2 2779.4 L 393.5 2795.2 C 401.0 2802.7 399.1 2825.3 401.0 2855.5 C 402.9 2878.1 408.5 2893.1 410.4 2902.6"/>
<path class="t" d="M 528.3 2712.3 C 512.1 2725.5 497.0 2738.7 485.7 2751.9 C 455.6 2787.7 436.8 2844.2 440.5 2900.7 C 442.4 2919.5 444.3 2927.0 450.0 2938.3"/>
<path class="n" d="M 546.0 2707.8 C 527.2 2721.7 510.2 2735.7 497.0 2750.0 C 466.9 2783.9 444.3 2840.4 446.2 2908.2 C 448.1 2930.8 455.6 2949.6 468.8 2960.9 L 700.0 3093.0"/>
<path class="m" d="M 902.0 3090.9 L 885.0 3085.3 L 485.7 2860.0 C 478.2 2857.4 470.7 2859.2 470.7 2866.8 C 468.8 2900.7 470.7 2938.3 485.7 2960.9 L 700.0 3084.0"/>
<path class="t" d="M 868.1 3077.7 L 491.4 2876.2 C 485.7 2873.6 480.1 2874.3 480.1 2880.0 C 478.2 2908.2 482.0 2938.3 493.3 2953.4 L 700.0 3071.5"/>
<path class="t" d="M 566.7 2893.1 C 564.8 2874.3 579.9 2861.1 595.0 2862.3"/>
<path class="n" d="M 587.5 2861.1 C 606.3 2863.0 615.7 2881.8 610.1 2898.8 C 606.3 2908.2 600.6 2913.9 592.0 2915.7"/>
<path class="n" d="M 700.0 3093.0 L 870.0 3195.0 C 890.0 3210.0 910.0 3212.5 930.0 3220.0 L 1050.0 3280.0 C 1100.0 3310.0 1135.0 3350.0 1160.0 3390.0 C 1167.5 3400.0 1175.0 3405.0 1182.5 3410.0"/>
<path class="m" d="M 700.0 3084.0 L 859.0 3172.0 C 880.0 3184.0 900.0 3187.5 925.0 3197.5 L 1045.0 3261.0 C 1052.5 3266.0 1060.0 3265.0 1060.0 3257.5 L 1060.0 3172.5 C 1060.0 3165.0 1057.5 3160.0 1050.0 3155.0 L 980.0 3115.0 C 960.0 3100.0 940.0 3092.5 907.5 3086.0"/>
<path class="t" d="M 700.0 3071.5 L 870.0 3170.0 C 885.0 3179.0 900.0 3181.0 927.5 3191.0 L 1037.5 3247.5 C 1042.5 3250.0 1047.5 3250.0 1047.5 3242.5 L 1047.5 3175.0 C 1047.5 3167.5 1046.0 3164.0 1040.0 3160.0 L 977.5 3125.0 C 960.0 3112.5 935.0 3102.5 910.0 3100.0"/>
<path class="t" d="M 865.0 3090.0 C 852.5 3115.0 852.5 3150.0 865.0 3180.0 C 870.0 3192.5 880.0 3200.0 890.0 3205.0"/>
<path class="t" d="M 920.0 3032.5 C 960.0 3015.0 1010.0 3005.0 1060.0 3006.0"/>
<path class="n" d="M 782.5 2975.0 C 780.0 2967.5 790.0 2962.5 800.0 2967.5 L 917.5 3037.5 C 927.5 3045.0 925.0 3062.5 915.0 3062.5"/>
<path class="m" d="M 782.5 2975.0 C 782.5 2982.5 785.0 2987.5 790.0 2991.0 M 860.0 3002.5 C 865.0 3010.0 864.0 3020.0 860.0 3025.0 M 895.0 3032.5 C 892.5 3040.0 895.0 3047.5 900.0 3052.5 L 915.0 3062.5 M 865.0 3007.5 L 895.0 3032.5"/>
<path class="n" d="M 762.5 3010.0 C 762.5 3000.0 772.5 2996.0 780.0 3001.0 L 897.5 3070.0 C 907.5 3077.5 905.0 3092.5 892.5 3092.5 L 872.5 3087.5"/>
<path class="t" d="M 800.0 3020.0 L 885.0 3072.5 M 877.5 3052.5 L 897.5 3070.0"/>
<ellipse class="n" cx="978.5" cy="3086.0" rx="21.0" ry="29.0" transform="rotate(-25 978.5 3086.0)"/>
<path class="n" d="M 1075.0 3180.0 L 1082.5 3174.0 L 1131.0 3201.5 L 1131.0 3296.0 L 1124.0 3298.5 L 1075.0 3269.0 Z"/>
<path class="n" d="M 1097.5 3196.0 L 1127.5 3212.5 L 1127.5 3257.5 L 1097.5 3241.0 Z"/>
<path class="m" d="M 1082.5 3174.0 L 1097.5 3196.0 M 1097.5 3241.0 L 1076.0 3267.5 M 1127.5 3257.5 L 1130.0 3295.0 M 1107.5 3202.5 L 1107.5 3237.5 L 1127.5 3248.5"/>
<path class="m" d="M 1420.0 3362.5 L 1162.5 3216.0 C 1152.5 3211.0 1142.5 3215.0 1142.5 3225.0 L 1142.5 3300.0 C 1142.5 3310.0 1147.5 3315.0 1157.5 3321.0"/>
<path class="t" d="M 1412.5 3370.0 L 1170.0 3230.0 C 1162.5 3225.0 1155.0 3227.5 1155.0 3235.0 L 1155.0 3295.0 C 1155.0 3305.0 1160.0 3307.5 1167.5 3312.5"/>
<path class="m" d="M 1416.3 3364.6 L 1161.1 3215.8 C 1157.4 3213.6 1153.7 3212.9 1150.0 3214.7 M 1155.5 3323.1 L 1397.8 3460.7"/>
<path class="t" d="M 1408.9 3372.0 L 1162.9 3228.4 C 1159.2 3226.9 1155.5 3227.7 1155.5 3232.1 M 1164.8 3317.2 L 1396.0 3447.8"/>
<path class="n" d="M 1194.4 3429.3 L 1397.8 3549.5"/>
<path class="m" d="M 1227.7 3433.0 L 1394.1 3531.0"/>
<path class="n" d="M 1174.0 3405.2 C 1177.7 3396.0 1190.7 3396.0 1205.5 3408.9 C 1214.7 3416.3 1218.4 3425.6 1216.6 3433.0 M 1150.0 3379.3 C 1157.4 3397.8 1168.5 3408.9 1177.7 3414.5"/>
<path class="n" d="M 1484.8 3310.9 C 1438.5 3335.0 1405.2 3379.3 1399.7 3431.1 L 1397.8 3697.5 C 1397.8 3719.7 1408.9 3734.5 1431.1 3749.3 L 1519.9 3801.1 C 1527.3 3804.8 1534.7 3802.9 1538.4 3801.1"/>
<path class="n" d="M 1516.2 3279.5 L 1516.2 3238.8 L 1538.4 3224.0 L 1547.7 3224.0 L 1601.3 3257.3 C 1619.8 3268.4 1625.3 3283.2 1625.3 3298.0 L 1627.2 3323.9 L 1634.6 3329.4 L 1634.6 3340.5"/>
<path class="n" d="M 1634.6 3329.4 L 1677.1 3361.6 L 1677.1 3381.2 L 1627.2 3408.9 C 1586.5 3431.1 1568.0 3460.7 1566.2 3490.3 L 1566.2 3775.2 C 1566.2 3793.7 1575.4 3806.6 1592.1 3804.8 L 1671.6 3762.2 L 1671.6 3782.6 L 1605.0 3819.6 C 1590.2 3827.0 1575.4 3823.3 1564.3 3815.9 L 1531.0 3797.4"/>
<path class="n" d="M 1568.0 3704.9 L 1671.6 3762.2"/>
<path class="m" d="M 1634.6 3340.5 L 1677.1 3362.7"/>
<path class="m" d="M 1623.5 3331.3 L 1560.6 3364.6 C 1516.2 3390.4 1495.9 3431.1 1494.0 3471.8 L 1494.0 3756.7 C 1494.0 3778.9 1505.1 3790.0 1519.9 3799.2"/>
<path class="t" d="M 1630.9 3335.0 L 1564.3 3370.8 C 1523.6 3396.0 1503.3 3434.8 1502.2 3475.5 L 1502.2 3756.7 C 1503.3 3778.9 1514.4 3791.8 1531.0 3800.3"/>
<path class="m" d="M 1634.6 3340.5 L 1582.8 3368.3 C 1553.2 3394.1 1547.7 3445.9 1547.7 3482.9 L 1547.7 3771.5 C 1547.7 3793.7 1556.9 3812.2 1575.4 3820.3"/>
<path class="o" d="M 1514.4 3327.6 L 1514.4 3298.0 C 1516.2 3283.2 1534.7 3277.6 1547.7 3285.0 C 1564.3 3294.3 1569.9 3309.1 1569.9 3327.6 L 1569.9 3353.5 L 1560.6 3356.4 Z"/>
<ellipse class="n" cx="1540.3" cy="3312.8" rx="14.1" ry="21.5" transform="rotate(-25 1540.3 3312.8)"/>
<ellipse class="t" cx="1542.9" cy="3312.8" rx="8.9" ry="15.5" transform="rotate(-25 1542.9 3312.8)"/>
<ellipse class="m" cx="1536.6" cy="3265.4" rx="4.8" ry="8.1" transform="rotate(-25 1536.6 3265.4)"/>
<path class="n" d="M 1523.6 3281.3 C 1542.1 3268.4 1556.9 3262.8 1573.6 3261.0"/></g>
<g id="part49"><g transform="translate(2000 0) scale(-1 1)"><path class="o" d="M942.4 3512.0 L942.4 3511.3 L942.7 3508.4 L942.7 3507.9 L942.8 3507.3 L942.9 3506.8 L943.1 3506.2 L943.2 3505.6 L943.4 3505.1 L943.7 3504.5 L943.9 3503.9 L944.2 3503.3 L944.5 3502.8 L944.8 3502.3 L945.2 3501.7 L945.5 3501.2 L945.9 3500.8 L946.3 3500.3 L946.7 3499.9 L947.1 3499.4 L947.6 3499.1 L948.0 3498.7 L948.5 3498.4 L950.8 3496.8 L951.4 3496.4 L952.1 3496.0 L952.7 3495.7 L953.4 3495.5 L954.0 3495.3 L954.6 3495.1 L955.2 3495.1 L955.8 3495.0 L956.3 3495.1 L961.4 3495.8 L962.0 3495.9 L962.6 3496.0 L963.2 3496.3 L963.7 3496.6 L1048.6 3545.6 L1049.0 3545.9 L1049.5 3546.4 L1049.9 3546.8 L1050.2 3547.4 L1050.6 3548.0 L1050.8 3548.6 L1051.0 3549.3 L1051.2 3550.1 L1051.3 3550.8 L1051.4 3551.6 L1051.4 3552.5 L1051.4 3553.4 L1051.3 3554.3 L1051.1 3555.2 L1050.9 3556.1 L1050.7 3557.1 L1050.4 3558.0 L1050.1 3559.0 L1049.7 3559.9 L1049.3 3560.9 L1048.8 3561.8 L1048.3 3562.7 L1047.8 3563.6 L1047.2 3564.5 L1046.6 3565.3 L1045.9 3566.1 L1045.3 3566.9 L1044.6 3567.6 L1043.9 3568.3 L1043.2 3568.9 L1042.5 3569.5 L1041.7 3570.1 L1041.0 3570.5 L1040.2 3570.9 L1039.5 3571.3 L1038.8 3571.6 L1038.0 3571.8 L1037.3 3572.0 L1036.7 3572.1 L1036.0 3572.1 L1035.3 3572.1 L1034.7 3571.9 L1034.1 3571.8 L1033.6 3571.5 L1033.0 3571.2 L948.2 3522.2 L947.7 3521.9 L947.2 3521.4 L946.8 3521.0 L943.7 3516.9 L943.4 3516.4 L943.1 3515.9 L942.9 3515.4 L942.7 3514.8 L942.6 3514.1 L942.5 3513.5 L942.4 3512.8 Z"/><path class="t" d="M953.6 3525.4 L952.9 3524.9 L952.2 3524.2 L951.7 3523.4 L951.2 3522.5 L950.9 3521.5 L950.7 3520.4 L950.5 3519.2 L950.5 3517.9 L950.7 3516.5 L950.9 3515.1 L951.2 3513.7 L951.7 3512.3 L952.2 3510.9 L952.9 3509.5 L953.6 3508.1 L954.5 3506.7 L955.4 3505.5 L956.3 3504.3 L957.3 3503.2 L958.4 3502.2 L959.5 3501.3 L960.6 3500.5 L961.7 3499.9 L962.8 3499.3 L963.9 3499.0 L964.9 3498.8 L965.9 3498.7 L966.9 3498.8 L967.8 3499.0 L968.6 3499.4"/><path class="t" d="M963.2 3530.9 L962.4 3530.4 L961.8 3529.7 L961.2 3528.9 L960.8 3528.0 L960.4 3527.0 L960.2 3525.9 L960.1 3524.7 L960.1 3523.4 L960.2 3522.0 L960.4 3520.6 L960.8 3519.2 L961.2 3517.8 L961.8 3516.4 L962.4 3515.0 L963.2 3513.6 L964.0 3512.2 L964.9 3511.0 L965.8 3509.8 L966.9 3508.7 L967.9 3507.7 L969.0 3506.8 L970.1 3506.0 L971.2 3505.4 L972.3 3504.8 L973.4 3504.5 L974.5 3504.3 L975.5 3504.2 L976.4 3504.3 L977.3 3504.5 L978.2 3504.9"/><path class="t" d="M972.7 3536.4 L971.9 3535.9 L971.3 3535.2 L970.7 3534.4 L970.3 3533.5 L969.9 3532.5 L969.7 3531.4 L969.6 3530.2 L969.6 3528.9 L969.7 3527.5 L969.9 3526.1 L970.3 3524.7 L970.7 3523.3 L971.3 3521.9 L971.9 3520.5 L972.7 3519.1 L973.5 3517.7 L974.4 3516.5 L975.4 3515.3 L976.4 3514.2 L977.4 3513.2 L978.5 3512.3 L979.6 3511.5 L980.7 3510.9 L981.8 3510.3 L982.9 3510.0 L984.0 3509.8 L985.0 3509.7 L986.0 3509.8 L986.9 3510.0 L987.7 3510.4"/><path class="t" d="M982.2 3541.9 L981.5 3541.4 L980.8 3540.7 L980.3 3539.9 L979.8 3539.0 L979.5 3538.0 L979.2 3536.9 L979.1 3535.7 L979.1 3534.4 L979.2 3533.0 L979.5 3531.6 L979.8 3530.2 L980.3 3528.8 L980.8 3527.4 L981.5 3526.0 L982.2 3524.6 L983.0 3523.2 L983.9 3522.0 L984.9 3520.8 L985.9 3519.7 L987.0 3518.7 L988.0 3517.8 L989.2 3517.0 L990.3 3516.4 L991.4 3515.8 L992.5 3515.5 L993.5 3515.3 L994.5 3515.2 L995.5 3515.3 L996.4 3515.5 L997.2 3515.9"/><path class="t" d="M991.7 3547.4 L991.0 3546.9 L990.3 3546.2 L989.8 3545.4 L989.3 3544.5 L989.0 3543.5 L988.8 3542.4 L988.6 3541.2 L988.6 3539.9 L988.8 3538.5 L989.0 3537.1 L989.3 3535.7 L989.8 3534.3 L990.3 3532.9 L991.0 3531.5 L991.7 3530.1 L992.6 3528.7 L993.5 3527.5 L994.4 3526.3 L995.4 3525.2 L996.5 3524.2 L997.6 3523.3 L998.7 3522.5 L999.8 3521.9 L1000.9 3521.3 L1002.0 3521.0 L1003.0 3520.8 L1004.0 3520.7 L1005.0 3520.8 L1005.9 3521.0 L1006.7 3521.4"/><path class="t" d="M1001.3 3552.9 L1000.5 3552.4 L999.9 3551.7 L999.3 3550.9 L998.9 3550.0 L998.5 3549.0 L998.3 3547.9 L998.2 3546.7 L998.2 3545.4 L998.3 3544.0 L998.5 3542.6 L998.9 3541.2 L999.3 3539.8 L999.9 3538.4 L1000.5 3537.0 L1001.3 3535.6 L1002.1 3534.2 L1003.0 3533.0 L1003.9 3531.8 L1005.0 3530.7 L1006.0 3529.7 L1007.1 3528.8 L1008.2 3528.0 L1009.3 3527.4 L1010.4 3526.8 L1011.5 3526.5 L1012.6 3526.3 L1013.6 3526.2 L1014.5 3526.3 L1015.4 3526.5 L1016.3 3526.9"/><path class="t" d="M1010.8 3558.4 L1010.0 3557.9 L1009.4 3557.2 L1008.8 3556.4 L1008.4 3555.5 L1008.0 3554.5 L1007.8 3553.4 L1007.7 3552.2 L1007.7 3550.9 L1007.8 3549.5 L1008.0 3548.1 L1008.4 3546.7 L1008.8 3545.3 L1009.4 3543.9 L1010.0 3542.5 L1010.8 3541.1 L1011.6 3539.7 L1012.5 3538.5 L1013.5 3537.3 L1014.5 3536.2 L1015.5 3535.2 L1016.6 3534.3 L1017.7 3533.5 L1018.8 3532.9 L1019.9 3532.3 L1021.0 3532.0 L1022.1 3531.8 L1023.1 3531.7 L1024.1 3531.8 L1025.0 3532.0 L1025.8 3532.4"/><path class="t" d="M1020.3 3563.9 L1019.6 3563.4 L1018.9 3562.7 L1018.4 3561.9 L1017.9 3561.0 L1017.6 3560.0 L1017.3 3558.9 L1017.2 3557.7 L1017.2 3556.4 L1017.3 3555.0 L1017.6 3553.6 L1017.9 3552.2 L1018.4 3550.8 L1018.9 3549.4 L1019.6 3548.0 L1020.3 3546.6 L1021.1 3545.2 L1022.0 3544.0 L1023.0 3542.8 L1024.0 3541.7 L1025.1 3540.7 L1026.2 3539.8 L1027.3 3539.0 L1028.4 3538.4 L1029.5 3537.8 L1030.6 3537.5 L1031.6 3537.3 L1032.6 3537.2 L1033.6 3537.3 L1034.5 3537.5 L1035.3 3537.9"/><path class="t" d="M1029.8 3569.4 L1029.1 3568.9 L1028.4 3568.2 L1027.9 3567.4 L1027.4 3566.5 L1027.1 3565.5 L1026.9 3564.4 L1026.7 3563.2 L1026.7 3561.9 L1026.9 3560.5 L1027.1 3559.1 L1027.4 3557.7 L1027.9 3556.3 L1028.4 3554.9 L1029.1 3553.5 L1029.8 3552.1 L1030.7 3550.7 L1031.6 3549.5 L1032.5 3548.3 L1033.5 3547.2 L1034.6 3546.2 L1035.7 3545.3 L1036.8 3544.5 L1037.9 3543.9 L1039.0 3543.3 L1040.1 3543.0 L1041.1 3542.8 L1042.2 3542.7 L1043.1 3542.8 L1044.0 3543.0 L1044.8 3543.4"/><path class="o" d="M1032.9 3570.7 L1032.9 3569.4 L1033.1 3568.2 L1033.3 3566.9 L1033.5 3565.6 L1033.9 3564.3 L1034.3 3562.9 L1034.8 3561.6 L1035.3 3560.3 L1035.9 3558.9 L1036.5 3557.6 L1037.2 3556.3 L1038.0 3555.1 L1038.8 3553.9 L1039.7 3552.7 L1040.5 3551.6 L1041.5 3550.5 L1042.4 3549.5 L1043.4 3548.5 L1044.4 3547.6 L1045.4 3546.8 L1046.4 3546.1 L1047.5 3545.4 L1048.5 3544.8 L1049.5 3544.3 L1050.6 3543.9 L1055.6 3542.0 L1056.8 3541.7 L1058.0 3541.4 L1059.2 3541.2 L1060.4 3541.2 L1061.5 3541.2 L1062.6 3541.4 L1063.6 3541.7 L1064.6 3542.1 L1089.8 3556.7 L1090.6 3557.3 L1091.4 3558.0 L1092.1 3558.9 L1097.4 3566.4 L1098.0 3567.2 L1098.4 3568.1 L1098.8 3569.1 L1099.1 3570.1 L1099.4 3571.2 L1099.5 3572.3 L1099.6 3573.5 L1099.7 3574.7 L1099.6 3576.0 L1099.5 3577.3 L1099.2 3578.7 L1099.0 3580.1 L1098.6 3581.4 L1098.2 3582.8 L1097.7 3584.2 L1097.1 3585.7 L1096.5 3587.0 L1095.8 3588.4 L1095.1 3589.8 L1094.3 3591.1 L1093.5 3592.3 L1092.6 3593.6 L1091.6 3594.8 L1090.7 3595.9 L1089.7 3596.9 L1088.6 3597.9 L1087.6 3598.9 L1086.5 3599.7 L1085.5 3600.5 L1084.4 3601.2 L1083.3 3601.8 L1082.2 3602.3 L1081.1 3602.7 L1080.1 3603.1 L1079.0 3603.3 L1078.0 3603.4 L1077.0 3603.5 L1076.1 3603.4 L1066.8 3602.6 L1065.8 3602.4 L1064.7 3602.1 L1063.8 3601.7 L1062.9 3601.1 L1038.6 3587.1 L1037.8 3586.5 L1037.0 3585.8 L1036.3 3584.9 L1035.7 3584.0 L1035.1 3583.0 L1034.7 3581.8 L1034.3 3580.7 L1034.0 3579.4 L1033.2 3574.1 L1033.0 3573.0 L1032.9 3571.9 Z"/><path class="t" d="M1039.7 3587.7 L1038.5 3586.6 L1037.5 3585.2 L1036.7 3583.6 L1036.1 3581.9 L1035.7 3579.9 L1035.4 3577.8 L1035.4 3575.6 L1035.6 3573.2 L1036.0 3570.8 L1036.6 3568.3 L1037.4 3565.8 L1038.4 3563.3 L1039.5 3560.8 L1040.8 3558.4 L1042.2 3556.1 L1043.8 3553.8 L1045.5 3551.7 L1047.3 3549.8 L1049.1 3548.0 L1051.1 3546.5 L1053.0 3545.2 L1054.9 3544.1 L1056.9 3543.2 L1058.8 3542.6 L1060.6 3542.2 L1062.4 3542.2 L1064.1 3542.4 L1065.6 3542.8"/><ellipse class="m" cx="1084.1" cy="3583.4" rx="12.1" ry="21.0" transform="rotate(30 1084.1 3583.4)"/><path class="t" d="M1088.6 3591.9 L1079.6 3574.9 M1074.5 3594.1 L1093.7 3572.7"/></g>
<path class="l" d="M1058.5 3497.4 L1193.8 3421.0"/></g>
<g id="part50"><path class="o" d="M 1780.4 3519.7 L 1780.4 3565.0 L 1791.3 3569.8 L 1791.3 3586.2 L 1799.8 3590.4 L 1799.8 3600.0 L 1816.7 3604.3 L 1919.4 3546.9 L 1919.4 3501.6 L 1934.5 3495.5 L 1934.5 3473.2 L 1919.4 3477.4 L 1919.4 3465.3 L 1898.2 3457.5 L 1804.6 3510.6 Z"/>
<path class="m" d="M 1804.6 3510.6 L 1816.7 3516.7 L 1816.7 3604.3 M 1816.7 3516.7 L 1919.4 3465.3 M 1780.4 3519.7 L 1795.5 3525.7 L 1795.5 3513.6 M 1795.5 3525.7 L 1804.6 3519.7"/>
<path class="o" d="M 1768.3 3498.5 L 1780.4 3493.7 L 1795.5 3501.6 L 1795.5 3513.6 L 1780.4 3519.7 L 1780.4 3528.8 L 1768.3 3523.9 Z"/>
<path class="o" d="M 1846.9 3457.5 L 1862.0 3449.0 L 1880.1 3457.5 L 1880.1 3468.3 L 1865.0 3475.6 L 1846.9 3468.3 Z"/>
<path class="o" d="M 1913.3 3498.5 C 1928.4 3495.5 1949.6 3501.6 1973.8 3516.7 C 1985.8 3525.7 1973.8 3537.8 1985.8 3543.9 L 2010.0 3537.8 C 2019.1 3540.8 2016.1 3549.9 2010.0 3555.9 L 1985.8 3565.0 C 1970.7 3562.0 1973.8 3546.9 1967.7 3537.8 L 1943.6 3528.8 L 1919.4 3531.8 Z"/>
<path class="t" d="M 1970.7 3537.8 L 1970.7 3521.5"/>
<path class="o" d="M 1834.8 3543.9 C 1840.8 3537.8 1849.9 3540.8 1852.9 3549.9 L 1855.9 3565.0 L 1880.1 3574.1 C 1895.2 3578.3 1907.3 3571.0 1919.4 3580.1 C 1931.5 3589.2 1936.3 3601.3 1931.5 3619.4 L 1922.4 3625.4 C 1919.4 3608.5 1913.3 3601.3 1901.3 3598.2 C 1889.2 3595.2 1883.1 3607.3 1871.0 3604.3 L 1843.9 3592.2 L 1840.8 3565.0 Z"/>
<path class="t" d="M 1883.1 3575.9 L 1883.1 3601.3"/>
<path class="l" d="M1928.4 3565.0 L1991.9 3598.2"/></g>
<g id="part51"><path class="o" d="M 1994.9 3694.9 L 1994.9 3764.4 C 1997.9 3776.5 2004.0 3782.5 2013.0 3788.6 L 2164.1 3876.2 L 2179.2 3758.3 L 2049.3 3685.8 Z"/>
<path class="o" d="M 1994.9 3649.6 L 1994.9 3607.3 C 1997.9 3571.0 2022.1 3534.8 2049.3 3525.7 L 2076.5 3540.8 L 2079.5 3513.6 L 2100.6 3509.4 L 2309.1 3628.4 L 2179.2 3758.3 L 2010.0 3658.7 Z"/>
<path class="n" d="M 2079.5 3513.6 L 2079.5 3543.9 L 2091.6 3548.1 L 2112.7 3534.8 M 2076.5 3540.8 L 2089.8 3548.1"/>
<path class="t" d="M 2176.2 3560.2 C 2130.9 3571.0 2094.6 3619.4 2089.8 3661.7 L 2089.8 3704.0"/>
<path class="m" d="M 2010.0 3658.7 L 2010.0 3685.8 L 2022.1 3693.1 L 2022.1 3673.8 M 2022.1 3693.1 L 2037.2 3700.9 L 2037.2 3679.8"/>
<path class="o" d="M 2040.2 3697.9 L 2049.3 3688.9 L 2170.1 3758.3 L 2170.1 3812.7 L 2049.3 3743.2 L 2040.2 3737.2 Z"/>
<path class="m" d="M 2049.3 3688.9 L 2049.3 3743.2 M 2082.5 3728.1 L 2164.1 3776.5"/>
<ellipse class="m" cx="2064.4" cy="3729.3" rx="10.9" ry="13.3" transform="rotate(-20 2064.4 3729.3)"/>
<path class="t" d="M 2064.4 3717.3 L 2065.6 3742.6"/>
<path class="n" d="M 1994.9 3694.9 L 2037.2 3717.3"/>
<path class="o" d="M 2203.4 4105.8 L 2185.2 4096.7 C 2173.1 4090.7 2167.1 4084.6 2164.1 4069.5 L 2164.1 3758.3 C 2170.1 3716.1 2197.3 3685.8 2221.5 3673.8 L 2330.2 3613.3 C 2348.4 3604.3 2366.5 3607.3 2378.6 3613.3 L 2402.7 3628.4 L 2402.7 4024.2 Z"/>
<path class="o" d="M 2306.1 4172.2 L 2245.6 4151.1 C 2221.5 4139.0 2206.4 4126.9 2203.4 4108.8 L 2203.4 3806.7 C 2206.4 3758.3 2233.6 3728.1 2263.8 3710.0 L 2402.7 3634.5 C 2423.9 3625.4 2439.0 3631.5 2451.1 3637.5 L 2505.5 3668.9 L 2505.5 4084.6 Z"/>
<path class="o" d="M 2266.8 4157.1 L 2266.8 3842.9 C 2269.8 3794.6 2294.0 3764.4 2324.2 3749.3 L 2469.2 3670.7 C 2487.3 3661.7 2499.4 3664.7 2505.5 3668.9 L 2608.2 3746.3 C 2620.2 3755.3 2620.2 3770.4 2620.2 3782.5 L 2620.2 4078.6 C 2620.2 4102.7 2608.2 4120.9 2590.0 4132.9 L 2538.7 4160.1 L 2538.7 4193.4 L 2460.1 4235.7 L 2442.0 4242.9 L 2294.0 4193.4 L 2294.0 4172.2 Z"/>
<path class="t" d="M 2281.9 4166.2 L 2281.9 3849.0 C 2284.9 3806.7 2306.1 3779.5 2333.3 3763.2 L 2475.2 3685.8 C 2487.3 3681.0 2496.4 3682.8 2502.4 3685.8"/>
<path class="t" d="M 2330.2 3761.4 L 2429.9 3821.8 M 2284.9 3846.0 L 2384.6 3903.4"/>
<path class="t" d="M 2384.6 4199.4 L 2384.6 3915.4 C 2384.6 3879.2 2402.7 3855.0 2429.9 3821.8 L 2590.0 3734.2"/>
<path class="n" d="M 2420.9 3897.3 C 2420.9 3873.1 2432.9 3861.1 2445.0 3852.0 L 2571.9 3782.5 C 2584.0 3776.5 2590.0 3782.5 2590.0 3794.6 L 2590.0 4048.4 C 2590.0 4066.5 2584.0 4078.6 2571.9 4087.6 L 2439.0 4163.2 C 2426.9 4169.2 2420.9 4163.2 2420.9 4151.1 Z"/>
<path class="m" d="M 2442.0 4242.9 L 2442.0 4205.5 C 2442.0 4199.4 2436.0 4196.4 2429.9 4199.4 M 2460.1 4235.7 L 2460.1 4196.4 L 2523.6 4163.2 L 2523.6 4154.1 M 2294.0 4172.2 L 2384.6 4202.4"/></g>
<g id="part1"><path class="n" d="M 1851.6 748.3 C 1866.6 740.0 1896.6 733.3 1916.5 739.3 L 1983.1 781.6 C 2006.4 776.6 2026.4 779.9 2039.7 786.6"/>
<path class="n" d="M2039.7 786.6 L2520.0 1067.5"/>
<path class="n" d="M 1851.6 748.3 L 1851.6 771.6 L 1926.5 814.9 L 1956.5 829.9 L 1956.5 843.2 L 1974.8 851.5 L 1974.8 823.2 L 2049.7 864.8 L 2049.7 1057.9"/>
<path class="m" d="M 1851.6 748.3 L 1941.5 795.9"/>
<path class="t" d="M 1941.5 795.9 C 1953.2 788.2 1966.5 783.3 1983.1 781.6 M 1946.5 799.2 C 1959.8 791.6 1973.1 786.6 1988.1 785.3"/>
<path class="m" d="M 1974.8 823.2 L 2001.4 841.5 L 1974.8 851.5"/>
<path class="n" d="M 1926.5 816.5 C 1919.9 869.8 1889.9 919.8 1851.6 949.7 L 1851.6 976.4 L 1929.9 1019.6"/>
<path class="m" d="M 1938.2 823.2 C 1931.5 876.5 1903.2 926.4 1866.6 954.7 L 1873.3 959.7 L 1873.3 971.4 M 1851.6 949.7 L 1866.6 954.7"/>
<path class="t" d="M 1948.2 829.9 C 1943.2 879.8 1919.9 926.4 1896.6 949.7 L 1963.2 989.7"/>
<path class="t" d="M 1991.5 846.5 C 1986.5 893.1 1963.2 939.7 1931.5 968.0 M 1999.8 851.5 C 1994.8 896.4 1971.5 943.1 1939.9 971.4"/>
<path class="t" d="M 1873.3 971.4 L 1959.8 1021.3 M 1896.6 949.7 L 1879.9 963.0"/>
<path class="o" d="M 2019.8 911.4 L 2038.1 903.1 L 2049.7 914.8 C 2039.7 953.0 2009.8 1003.0 1971.5 1031.3 L 1956.5 1019.6 L 1954.8 1003.0 C 1984.8 979.7 2009.8 946.4 2019.8 911.4 Z"/>
<path class="m" d="M 2019.8 911.4 L 2033.1 923.1 C 2023.1 959.7 1999.8 996.3 1971.5 1016.3 L 1971.5 1031.3 M 2033.1 923.1 L 2049.7 914.8 M 1954.8 1003.0 L 1971.5 1016.3"/>
<path class="n" d="M 2049.7 864.8 L 2068.0 876.5 L 2079.7 876.5 L 2079.7 866.5 L 2086.3 864.8 L 2137.9 893.1 L 2129.6 899.8 L 2129.6 949.7 L 2166.2 933.1 M 2068.0 876.5 L 2068.0 953.0 L 2064.7 949.7 L 2064.7 959.7 L 2078.0 966.4"/>
<path class="m" d="M 2073.0 879.8 L 2073.0 886.5 L 2086.3 893.1 C 2096.3 899.8 2098.0 913.1 2098.0 926.4 L 2098.0 959.7 L 2078.0 966.4 M 2079.7 876.5 L 2073.0 879.8 M 2086.3 864.8 L 2086.3 876.5 L 2129.6 899.8"/>
<ellipse class="m" cx="2080.7" cy="923.7" rx="6.7" ry="10.0" transform="rotate(-15 2080.7 923.7)"/>
<path class="n" d="M 2078.0 966.4 C 2066.4 973.0 2064.7 986.3 2059.7 996.3 L 2054.7 1001.3 L 2054.7 1057.9 M 2064.7 1003.0 L 2064.7 1016.3 L 2086.3 1031.3 L 2096.3 1036.3 L 2096.3 1057.9"/>
<path class="m" d="M 2078.0 968.0 C 2073.0 983.0 2073.0 999.7 2086.3 1013.0 M 2096.3 968.0 C 2091.3 986.3 2093.0 1006.3 2103.0 1019.6 M 2119.6 966.4 C 2126.3 986.3 2123.0 1013.0 2106.3 1029.6 L 2096.3 1036.3 M 2106.3 969.7 L 2119.6 966.4 M 2098.0 959.7 L 2106.3 969.7"/>
<path class="n" d="M 2121.3 1057.9 L 2121.3 1032.9 C 2136.3 1019.6 2156.3 1013.0 2162.9 1003.0 L 2166.2 933.1 M 2132.9 1057.9 L 2132.9 1039.6 C 2146.3 1029.6 2166.2 1019.6 2172.9 1006.3 L 2176.2 939.7"/>
<path class="t" d="M 2197.9 953.0 C 2196.2 986.3 2186.2 1026.3 2166.2 1057.9"/>
<path class="n" d="M 2129.6 906.4 L 2256.1 979.7 L 2256.1 993.0 L 2269.4 1004.6 L 2277.8 999.7 L 2269.4 994.7 L 2360.0 1047.9"/>
<path class="m" d="M 2339.4 1036.3 L 2339.4 1057.9"/>
<path class="l" d="M2210.2 763.3 L2210.2 884.8"/>
<path class="n" d="M 1852.5 975.0 L 1930.0 1019.0 C 1940.0 1022.5 1947.5 1022.5 1951.0 1026.0 M 1945.0 1042.5 C 1951.0 1047.5 1957.5 1050.0 1965.0 1054.0 L 2370.0 1280.0"/>
<path class="m" d="M 1872.5 970.0 L 2040.0 1065.0 M 1965.0 1040.0 L 2050.0 1087.5 L 2125.0 1127.5 L 2320.0 1240.0"/>
<path class="n" d="M 2050.0 1057.5 L 2050.0 1070.0 L 2085.0 1089.0 L 2097.5 1087.5 L 2097.5 1080.0 L 2122.5 1065.0 L 2122.5 1035.0 C 2140.0 1025.0 2160.0 1015.0 2165.0 1000.0"/>
<ellipse class="m" cx="2077.5" cy="1066.0" rx="8.0" ry="10.0" transform="rotate(-10 2077.5 1066.0)"/>
<path class="m" d="M 2065.0 1015.0 L 2065.0 1040.0 L 2055.0 1045.0 M 2097.5 1040.0 L 2097.5 1080.0 M 2065.0 1015.0 L 2097.5 1040.0 L 2122.5 1035.0"/>
<path class="n" d="M 2132.5 1095.0 L 2125.0 1100.0 L 2277.5 1187.5 L 2287.5 1190.0"/>
<path class="t" d="M 2197.5 955.0 C 2195.0 1010.0 2170.0 1065.0 2132.5 1095.0"/>
<path class="n" d="M 2344.0 1040.0 C 2340.0 1090.0 2315.0 1145.0 2277.5 1180.0 L 2277.5 1187.5 M 2354.0 1050.0 C 2350.0 1100.0 2325.0 1155.0 2287.5 1190.0"/>
<path class="m" d="M 2257.5 980.0 L 2257.5 992.5 L 2270.0 1004.0 L 2277.5 997.5 L 2270.0 994.0 M 2345.0 1037.5 L 2345.0 1050.0 L 2357.5 1047.5"/>
<path class="m" d="M 2315.0 1182.5 C 2312.5 1187.5 2315.0 1192.5 2320.0 1195.0 L 2365.0 1220.0 M 2315.0 1182.5 C 2320.0 1177.5 2325.0 1179.0 2330.0 1182.5 L 2370.0 1205.0"/></g>
<g id="part1b"><path class="n" d="M 2520.0 1067.5 C 2540.0 1080.0 2550.0 1095.0 2554.0 1110.0"/>
<path class="n" d="M 2530.0 1097.5 L 2937.5 1322.5 L 2937.5 1310.0 L 3000.0 1281.0 C 3030.0 1290.0 3070.0 1320.0 3080.0 1330.0 C 3090.0 1345.0 3087.5 1370.0 3090.0 1390.0 L 3095.0 1395.0"/>
<path class="n" d="M 2360.0 1050.0 L 2715.0 1247.5 C 2717.5 1255.0 2717.5 1262.5 2717.5 1267.5 L 2717.5 1515.0 M 2730.0 1266.0 L 2925.0 1350.0 L 2970.0 1377.5 L 3032.5 1417.5 L 3040.0 1422.5 L 3085.0 1467.5 L 3141.0 1435.0"/>
<path class="n" d="M 2730.0 1266.0 C 2727.5 1270.0 2727.5 1275.0 2727.5 1280.0 L 2727.5 1360.0 L 2730.0 1365.0 L 2787.5 1335.0 L 2787.5 1300.0 M 2727.5 1520.0 L 2727.5 1415.0 L 2785.0 1387.5 L 2785.0 1450.0 C 2780.0 1485.0 2760.0 1510.0 2737.5 1522.5"/>
<path class="n" d="M 2937.5 1310.0 L 3010.0 1345.0 C 3022.5 1350.0 3027.5 1360.0 3027.5 1370.0 C 3030.0 1390.0 3030.0 1405.0 3032.5 1417.5 M 2937.5 1322.5 L 2937.5 1345.0"/>
<ellipse class="m" cx="2959.0" cy="1347.5" rx="7.5" ry="11.0" transform="rotate(-15 2959.0 1347.5)"/>
<ellipse class="m" cx="3003.5" cy="1370.0" rx="12.5" ry="16.5" transform="rotate(-15 3003.5 1370.0)"/>
<ellipse class="m" cx="2979.0" cy="1387.5" rx="6.5" ry="9.0" transform="rotate(-15 2979.0 1387.5)"/>
<path class="t" d="M 3040.0 1415.0 L 3095.0 1395.0 M 3085.0 1467.5 L 3085.0 1557.0 M 3025.0 1435.0 L 3025.0 1557.0"/>
<path class="n" d="M 2372.5 1132.5 L 2372.5 1115.0 L 2415.0 1092.5 L 2437.5 1100.0 M 2372.5 1115.0 L 2387.5 1122.5 L 2427.5 1100.0 M 2387.5 1122.5 L 2387.5 1132.5 L 2405.0 1142.5 L 2405.0 1152.5 M 2372.5 1132.5 L 2405.0 1152.5"/>
<ellipse class="o" cx="2450.0" cy="1157.5" rx="21.0" ry="26.0" transform="rotate(-20 2450.0 1157.5)"/>
<ellipse class="m" cx="2450.0" cy="1160.0" rx="11.0" ry="15.0" transform="rotate(-20 2450.0 1160.0)"/>
<path class="n" d="M 2437.5 1135.0 C 2450.0 1110.0 2490.0 1110.0 2502.5 1140.0 C 2510.0 1160.0 2502.5 1180.0 2485.0 1185.0 L 2470.0 1182.5 M 2550.0 1162.5 L 2480.0 1195.0"/>
<path class="o" d="M 2447.5 1195.0 C 2447.5 1187.5 2460.0 1187.5 2464.0 1195.0 C 2467.5 1205.0 2462.5 1212.5 2455.0 1212.5 C 2450.0 1212.5 2447.5 1202.5 2447.5 1195.0 Z"/>
<path class="m" d="M 2405.0 1152.5 C 2395.0 1165.0 2392.5 1180.0 2390.0 1195.0 L 2377.5 1200.0 L 2377.5 1220.0 L 2360.0 1230.0 L 2360.0 1240.0 M 2415.0 1157.5 C 2405.0 1172.5 2405.0 1187.5 2410.0 1200.0 M 2430.0 1167.5 C 2422.5 1180.0 2422.5 1195.0 2427.5 1205.0 M 2390.0 1195.0 L 2405.0 1207.5 L 2390.0 1215.0"/>
<path class="n" d="M 2330.0 1220.0 L 2355.0 1232.5 L 2355.0 1242.5 L 2330.0 1230.0 M 2375.0 1270.0 L 2410.0 1287.5 L 2410.0 1297.5 L 2420.0 1300.0 L 2447.5 1285.0 L 2447.5 1270.0 C 2447.5 1255.0 2465.0 1247.5 2477.5 1255.0 C 2490.0 1265.0 2492.5 1280.0 2490.0 1290.0 L 2502.5 1297.5 L 2502.5 1310.0 L 2537.5 1327.5 L 2537.5 1340.0 L 2550.0 1345.0"/>
<ellipse class="m" cx="2462.5" cy="1279.0" rx="7.0" ry="9.0" transform="rotate(-15 2462.5 1279.0)"/>
<path class="n" d="M 2502.5 1297.5 L 2545.0 1277.5 M 2537.5 1327.5 L 2552.5 1320.0 L 2552.5 1330.0 M 2550.0 1345.0 L 2550.0 1375.0 C 2545.0 1395.0 2537.5 1400.0 2535.0 1410.0 C 2537.5 1420.0 2545.0 1420.0 2552.5 1412.5 C 2560.0 1402.5 2570.0 1402.5 2580.0 1407.5 C 2620.0 1430.0 2670.0 1475.0 2690.0 1510.0 C 2700.0 1525.0 2710.0 1530.0 2727.5 1537.5 L 2780.0 1565.0"/>
<path class="t" d="M 2550.0 1345.0 C 2565.0 1350.0 2590.0 1340.0 2602.5 1320.0 M 2550.0 1375.0 L 2565.0 1382.5 L 2580.0 1407.5"/>
<path class="o" d="M 2555.0 1205.0 L 2582.5 1189.5 L 2597.5 1197.0 L 2597.5 1209.5 L 2570.0 1227.5 L 2555.0 1219.0 Z"/>
<path class="m" d="M 2555.0 1205.0 L 2570.0 1212.5 L 2597.5 1197.0 M 2570.0 1212.5 L 2570.0 1227.5"/>
<path class="o" d="M 2580.0 1212.5 L 2620.0 1190.5 L 2635.0 1198.0 L 2635.0 1210.5 L 2595.0 1235.0 L 2580.0 1226.5 Z"/>
<path class="m" d="M 2580.0 1212.5 L 2595.0 1220.0 L 2635.0 1198.0 M 2595.0 1220.0 L 2595.0 1235.0"/>
<path class="o" d="M 2622.5 1227.5 L 2662.5 1205.5 L 2677.5 1213.0 L 2677.5 1225.5 L 2637.5 1250.0 L 2622.5 1241.5 Z"/>
<path class="m" d="M 2622.5 1227.5 L 2637.5 1235.0 L 2677.5 1213.0 M 2637.5 1235.0 L 2637.5 1250.0"/>
<path class="o" d="M 2557.5 1250.0 L 2610.0 1225.0 L 2622.5 1240.0 L 2575.0 1265.0 C 2570.0 1272.5 2560.0 1270.0 2556.5 1262.5 C 2554.0 1256.0 2555.0 1252.5 2557.5 1250.0 Z"/>
<ellipse class="m" cx="2565.0" cy="1257.5" rx="8.5" ry="12.0" transform="rotate(-20 2565.0 1257.5)"/>
<path class="o" d="M 2557.5 1305.0 L 2607.5 1277.5 C 2617.5 1272.5 2625.0 1282.5 2622.5 1292.5 L 2572.5 1322.5 C 2565.0 1327.5 2555.0 1322.5 2555.0 1315.0 C 2554.0 1310.0 2555.0 1307.5 2557.5 1305.0 Z"/>
<ellipse class="m" cx="2564.0" cy="1312.5" rx="8.5" ry="12.0" transform="rotate(-20 2564.0 1312.5)"/>
<ellipse class="t" cx="2616.0" cy="1285.0" rx="6.0" ry="10.0" transform="rotate(-20 2616.0 1285.0)"/>
<path class="o" d="M 2577.5 1382.5 L 2620.0 1360.0 L 2632.5 1367.5 L 2632.5 1380.0 L 2590.0 1405.0 L 2577.5 1397.5 Z"/>
<path class="m" d="M 2577.5 1382.5 L 2590.0 1390.0 L 2632.5 1367.5 M 2590.0 1390.0 L 2590.0 1405.0"/>
<path class="o" d="M 2620.0 1362.5 L 2692.5 1325.0 L 2705.0 1332.5 L 2705.0 1345.0 L 2632.5 1382.5 L 2620.0 1375.0 Z"/>
<path class="m" d="M 2620.0 1362.5 L 2632.5 1370.0 L 2705.0 1332.5 M 2632.5 1370.0 L 2632.5 1382.5"/>
<path class="n" d="M 2682.5 1297.5 L 2715.0 1282.5 L 2715.0 1322.5 L 2705.0 1327.5 L 2705.0 1315.0 L 2692.5 1315.0 L 2692.5 1325.0 L 2682.5 1320.0 Z"/>
<path class="o" d="M 2682.5 1375.0 L 2727.5 1355.0 L 2785.0 1385.0 L 2717.5 1417.5 L 2717.5 1410.0 L 2682.5 1395.0 Z"/>
<path class="m" d="M 2697.5 1380.0 L 2697.5 1400.0 L 2717.5 1407.5 M 2710.0 1395.0 L 2755.0 1375.0 L 2765.0 1380.0 L 2720.0 1400.0 M 2717.5 1417.5 L 2717.5 1515.0"/>
<path class="n" d="M 2715.0 1430.0 C 2695.0 1420.0 2675.0 1425.0 2670.0 1445.0 C 2665.0 1465.0 2680.0 1485.0 2705.0 1487.5 L 2715.0 1485.0"/>
<ellipse class="n" cx="2691.0" cy="1454.0" rx="15.0" ry="19.0" transform="rotate(-15 2691.0 1454.0)"/>
<ellipse class="t" cx="2691.0" cy="1454.0" rx="9.0" ry="12.5" transform="rotate(-15 2691.0 1454.0)"/>
<path class="o" d="M 2792.5 1395.0 L 2855.0 1357.5 L 2877.5 1370.0 L 2877.5 1387.5 L 2812.5 1427.5 L 2792.5 1412.5 Z"/>
<path class="m" d="M 2792.5 1395.0 L 2812.5 1407.5 L 2877.5 1370.0 M 2812.5 1407.5 L 2812.5 1427.5"/>
<path class="o" d="M 2792.5 1457.5 L 2855.0 1420.0 L 2877.5 1432.5 L 2877.5 1450.0 L 2812.5 1490.0 L 2792.5 1475.0 Z"/>
<path class="m" d="M 2792.5 1457.5 L 2812.5 1470.0 L 2877.5 1432.5 M 2812.5 1470.0 L 2812.5 1490.0"/>
<path class="n" d="M 3090.2 1390.6 C 3097.6 1400.4 3142.0 1407.8 3181.5 1420.2 C 3206.1 1427.6 3218.4 1442.4 3218.4 1467.0 L 3218.4 1735.8 C 3216.0 1787.6 3151.9 1846.8 3082.8 1871.5 L 2954.6 1782.7"/>
<path class="m" d="M 3036.0 1420.2 L 3085.3 1464.5 L 3171.6 1422.6 C 3196.3 1427.6 3203.6 1447.3 3203.6 1467.0 L 3203.6 1733.4 C 3201.2 1782.7 3142.0 1836.9 3082.8 1855.7"/>
<path class="n" d="M 3083.8 1464.5 L 3081.8 1871.5 M 2954.6 1780.2 L 3081.8 1855.7 M 2954.6 1656.9 L 2954.6 1780.2"/>
<path class="n" d="M 2688.2 1518.8 L 2927.4 1654.4 C 2934.8 1669.2 2937.3 1679.1 2937.3 1693.9 L 2937.3 1758.0 C 2925.0 1762.9 2912.7 1767.9 2911.2 1780.2 C 2910.2 1792.5 2912.7 1799.9 2915.1 1804.9 M 2925.0 1792.5 C 2927.4 1780.2 2944.7 1777.7 2949.6 1787.6 M 2925.0 1817.2 L 2939.8 1828.1 L 2969.4 1812.3 M 2939.8 1828.1 L 2939.8 1809.8"/>
<path class="t" d="M 2727.7 1526.2 L 2954.6 1656.9 M 3026.1 1437.4 L 3026.1 1555.8 C 3023.6 1595.3 2989.1 1639.6 2954.6 1656.9 M 3081.8 1659.4 C 3077.9 1718.6 3028.6 1762.9 2959.5 1780.2"/>
<path class="l" d="M2821.4 1864.1 L2942.2 1795.0"/></g>
<g id="part4"><path class="o" d="M 2816.5 1888.7 L 2828.8 1897.1 L 2845.1 1891.2 L 2962.0 1983.9 L 2966.9 1995.7 L 2937.3 2012.0 L 2937.3 2039.1 C 2939.8 2058.9 2929.9 2063.8 2920.0 2061.3 L 2907.7 2053.9 L 2777.0 1940.5 L 2779.5 1916.8 Z"/>
<path class="t" d="M 2784.4 1938.0 L 2905.3 2034.2 L 2934.8 2019.4 M 2905.3 2034.2 L 2907.7 2053.9"/>
<path class="o" d="M 2740.0 1913.4 C 2732.6 1901.0 2740.0 1888.7 2752.4 1886.3 L 2796.7 1859.1 C 2811.5 1856.7 2821.4 1871.5 2818.9 1886.3 L 2772.1 1913.4 C 2769.6 1925.7 2757.3 1933.1 2749.9 1930.6 C 2742.5 1928.2 2738.5 1920.8 2740.0 1913.4 Z"/>
<ellipse class="m" cx="2751.4" cy="1907.0" rx="7.4" ry="11.8" transform="rotate(-25 2751.4 1907.0)"/>
<path class="m" d="M 2752.4 1886.3 C 2764.7 1888.7 2772.1 1901.0 2772.1 1913.4"/>
<path class="o" d="M 2944.7 2012.0 L 3008.8 1979.0 L 3053.2 2029.3 L 3053.2 2041.6 L 2989.1 2076.1 L 2944.7 2029.3 Z"/>
<path class="m" d="M 2944.7 2012.0 L 2989.1 2063.8 L 3053.2 2029.3 M 2989.1 2063.8 L 2989.1 2076.1"/></g>
<g id="part8"><path class="o" d="M 1325.0 1297.5 C 1330.0 1285.0 1345.0 1277.5 1367.5 1269.0 C 1377.5 1269.0 1380.0 1275.0 1380.0 1280.0 L 1380.0 1296.0 L 1427.5 1325.0 L 1440.0 1345.0 L 1865.0 1587.5 L 1895.0 1575.0 L 1920.0 1587.5 L 1940.0 1584.0 L 1975.0 1610.0 L 1975.0 1621.0 L 1917.5 1650.0 L 1855.0 1615.0 L 1830.0 1625.0 L 1820.0 1622.5 L 1392.5 1377.5 L 1375.0 1352.5 L 1325.0 1325.0 Z"/>
<path class="m" d="M 1362.5 1277.5 L 1362.5 1302.5 L 1405.0 1330.0 L 1417.5 1347.5 L 1492.5 1390.0 C 1500.0 1395.0 1497.5 1405.0 1487.5 1407.5 L 1472.5 1402.5 L 1407.5 1365.0 L 1395.0 1345.0 M 1342.5 1290.0 L 1342.5 1315.0 L 1395.0 1342.5 L 1415.0 1365.0 M 1325.0 1325.0 L 1342.5 1315.0 M 1375.0 1352.5 L 1395.0 1342.5"/>
<path class="t" d="M 1380.0 1296.0 L 1365.0 1304.0 M 1427.5 1325.0 L 1407.5 1335.0"/>
<path class="n" d="M 1580.0 1457.5 C 1582.5 1450.0 1592.5 1450.0 1600.0 1452.5 L 1735.0 1530.0 C 1742.5 1535.0 1742.5 1542.5 1735.0 1545.0 C 1725.0 1547.5 1717.5 1542.5 1710.0 1537.5 L 1585.0 1467.5 C 1580.0 1465.0 1579.0 1460.0 1580.0 1457.5 Z"/>
<path class="t" d="M 1600.0 1460.0 L 1725.0 1535.0"/>
<path class="n" d="M 1522.5 1425.0 L 1532.5 1415.0 L 1560.0 1425.0 L 1557.5 1435.0 L 1545.0 1440.0 Z"/>
<path class="t" d="M 1532.5 1415.0 L 1535.0 1427.5 L 1545.0 1430.0"/>
<path class="m" d="M 1917.5 1637.5 L 1975.0 1610.0 M 1855.0 1602.5 L 1917.5 1637.5 M 1855.0 1615.0 L 1855.0 1602.5 L 1895.0 1575.0 M 1832.5 1622.5 L 1857.5 1605.0"/></g>
<g id="part9"><path class="n" d="M1570.0 1293.2 L1568.8 1294.0 L1567.5 1294.6 L1566.2 1295.1 L1565.0 1295.4 L1563.8 1295.5 L1562.7 1295.5 L1561.7 1295.2 L1560.7 1294.8 L1559.8 1294.3 L1559.1 1293.5 L1558.4 1292.7 L1557.9 1291.6 L1557.4 1290.5 L1557.2 1289.2 L1557.0 1287.8 L1557.0 1286.4 L1557.1 1284.8 L1557.4 1283.2 L1557.8 1281.6 L1558.3 1280.0 L1558.9 1278.3 L1559.7 1276.7 L1560.5 1275.1 L1561.5 1273.6 L1562.5 1272.1 L1563.6 1270.7 L1564.8 1269.5 L1566.0 1268.3 L1567.2 1267.3 L1568.5 1266.4 L1569.8 1265.7 L1571.0 1265.1 L1572.3 1264.8 L1573.5 1264.5 L1574.7 1264.5 L1575.7 1264.6 L1576.8 1264.9 L1577.7 1265.4 L1578.5 1266.0 L1579.2 1266.8 L1579.9 1267.8 L1580.3 1268.9 L1580.7 1270.1 L1580.9 1271.4 L1581.0 1272.8 L1581.0 1274.3"/>
<path class="n" d="M1582.0 1299.2 L1580.8 1300.0 L1579.5 1300.6 L1578.2 1301.1 L1577.0 1301.4 L1575.8 1301.5 L1574.7 1301.5 L1573.7 1301.2 L1572.7 1300.8 L1571.8 1300.3 L1571.1 1299.5 L1570.4 1298.7 L1569.9 1297.6 L1569.4 1296.5 L1569.2 1295.2 L1569.0 1293.8 L1569.0 1292.4 L1569.1 1290.8 L1569.4 1289.2 L1569.8 1287.6 L1570.3 1286.0 L1570.9 1284.3 L1571.7 1282.7 L1572.5 1281.1 L1573.5 1279.6 L1574.5 1278.1 L1575.6 1276.7 L1576.8 1275.5 L1578.0 1274.3 L1579.2 1273.3 L1580.5 1272.4 L1581.8 1271.7 L1583.0 1271.1 L1584.3 1270.8 L1585.5 1270.5 L1586.7 1270.5 L1587.7 1270.6 L1588.8 1270.9 L1589.7 1271.4 L1590.5 1272.0 L1591.2 1272.8 L1591.9 1273.8 L1592.3 1274.9 L1592.7 1276.1 L1592.9 1277.4 L1593.0 1278.8 L1593.0 1280.3"/>
<path class="n" d="M1594.0 1305.2 L1592.8 1306.0 L1591.5 1306.6 L1590.2 1307.1 L1589.0 1307.4 L1587.8 1307.5 L1586.7 1307.5 L1585.7 1307.2 L1584.7 1306.8 L1583.8 1306.3 L1583.1 1305.5 L1582.4 1304.7 L1581.9 1303.6 L1581.4 1302.5 L1581.2 1301.2 L1581.0 1299.8 L1581.0 1298.4 L1581.1 1296.8 L1581.4 1295.2 L1581.8 1293.6 L1582.3 1292.0 L1582.9 1290.3 L1583.7 1288.7 L1584.5 1287.1 L1585.5 1285.6 L1586.5 1284.1 L1587.6 1282.7 L1588.8 1281.5 L1590.0 1280.3 L1591.2 1279.3 L1592.5 1278.4 L1593.8 1277.7 L1595.0 1277.1 L1596.3 1276.8 L1597.5 1276.5 L1598.7 1276.5 L1599.7 1276.6 L1600.8 1276.9 L1601.7 1277.4 L1602.5 1278.0 L1603.2 1278.8 L1603.9 1279.8 L1604.3 1280.9 L1604.7 1282.1 L1604.9 1283.4 L1605.0 1284.8 L1605.0 1286.3"/>
<path class="n" d="M1606.0 1311.2 L1604.8 1312.0 L1603.5 1312.6 L1602.2 1313.1 L1601.0 1313.4 L1599.8 1313.5 L1598.7 1313.5 L1597.7 1313.2 L1596.7 1312.8 L1595.8 1312.3 L1595.1 1311.5 L1594.4 1310.7 L1593.9 1309.6 L1593.4 1308.5 L1593.2 1307.2 L1593.0 1305.8 L1593.0 1304.4 L1593.1 1302.8 L1593.4 1301.2 L1593.8 1299.6 L1594.3 1298.0 L1594.9 1296.3 L1595.7 1294.7 L1596.5 1293.1 L1597.5 1291.6 L1598.5 1290.1 L1599.6 1288.7 L1600.8 1287.5 L1602.0 1286.3 L1603.2 1285.3 L1604.5 1284.4 L1605.8 1283.7 L1607.0 1283.1 L1608.3 1282.8 L1609.5 1282.5 L1610.7 1282.5 L1611.7 1282.6 L1612.8 1282.9 L1613.7 1283.4 L1614.5 1284.0 L1615.2 1284.8 L1615.9 1285.8 L1616.3 1286.9 L1616.7 1288.1 L1616.9 1289.4 L1617.0 1290.8 L1617.0 1292.3"/>
<path class="n" d="M1618.0 1317.2 L1616.8 1318.0 L1615.5 1318.6 L1614.2 1319.1 L1613.0 1319.4 L1611.8 1319.5 L1610.7 1319.5 L1609.7 1319.2 L1608.7 1318.8 L1607.8 1318.3 L1607.1 1317.5 L1606.4 1316.7 L1605.9 1315.6 L1605.4 1314.5 L1605.2 1313.2 L1605.0 1311.8 L1605.0 1310.4 L1605.1 1308.8 L1605.4 1307.2 L1605.8 1305.6 L1606.3 1304.0 L1606.9 1302.3 L1607.7 1300.7 L1608.5 1299.1 L1609.5 1297.6 L1610.5 1296.1 L1611.6 1294.7 L1612.8 1293.5 L1614.0 1292.3 L1615.2 1291.3 L1616.5 1290.4 L1617.8 1289.7 L1619.0 1289.1 L1620.3 1288.8 L1621.5 1288.5 L1622.7 1288.5 L1623.7 1288.6 L1624.8 1288.9 L1625.7 1289.4 L1626.5 1290.0 L1627.2 1290.8 L1627.9 1291.8 L1628.3 1292.9 L1628.7 1294.1 L1628.9 1295.4 L1629.0 1296.8 L1629.0 1298.3"/>
<path class="n" d="M1630.0 1323.2 L1628.8 1324.0 L1627.5 1324.6 L1626.2 1325.1 L1625.0 1325.4 L1623.8 1325.5 L1622.7 1325.5 L1621.7 1325.2 L1620.7 1324.8 L1619.8 1324.3 L1619.1 1323.5 L1618.4 1322.7 L1617.9 1321.6 L1617.4 1320.5 L1617.2 1319.2 L1617.0 1317.8 L1617.0 1316.4 L1617.1 1314.8 L1617.4 1313.2 L1617.8 1311.6 L1618.3 1310.0 L1618.9 1308.3 L1619.7 1306.7 L1620.5 1305.1 L1621.5 1303.6 L1622.5 1302.1 L1623.6 1300.7 L1624.8 1299.5 L1626.0 1298.3 L1627.2 1297.3 L1628.5 1296.4 L1629.8 1295.7 L1631.0 1295.1 L1632.3 1294.8 L1633.5 1294.5 L1634.7 1294.5 L1635.7 1294.6 L1636.8 1294.9 L1637.7 1295.4 L1638.5 1296.0 L1639.2 1296.8 L1639.9 1297.8 L1640.3 1298.9 L1640.7 1300.1 L1640.9 1301.4 L1641.0 1302.8 L1641.0 1304.3"/>
<path class="n" d="M1642.0 1329.2 L1640.8 1330.0 L1639.5 1330.6 L1638.2 1331.1 L1637.0 1331.4 L1635.8 1331.5 L1634.7 1331.5 L1633.7 1331.2 L1632.7 1330.8 L1631.8 1330.3 L1631.1 1329.5 L1630.4 1328.7 L1629.9 1327.6 L1629.4 1326.5 L1629.2 1325.2 L1629.0 1323.8 L1629.0 1322.4 L1629.1 1320.8 L1629.4 1319.2 L1629.8 1317.6 L1630.3 1316.0 L1630.9 1314.3 L1631.7 1312.7 L1632.5 1311.1 L1633.5 1309.6 L1634.5 1308.1 L1635.6 1306.7 L1636.8 1305.5 L1638.0 1304.3 L1639.2 1303.3 L1640.5 1302.4 L1641.8 1301.7 L1643.0 1301.1 L1644.3 1300.8 L1645.5 1300.5 L1646.7 1300.5 L1647.7 1300.6 L1648.8 1300.9 L1649.7 1301.4 L1650.5 1302.0 L1651.2 1302.8 L1651.9 1303.8 L1652.3 1304.9 L1652.7 1306.1 L1652.9 1307.4 L1653.0 1308.8 L1653.0 1310.3"/>
<path class="n" d="M 1645.0 1311.0 C 1652.5 1311.0 1656.0 1317.5 1654.0 1325.0"/></g>
<g id="part7"><path class="o" d="M 1932.5 1487.5 C 1932.5 1477.5 1940.0 1472.5 1950.0 1469.0 L 1982.5 1450.0 C 1990.0 1447.5 1997.5 1450.0 2002.5 1454.0 L 2110.0 1517.5 C 2115.0 1522.5 2115.0 1530.0 2115.0 1535.0 L 2065.0 1560.0 C 2062.5 1562.5 2062.5 1567.5 2062.5 1572.5 L 2062.5 1615.0 C 2060.0 1625.0 2052.5 1630.0 2045.0 1628.5 L 1942.5 1562.5 C 1935.0 1557.5 1931.0 1550.0 1931.0 1540.0 Z"/>
<path class="t" d="M 1960.0 1495.0 L 2055.0 1547.5 C 2061.0 1552.5 2062.5 1557.5 2062.5 1565.0 M 1960.0 1495.0 C 1957.5 1487.5 1952.5 1482.5 1947.5 1480.0"/>
<ellipse class="m" cx="1946.5" cy="1496.5" rx="7.0" ry="8.5" transform="rotate(-15 1946.5 1496.5)"/>
<ellipse class="m" cx="2049.0" cy="1611.5" rx="7.0" ry="8.5" transform="rotate(-15 2049.0 1611.5)"/>
<path class="t" d="M 1935.0 1487.5 L 1947.5 1482.5 L 1960.0 1490.0 L 1960.0 1505.0 L 1947.5 1511.0 M 2037.5 1600.0 L 2050.0 1595.0 L 2062.5 1602.5 M 2037.5 1600.0 L 2037.5 1620.0"/>
<path class="o" d="M 2017.5 1487.5 L 2050.0 1472.5 L 2067.5 1482.5 L 2067.5 1497.5 L 2087.5 1505.0 L 2080.0 1517.5 L 2065.0 1511.0 L 2035.0 1507.5 L 2022.5 1512.5 L 2017.5 1505.0 Z"/>
<path class="m" d="M 2025.0 1492.5 L 2035.0 1500.0 L 2035.0 1507.5 M 2035.0 1500.0 L 2065.0 1502.5"/>
<path class="o" d="M 2102.5 1542.5 L 2120.0 1530.0 L 2130.0 1535.0 L 2132.5 1552.5 L 2115.0 1562.5 L 2100.0 1585.0 L 2087.5 1580.0 L 2075.0 1570.0 L 2090.0 1562.5 Z"/>
<path class="o" d="M 2077.5 1600.0 L 2115.0 1582.5 L 2127.5 1592.5 L 2127.5 1615.0 L 2137.5 1640.0 L 2117.5 1660.0 L 2100.0 1627.5 L 2087.5 1630.0 L 2085.0 1612.5 Z"/>
<path class="m" d="M 2087.5 1612.5 L 2120.0 1595.0 L 2127.5 1592.5 M 2120.0 1595.0 L 2120.0 1620.0 L 2100.0 1627.5 M 2120.0 1620.0 L 2130.0 1645.0"/></g>
<g id="part6"><path class="o" d="M 2141.5 1450.0 C 2140.0 1442.5 2147.5 1439.0 2155.0 1442.5 L 2170.0 1450.0 L 2165.0 1462.5 L 2150.0 1462.5 Z"/>
<path class="o" d="M 2137.5 1447.5 C 2140.0 1435.0 2150.0 1427.5 2165.0 1422.5 L 2200.0 1402.5 C 2205.0 1395.0 2215.0 1394.0 2220.0 1397.5 L 2230.0 1402.5 C 2237.5 1397.5 2245.0 1400.0 2245.0 1407.5 L 2270.0 1422.5 L 2275.0 1420.0 L 2275.0 1435.0 L 2335.0 1487.5 C 2335.0 1510.0 2330.0 1522.5 2325.0 1527.5 L 2270.0 1557.5 C 2260.0 1565.0 2250.0 1566.0 2240.0 1560.0 C 2230.0 1552.5 2220.0 1540.0 2210.0 1525.0 C 2195.0 1505.0 2170.0 1485.0 2150.0 1470.0 C 2140.0 1462.5 2136.0 1455.0 2137.5 1447.5 Z"/>
<ellipse class="m" cx="2148.5" cy="1454.0" rx="6.5" ry="8.5" transform="rotate(-15 2148.5 1454.0)"/>
<path class="n" d="M 2172.5 1420.0 L 2205.0 1405.0 L 2207.5 1427.5 L 2227.5 1470.0 L 2245.0 1477.5 M 2245.0 1430.0 L 2270.0 1422.5 L 2267.5 1445.0 L 2250.0 1475.0 L 2227.5 1470.0 M 2250.0 1475.0 L 2282.5 1502.5 L 2325.0 1482.5 L 2300.0 1455.0"/>
<path class="m" d="M 2225.0 1540.0 C 2250.0 1530.0 2265.0 1525.0 2275.0 1520.0 L 2325.0 1497.5 M 2275.0 1520.0 L 2272.5 1557.5 M 2282.5 1487.5 L 2300.0 1445.0 M 2165.0 1430.0 C 2200.0 1455.0 2230.0 1480.0 2260.0 1500.0 L 2282.5 1502.5"/></g>
<g id="part5"><ellipse class="n" cx="2306.0" cy="1439.0" rx="15.0" ry="5.5" transform="rotate(28 2306.0 1439.0)"/>
<ellipse class="n" cx="2310.2" cy="1430.5" rx="15.0" ry="5.5" transform="rotate(28 2310.2 1430.5)"/>
<ellipse class="n" cx="2314.5" cy="1422.0" rx="15.0" ry="5.5" transform="rotate(28 2314.5 1422.0)"/>
<ellipse class="n" cx="2318.8" cy="1413.5" rx="15.0" ry="5.5" transform="rotate(28 2318.8 1413.5)"/>
<ellipse class="n" cx="2323.0" cy="1405.0" rx="15.0" ry="5.5" transform="rotate(28 2323.0 1405.0)"/>
<ellipse class="n" cx="2327.2" cy="1396.5" rx="15.0" ry="5.5" transform="rotate(28 2327.2 1396.5)"/>
<ellipse class="n" cx="2331.5" cy="1388.0" rx="15.0" ry="5.5" transform="rotate(28 2331.5 1388.0)"/>
<ellipse class="n" cx="2335.8" cy="1379.5" rx="15.0" ry="5.5" transform="rotate(28 2335.8 1379.5)"/>
<ellipse class="n" cx="2340.0" cy="1371.0" rx="15.0" ry="5.5" transform="rotate(28 2340.0 1371.0)"/></g>
<g id="part2"><path class="o" d="M 2420.0 1615.0 L 2420.0 1600.0 L 2432.5 1595.0 L 2445.0 1607.5 L 2430.0 1615.0 Z"/>
<path class="o" d="M 2505.0 1692.5 L 2540.0 1705.0 L 2540.0 1727.5 L 2505.0 1715.0 Z"/>
<path class="t" d="M 2522.5 1710.0 C 2529.0 1711.0 2529.0 1717.5 2524.0 1719.0"/>
<path class="o" d="M 2505.0 1727.5 L 2540.0 1740.0 L 2540.0 1762.5 L 2505.0 1750.0 Z"/>
<path class="t" d="M 2522.5 1745.0 C 2529.0 1746.0 2529.0 1752.5 2524.0 1754.0"/>
<path class="o" d="M 2505.0 1760.0 L 2540.0 1772.5 L 2540.0 1795.0 L 2505.0 1782.5 Z"/>
<path class="t" d="M 2522.5 1777.5 C 2529.0 1778.5 2529.0 1785.0 2524.0 1786.5"/>
<path class="o" d="M 2402.5 1652.5 L 2420.0 1615.0 L 2460.0 1600.0 L 2522.5 1637.5 L 2522.5 1800.0 L 2497.5 1817.5 C 2485.0 1822.5 2475.0 1820.0 2467.5 1817.5 L 2402.5 1777.5 Z"/>
<path class="m" d="M 2402.5 1652.5 L 2470.0 1685.0 L 2470.0 1817.5 M 2470.0 1685.0 L 2485.0 1657.5 L 2522.5 1637.5 M 2420.0 1615.0 L 2485.0 1657.5"/>
<path class="n" d="M 2410.0 1667.5 L 2457.5 1692.5 L 2457.5 1792.5 L 2410.0 1765.0 Z"/>
<path class="t" d="M 2417.5 1675.0 L 2450.0 1695.0 L 2450.0 1785.0"/>
<path class="o" d="M 2385.0 1715.0 L 2417.5 1705.0 L 2442.5 1720.0 L 2442.5 1752.5 L 2420.0 1762.5 L 2385.0 1742.5 Z"/>
<path class="m" d="M 2385.0 1725.0 L 2417.5 1740.0 L 2442.5 1725.0 M 2387.5 1735.0 L 2420.0 1750.0 M 2417.5 1740.0 L 2420.0 1762.5"/></g>
<g id="part3"><path class="n" d="M3158 1040 C3158 1035 3162 1033 3167 1036 L3320 1119 C3326 1122 3328 1127 3328 1133 L3328 1340 L3172 1254 C3162 1248 3158 1242 3158 1232 Z"/>
<path class="l" d="M2893.0 1125.0 L3158.0 1125.0"/>
<path class="l" d="M3046.0 1295.0 L3233.0 1187.0"/></g>
<g id="part52"><path class="o" d="M 1611.0 1785.0 C 1611.0 1772.5 1641.0 1772.5 1641.0 1785.0 L 1641.0 1812.5 L 1635.0 1826.0 C 1630.0 1830.0 1622.5 1830.0 1617.5 1826.0 L 1611.0 1812.5 Z"/>
<path class="m" d="M 1611.0 1785.0 C 1611.0 1796.0 1641.0 1796.0 1641.0 1785.0 M 1611.0 1794.0 C 1615.0 1804.0 1637.5 1804.0 1641.0 1794.0 M 1611.0 1803.0 C 1615.0 1813.0 1637.5 1813.0 1641.0 1803.0 M 1612.0 1812.5 C 1616.0 1821.0 1636.0 1821.0 1640.0 1812.5"/>
<ellipse class="m" cx="1626.0" cy="1784.0" rx="8.0" ry="4.0"/>
<path class="l" d="M1627.5 1827.5 L1627.5 1892.5"/></g>
<g id="labels_all"><text x="2203.0" y="748.0" text-anchor="middle">1</text>
<path class="l" d="M2211.0 762.0 L2211.0 885.0"/>
<text x="2427.0" y="2039.0" text-anchor="middle">2</text>
<path class="l" d="M2426.0 1794.0 L2426.0 1987.0"/>
<text x="2769.0" y="1771.0" text-anchor="middle">4</text>
<path class="l" d="M2773.0 1789.0 L2773.0 1866.0"/>
<text x="2226.0" y="1921.0" text-anchor="middle">6</text>
<path class="l" d="M2225.0 1542.0 L2225.0 1866.0"/>
<text x="2031.0" y="1809.0" text-anchor="middle">7</text>
<path class="l" d="M2030.0 1620.0 L2030.0 1758.0"/>
<text x="1942.5" y="1755.0" text-anchor="middle">8</text>
<path class="l" d="M1941.5 1642.0 L1941.5 1708.0"/>
<text x="1806.5" y="1797.5" text-anchor="middle">15</text>
<path class="l" d="M1806.5 1814.0 L1806.5 2082.0"/>
<text x="2511.0" y="2204.0" text-anchor="middle">19</text>
<path class="l" d="M2510.0 2222.0 L2510.0 2462.0"/>
<text x="1632.5" y="1697.5" text-anchor="middle">52</text>
<path class="l" d="M1633.5 1715.0 L1633.5 1772.0"/>
<text x="1033.0" y="2148.0" text-anchor="middle">30</text>
<path class="l" d="M1034.0 2165.0 L1034.0 2346.0"/>
<text x="1135.0" y="2208.0" text-anchor="middle">31</text>
<path class="l" d="M1137.0 2225.0 L1137.0 2417.0"/>
<text x="1257.0" y="2278.0" text-anchor="middle">32</text>
<path class="l" d="M1257.0 2295.0 L1257.0 2435.0"/>
<text x="1370.0" y="2343.0" text-anchor="middle">33</text>
<path class="l" d="M1372.0 2360.0 L1372.0 2537.0"/>
<text x="1520.0" y="2428.0" text-anchor="middle">34</text>
<path class="l" d="M1521.0 2445.0 L1521.0 2675.0"/>
<text x="1590.0" y="2470.0" text-anchor="middle">35</text>
<path class="l" d="M1591.0 2487.0 L1591.0 2718.0"/>
<text x="1720.0" y="2545.0" text-anchor="middle">36</text>
<path class="l" d="M1720.0 2562.0 L1720.0 2727.0"/>
<text x="1823.0" y="2605.0" text-anchor="middle">37</text>
<path class="l" d="M1825.0 2622.0 L1825.0 2792.0"/>
<text x="1927.0" y="2663.0" text-anchor="middle">38</text>
<path class="l" d="M1928.0 2680.0 L1928.0 2880.0"/>
<text x="2040.0" y="2727.0" text-anchor="middle">39</text>
<path class="l" d="M2040.0 2745.0 L2040.0 2940.0"/>
<text x="2180.0" y="2810.0" text-anchor="middle">40</text>
<path class="l" d="M2181.0 2827.0 L2181.0 3000.0"/>
<text x="2300.0" y="2880.0" text-anchor="middle">41</text>
<path class="l" d="M2303.0 2897.0 L2303.0 3094.0"/>
<text x="1214.0" y="2880.0" text-anchor="middle">47</text>
<path class="l" d="M1216.0 2628.0 L1216.0 2828.0"/>
<text x="964.0" y="2720.0" text-anchor="middle">48</text>
<path class="l" d="M966.0 2738.0 L966.0 2938.0"/>
<text x="1770.7" y="3197.0" text-anchor="middle">46</text>
<path class="l" d="M1771.0 2985.0 L1771.0 3136.0"/>
<text x="1897.0" y="3258.0" text-anchor="middle">50</text>
<path class="l" d="M1897.0 3275.0 L1897.0 3454.0"/>
<text x="2129.0" y="3404.0" text-anchor="middle">45</text>
<path class="l" d="M2134.0 3203.0 L2134.0 3355.0"/>
<text x="2270.0" y="3477.0" text-anchor="middle">51</text>
<path class="l" d="M2272.6 3495.0 L2272.6 3608.0"/>
<text x="981.4" y="3746.0" text-anchor="middle">49</text>
<path class="l" d="M984.0 3563.0 L984.0 3698.0"/>
<text x="2462.0" y="3010.0" text-anchor="middle">42</text>
<path class="l" d="M2461.4 3024.0 L2461.4 3149.0"/>
<text x="2717.5" y="3121.5" text-anchor="middle">43</text>
<path class="l" d="M2719.6 3138.0 L2719.6 3298.0"/>
<text x="2971.5" y="3268.0" text-anchor="middle">44</text>
<path class="l" d="M2973.6 3284.0 L2973.6 3420.0"/>
<text x="2863.0" y="1140.0" text-anchor="middle">3</text>
<text x="2433.0" y="1488.0" text-anchor="middle">5</text>
<text x="1728.5" y="1237.5" text-anchor="middle">9</text>
<text x="2530.5" y="2869.0" text-anchor="middle">20</text>
<path class="l" d="M2335.0 1411.0 L2415.0 1455.0"/>
<path class="l" d="M1620.0 1285.0 L1702.5 1240.0"/>
<path class="l" d="M1657.5 1327.5 L1520.0 1407.5"/>
<path class="l" d="M1432.5 1322.5 L1947.5 1027.5"/>
<path class="l" d="M2012.5 1450.0 L2445.0 1215.0"/>
<path class="l" d="M2531.0 2733.0 L2531.0 2830.0"/>
<path class="k" d="M760.0 2287.5 L837.5 2242.5 L837.5 2335.0 L760.0 2379.0 Z"/>
<text transform="translate(798.0 2345.0) skewY(-30)" text-anchor="middle" style="fill:#fff;font-size:92px" x="0" y="0">A</text></g>
</svg></body></html>
